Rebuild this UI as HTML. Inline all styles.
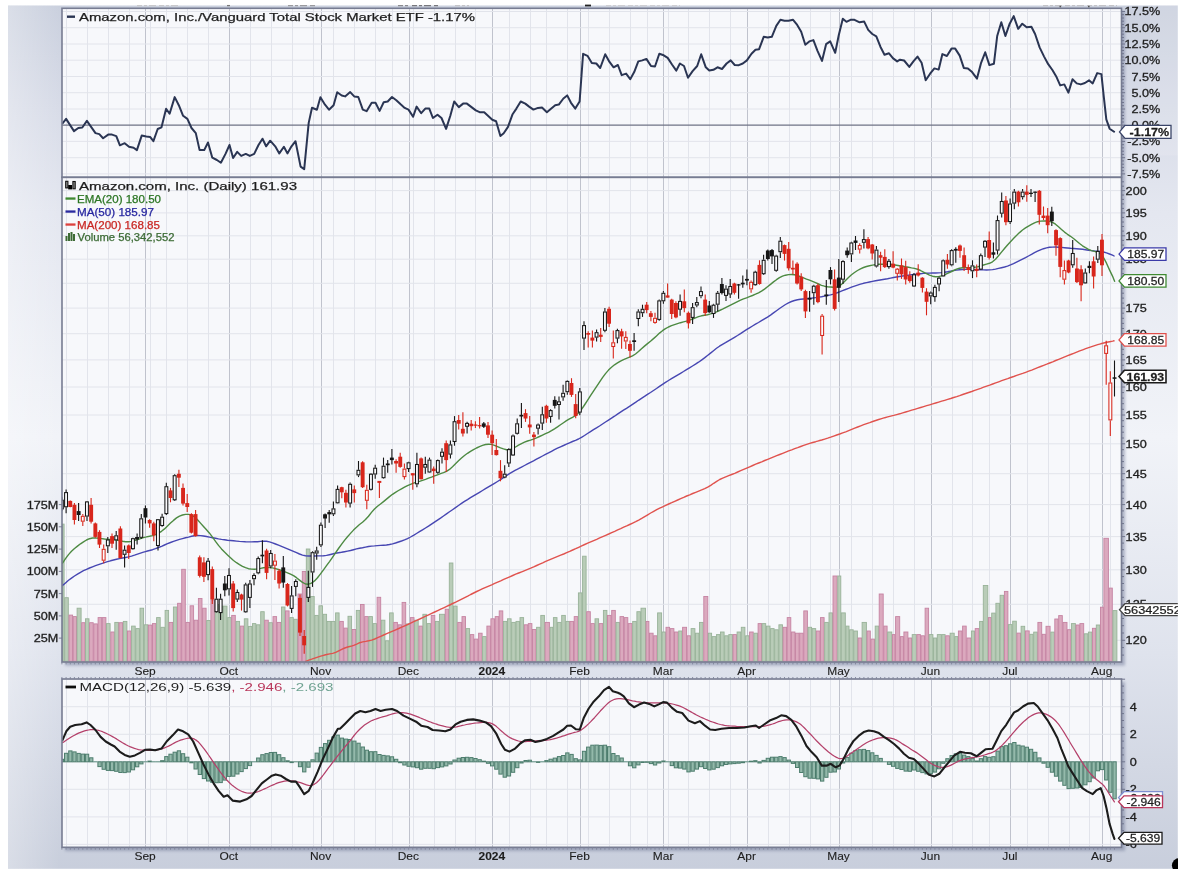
<!DOCTYPE html>
<html><head><meta charset="utf-8"><title>chart</title>
<style>html,body{margin:0;padding:0;background:#fff;}body{width:1182px;height:874px;position:relative;overflow:hidden;font-family:"Liberation Sans",sans-serif;}</style>
</head><body>
<svg width="1182" height="874" viewBox="0 0 1182 874" style="position:absolute;left:0;top:0;font-family:'Liberation Sans',sans-serif">
<defs>
<linearGradient id="bg" x1="0" x2="0" y1="0" y2="1">
<stop offset="0" stop-color="#cad0de"/><stop offset="0.12" stop-color="#d8dce8"/><stop offset="0.24" stop-color="#e4e7f0"/><stop offset="0.5" stop-color="#f1f3f8"/><stop offset="0.75" stop-color="#dfe3ed"/><stop offset="0.88" stop-color="#d3d8e4"/><stop offset="1" stop-color="#c8cedc"/>
</linearGradient>
<linearGradient id="lw" x1="0" x2="1" y1="0" y2="0">
<stop offset="0" stop-color="#ffffff" stop-opacity="0.3"/><stop offset="1" stop-color="#ffffff" stop-opacity="0"/>
</linearGradient>
<filter id="blur" x="-2%" y="-2%" width="104%" height="104%"><feGaussianBlur stdDeviation="0.38"/></filter>
<filter id="sh" x="-5%" y="-5%" width="110%" height="110%"><feGaussianBlur stdDeviation="1.8"/></filter>
<clipPath id="cpb"><rect x="8" y="5.5" width="1169.8" height="863.3"/></clipPath>
<clipPath id="cp1"><rect x="62" y="8" width="1059.5" height="169.3"/></clipPath>
<clipPath id="cp2"><rect x="62" y="177" width="1059.5" height="485"/></clipPath>
<clipPath id="cp3"><rect x="62" y="679" width="1059.5" height="168.3"/></clipPath>
</defs>
<rect x="0" y="0" width="1182" height="874" fill="#ffffff"/>
<g filter="url(#blur)">
<rect x="8" y="5.5" width="1169.8" height="863.3" fill="url(#bg)"/>
<rect x="8" y="5.5" width="52" height="863.3" fill="url(#lw)"/>
<rect x="1150" y="5.5" width="27.8" height="150" fill="#ffffff" opacity="0.12"/>
<rect x="65" y="11.3" width="1060.0" height="654.2" fill="#5a6486" opacity="0.42" filter="url(#sh)"/>
<rect x="65" y="682" width="1060.0" height="168.79999999999995" fill="#5a6486" opacity="0.42" filter="url(#sh)"/>
<rect x="62" y="8.3" width="1059.5" height="169.0" fill="#f7f8fb"/>
<rect x="62" y="177.3" width="1059.5" height="484.7" fill="#f7f8fb"/>
<rect x="62" y="679" width="1059.5" height="168.29999999999995" fill="#f7f8fb"/>
<line x1="66.5" y1="8.3" x2="66.5" y2="177.3" stroke="#e2e4eb" stroke-width="1"/>
<line x1="87.5" y1="8.3" x2="87.5" y2="177.3" stroke="#e2e4eb" stroke-width="1"/>
<line x1="108.5" y1="8.3" x2="108.5" y2="177.3" stroke="#e2e4eb" stroke-width="1"/>
<line x1="129.5" y1="8.3" x2="129.5" y2="177.3" stroke="#e2e4eb" stroke-width="1"/>
<line x1="150.5" y1="8.3" x2="150.5" y2="177.3" stroke="#e2e4eb" stroke-width="1"/>
<line x1="166.5" y1="8.3" x2="166.5" y2="177.3" stroke="#e2e4eb" stroke-width="1"/>
<line x1="187.5" y1="8.3" x2="187.5" y2="177.3" stroke="#e2e4eb" stroke-width="1"/>
<line x1="208.5" y1="8.3" x2="208.5" y2="177.3" stroke="#e2e4eb" stroke-width="1"/>
<line x1="250.5" y1="8.3" x2="250.5" y2="177.3" stroke="#e2e4eb" stroke-width="1"/>
<line x1="271.5" y1="8.3" x2="271.5" y2="177.3" stroke="#e2e4eb" stroke-width="1"/>
<line x1="292.5" y1="8.3" x2="292.5" y2="177.3" stroke="#e2e4eb" stroke-width="1"/>
<line x1="313.5" y1="8.3" x2="313.5" y2="177.3" stroke="#e2e4eb" stroke-width="1"/>
<line x1="333.5" y1="8.3" x2="333.5" y2="177.3" stroke="#e2e4eb" stroke-width="1"/>
<line x1="354.5" y1="8.3" x2="354.5" y2="177.3" stroke="#e2e4eb" stroke-width="1"/>
<line x1="375.5" y1="8.3" x2="375.5" y2="177.3" stroke="#e2e4eb" stroke-width="1"/>
<line x1="392.5" y1="8.3" x2="392.5" y2="177.3" stroke="#e2e4eb" stroke-width="1"/>
<line x1="413.5" y1="8.3" x2="413.5" y2="177.3" stroke="#e2e4eb" stroke-width="1"/>
<line x1="434.5" y1="8.3" x2="434.5" y2="177.3" stroke="#e2e4eb" stroke-width="1"/>
<line x1="455.5" y1="8.3" x2="455.5" y2="177.3" stroke="#e2e4eb" stroke-width="1"/>
<line x1="475.5" y1="8.3" x2="475.5" y2="177.3" stroke="#e2e4eb" stroke-width="1"/>
<line x1="509.5" y1="8.3" x2="509.5" y2="177.3" stroke="#e2e4eb" stroke-width="1"/>
<line x1="530.5" y1="8.3" x2="530.5" y2="177.3" stroke="#e2e4eb" stroke-width="1"/>
<line x1="546.5" y1="8.3" x2="546.5" y2="177.3" stroke="#e2e4eb" stroke-width="1"/>
<line x1="567.5" y1="8.3" x2="567.5" y2="177.3" stroke="#e2e4eb" stroke-width="1"/>
<line x1="588.5" y1="8.3" x2="588.5" y2="177.3" stroke="#e2e4eb" stroke-width="1"/>
<line x1="609.5" y1="8.3" x2="609.5" y2="177.3" stroke="#e2e4eb" stroke-width="1"/>
<line x1="630.5" y1="8.3" x2="630.5" y2="177.3" stroke="#e2e4eb" stroke-width="1"/>
<line x1="647.5" y1="8.3" x2="647.5" y2="177.3" stroke="#e2e4eb" stroke-width="1"/>
<line x1="668.5" y1="8.3" x2="668.5" y2="177.3" stroke="#e2e4eb" stroke-width="1"/>
<line x1="688.5" y1="8.3" x2="688.5" y2="177.3" stroke="#e2e4eb" stroke-width="1"/>
<line x1="709.5" y1="8.3" x2="709.5" y2="177.3" stroke="#e2e4eb" stroke-width="1"/>
<line x1="730.5" y1="8.3" x2="730.5" y2="177.3" stroke="#e2e4eb" stroke-width="1"/>
<line x1="768.5" y1="8.3" x2="768.5" y2="177.3" stroke="#e2e4eb" stroke-width="1"/>
<line x1="789.5" y1="8.3" x2="789.5" y2="177.3" stroke="#e2e4eb" stroke-width="1"/>
<line x1="810.5" y1="8.3" x2="810.5" y2="177.3" stroke="#e2e4eb" stroke-width="1"/>
<line x1="830.5" y1="8.3" x2="830.5" y2="177.3" stroke="#e2e4eb" stroke-width="1"/>
<line x1="851.5" y1="8.3" x2="851.5" y2="177.3" stroke="#e2e4eb" stroke-width="1"/>
<line x1="872.5" y1="8.3" x2="872.5" y2="177.3" stroke="#e2e4eb" stroke-width="1"/>
<line x1="893.5" y1="8.3" x2="893.5" y2="177.3" stroke="#e2e4eb" stroke-width="1"/>
<line x1="914.5" y1="8.3" x2="914.5" y2="177.3" stroke="#e2e4eb" stroke-width="1"/>
<line x1="952.5" y1="8.3" x2="952.5" y2="177.3" stroke="#e2e4eb" stroke-width="1"/>
<line x1="972.5" y1="8.3" x2="972.5" y2="177.3" stroke="#e2e4eb" stroke-width="1"/>
<line x1="989.5" y1="8.3" x2="989.5" y2="177.3" stroke="#e2e4eb" stroke-width="1"/>
<line x1="1027.5" y1="8.3" x2="1027.5" y2="177.3" stroke="#e2e4eb" stroke-width="1"/>
<line x1="1048.5" y1="8.3" x2="1048.5" y2="177.3" stroke="#e2e4eb" stroke-width="1"/>
<line x1="1069.5" y1="8.3" x2="1069.5" y2="177.3" stroke="#e2e4eb" stroke-width="1"/>
<line x1="1089.5" y1="8.3" x2="1089.5" y2="177.3" stroke="#e2e4eb" stroke-width="1"/>
<line x1="1110.5" y1="8.3" x2="1110.5" y2="177.3" stroke="#e2e4eb" stroke-width="1"/>
<line x1="145.5" y1="8.3" x2="145.5" y2="177.3" stroke="#c0c3cd" stroke-width="1"/>
<line x1="229.5" y1="8.3" x2="229.5" y2="177.3" stroke="#c0c3cd" stroke-width="1"/>
<line x1="321.5" y1="8.3" x2="321.5" y2="177.3" stroke="#c0c3cd" stroke-width="1"/>
<line x1="409.5" y1="8.3" x2="409.5" y2="177.3" stroke="#c0c3cd" stroke-width="1"/>
<line x1="492.5" y1="8.3" x2="492.5" y2="177.3" stroke="#c0c3cd" stroke-width="1"/>
<line x1="580.5" y1="8.3" x2="580.5" y2="177.3" stroke="#c0c3cd" stroke-width="1"/>
<line x1="663.5" y1="8.3" x2="663.5" y2="177.3" stroke="#c0c3cd" stroke-width="1"/>
<line x1="747.5" y1="8.3" x2="747.5" y2="177.3" stroke="#c0c3cd" stroke-width="1"/>
<line x1="839.5" y1="8.3" x2="839.5" y2="177.3" stroke="#c0c3cd" stroke-width="1"/>
<line x1="931.5" y1="8.3" x2="931.5" y2="177.3" stroke="#c0c3cd" stroke-width="1"/>
<line x1="1010.5" y1="8.3" x2="1010.5" y2="177.3" stroke="#c0c3cd" stroke-width="1"/>
<line x1="1102.5" y1="8.3" x2="1102.5" y2="177.3" stroke="#c0c3cd" stroke-width="1"/>
<line x1="66.5" y1="177.3" x2="66.5" y2="662" stroke="#e2e4eb" stroke-width="1"/>
<line x1="87.5" y1="177.3" x2="87.5" y2="662" stroke="#e2e4eb" stroke-width="1"/>
<line x1="108.5" y1="177.3" x2="108.5" y2="662" stroke="#e2e4eb" stroke-width="1"/>
<line x1="129.5" y1="177.3" x2="129.5" y2="662" stroke="#e2e4eb" stroke-width="1"/>
<line x1="150.5" y1="177.3" x2="150.5" y2="662" stroke="#e2e4eb" stroke-width="1"/>
<line x1="166.5" y1="177.3" x2="166.5" y2="662" stroke="#e2e4eb" stroke-width="1"/>
<line x1="187.5" y1="177.3" x2="187.5" y2="662" stroke="#e2e4eb" stroke-width="1"/>
<line x1="208.5" y1="177.3" x2="208.5" y2="662" stroke="#e2e4eb" stroke-width="1"/>
<line x1="250.5" y1="177.3" x2="250.5" y2="662" stroke="#e2e4eb" stroke-width="1"/>
<line x1="271.5" y1="177.3" x2="271.5" y2="662" stroke="#e2e4eb" stroke-width="1"/>
<line x1="292.5" y1="177.3" x2="292.5" y2="662" stroke="#e2e4eb" stroke-width="1"/>
<line x1="313.5" y1="177.3" x2="313.5" y2="662" stroke="#e2e4eb" stroke-width="1"/>
<line x1="333.5" y1="177.3" x2="333.5" y2="662" stroke="#e2e4eb" stroke-width="1"/>
<line x1="354.5" y1="177.3" x2="354.5" y2="662" stroke="#e2e4eb" stroke-width="1"/>
<line x1="375.5" y1="177.3" x2="375.5" y2="662" stroke="#e2e4eb" stroke-width="1"/>
<line x1="392.5" y1="177.3" x2="392.5" y2="662" stroke="#e2e4eb" stroke-width="1"/>
<line x1="413.5" y1="177.3" x2="413.5" y2="662" stroke="#e2e4eb" stroke-width="1"/>
<line x1="434.5" y1="177.3" x2="434.5" y2="662" stroke="#e2e4eb" stroke-width="1"/>
<line x1="455.5" y1="177.3" x2="455.5" y2="662" stroke="#e2e4eb" stroke-width="1"/>
<line x1="475.5" y1="177.3" x2="475.5" y2="662" stroke="#e2e4eb" stroke-width="1"/>
<line x1="509.5" y1="177.3" x2="509.5" y2="662" stroke="#e2e4eb" stroke-width="1"/>
<line x1="530.5" y1="177.3" x2="530.5" y2="662" stroke="#e2e4eb" stroke-width="1"/>
<line x1="546.5" y1="177.3" x2="546.5" y2="662" stroke="#e2e4eb" stroke-width="1"/>
<line x1="567.5" y1="177.3" x2="567.5" y2="662" stroke="#e2e4eb" stroke-width="1"/>
<line x1="588.5" y1="177.3" x2="588.5" y2="662" stroke="#e2e4eb" stroke-width="1"/>
<line x1="609.5" y1="177.3" x2="609.5" y2="662" stroke="#e2e4eb" stroke-width="1"/>
<line x1="630.5" y1="177.3" x2="630.5" y2="662" stroke="#e2e4eb" stroke-width="1"/>
<line x1="647.5" y1="177.3" x2="647.5" y2="662" stroke="#e2e4eb" stroke-width="1"/>
<line x1="668.5" y1="177.3" x2="668.5" y2="662" stroke="#e2e4eb" stroke-width="1"/>
<line x1="688.5" y1="177.3" x2="688.5" y2="662" stroke="#e2e4eb" stroke-width="1"/>
<line x1="709.5" y1="177.3" x2="709.5" y2="662" stroke="#e2e4eb" stroke-width="1"/>
<line x1="730.5" y1="177.3" x2="730.5" y2="662" stroke="#e2e4eb" stroke-width="1"/>
<line x1="768.5" y1="177.3" x2="768.5" y2="662" stroke="#e2e4eb" stroke-width="1"/>
<line x1="789.5" y1="177.3" x2="789.5" y2="662" stroke="#e2e4eb" stroke-width="1"/>
<line x1="810.5" y1="177.3" x2="810.5" y2="662" stroke="#e2e4eb" stroke-width="1"/>
<line x1="830.5" y1="177.3" x2="830.5" y2="662" stroke="#e2e4eb" stroke-width="1"/>
<line x1="851.5" y1="177.3" x2="851.5" y2="662" stroke="#e2e4eb" stroke-width="1"/>
<line x1="872.5" y1="177.3" x2="872.5" y2="662" stroke="#e2e4eb" stroke-width="1"/>
<line x1="893.5" y1="177.3" x2="893.5" y2="662" stroke="#e2e4eb" stroke-width="1"/>
<line x1="914.5" y1="177.3" x2="914.5" y2="662" stroke="#e2e4eb" stroke-width="1"/>
<line x1="952.5" y1="177.3" x2="952.5" y2="662" stroke="#e2e4eb" stroke-width="1"/>
<line x1="972.5" y1="177.3" x2="972.5" y2="662" stroke="#e2e4eb" stroke-width="1"/>
<line x1="989.5" y1="177.3" x2="989.5" y2="662" stroke="#e2e4eb" stroke-width="1"/>
<line x1="1027.5" y1="177.3" x2="1027.5" y2="662" stroke="#e2e4eb" stroke-width="1"/>
<line x1="1048.5" y1="177.3" x2="1048.5" y2="662" stroke="#e2e4eb" stroke-width="1"/>
<line x1="1069.5" y1="177.3" x2="1069.5" y2="662" stroke="#e2e4eb" stroke-width="1"/>
<line x1="1089.5" y1="177.3" x2="1089.5" y2="662" stroke="#e2e4eb" stroke-width="1"/>
<line x1="1110.5" y1="177.3" x2="1110.5" y2="662" stroke="#e2e4eb" stroke-width="1"/>
<line x1="145.5" y1="177.3" x2="145.5" y2="662" stroke="#c0c3cd" stroke-width="1"/>
<line x1="229.5" y1="177.3" x2="229.5" y2="662" stroke="#c0c3cd" stroke-width="1"/>
<line x1="321.5" y1="177.3" x2="321.5" y2="662" stroke="#c0c3cd" stroke-width="1"/>
<line x1="409.5" y1="177.3" x2="409.5" y2="662" stroke="#c0c3cd" stroke-width="1"/>
<line x1="492.5" y1="177.3" x2="492.5" y2="662" stroke="#c0c3cd" stroke-width="1"/>
<line x1="580.5" y1="177.3" x2="580.5" y2="662" stroke="#c0c3cd" stroke-width="1"/>
<line x1="663.5" y1="177.3" x2="663.5" y2="662" stroke="#c0c3cd" stroke-width="1"/>
<line x1="747.5" y1="177.3" x2="747.5" y2="662" stroke="#c0c3cd" stroke-width="1"/>
<line x1="839.5" y1="177.3" x2="839.5" y2="662" stroke="#c0c3cd" stroke-width="1"/>
<line x1="931.5" y1="177.3" x2="931.5" y2="662" stroke="#c0c3cd" stroke-width="1"/>
<line x1="1010.5" y1="177.3" x2="1010.5" y2="662" stroke="#c0c3cd" stroke-width="1"/>
<line x1="1102.5" y1="177.3" x2="1102.5" y2="662" stroke="#c0c3cd" stroke-width="1"/>
<line x1="66.5" y1="679" x2="66.5" y2="847.3" stroke="#e2e4eb" stroke-width="1"/>
<line x1="87.5" y1="679" x2="87.5" y2="847.3" stroke="#e2e4eb" stroke-width="1"/>
<line x1="108.5" y1="679" x2="108.5" y2="847.3" stroke="#e2e4eb" stroke-width="1"/>
<line x1="129.5" y1="679" x2="129.5" y2="847.3" stroke="#e2e4eb" stroke-width="1"/>
<line x1="150.5" y1="679" x2="150.5" y2="847.3" stroke="#e2e4eb" stroke-width="1"/>
<line x1="166.5" y1="679" x2="166.5" y2="847.3" stroke="#e2e4eb" stroke-width="1"/>
<line x1="187.5" y1="679" x2="187.5" y2="847.3" stroke="#e2e4eb" stroke-width="1"/>
<line x1="208.5" y1="679" x2="208.5" y2="847.3" stroke="#e2e4eb" stroke-width="1"/>
<line x1="250.5" y1="679" x2="250.5" y2="847.3" stroke="#e2e4eb" stroke-width="1"/>
<line x1="271.5" y1="679" x2="271.5" y2="847.3" stroke="#e2e4eb" stroke-width="1"/>
<line x1="292.5" y1="679" x2="292.5" y2="847.3" stroke="#e2e4eb" stroke-width="1"/>
<line x1="313.5" y1="679" x2="313.5" y2="847.3" stroke="#e2e4eb" stroke-width="1"/>
<line x1="333.5" y1="679" x2="333.5" y2="847.3" stroke="#e2e4eb" stroke-width="1"/>
<line x1="354.5" y1="679" x2="354.5" y2="847.3" stroke="#e2e4eb" stroke-width="1"/>
<line x1="375.5" y1="679" x2="375.5" y2="847.3" stroke="#e2e4eb" stroke-width="1"/>
<line x1="392.5" y1="679" x2="392.5" y2="847.3" stroke="#e2e4eb" stroke-width="1"/>
<line x1="413.5" y1="679" x2="413.5" y2="847.3" stroke="#e2e4eb" stroke-width="1"/>
<line x1="434.5" y1="679" x2="434.5" y2="847.3" stroke="#e2e4eb" stroke-width="1"/>
<line x1="455.5" y1="679" x2="455.5" y2="847.3" stroke="#e2e4eb" stroke-width="1"/>
<line x1="475.5" y1="679" x2="475.5" y2="847.3" stroke="#e2e4eb" stroke-width="1"/>
<line x1="509.5" y1="679" x2="509.5" y2="847.3" stroke="#e2e4eb" stroke-width="1"/>
<line x1="530.5" y1="679" x2="530.5" y2="847.3" stroke="#e2e4eb" stroke-width="1"/>
<line x1="546.5" y1="679" x2="546.5" y2="847.3" stroke="#e2e4eb" stroke-width="1"/>
<line x1="567.5" y1="679" x2="567.5" y2="847.3" stroke="#e2e4eb" stroke-width="1"/>
<line x1="588.5" y1="679" x2="588.5" y2="847.3" stroke="#e2e4eb" stroke-width="1"/>
<line x1="609.5" y1="679" x2="609.5" y2="847.3" stroke="#e2e4eb" stroke-width="1"/>
<line x1="630.5" y1="679" x2="630.5" y2="847.3" stroke="#e2e4eb" stroke-width="1"/>
<line x1="647.5" y1="679" x2="647.5" y2="847.3" stroke="#e2e4eb" stroke-width="1"/>
<line x1="668.5" y1="679" x2="668.5" y2="847.3" stroke="#e2e4eb" stroke-width="1"/>
<line x1="688.5" y1="679" x2="688.5" y2="847.3" stroke="#e2e4eb" stroke-width="1"/>
<line x1="709.5" y1="679" x2="709.5" y2="847.3" stroke="#e2e4eb" stroke-width="1"/>
<line x1="730.5" y1="679" x2="730.5" y2="847.3" stroke="#e2e4eb" stroke-width="1"/>
<line x1="768.5" y1="679" x2="768.5" y2="847.3" stroke="#e2e4eb" stroke-width="1"/>
<line x1="789.5" y1="679" x2="789.5" y2="847.3" stroke="#e2e4eb" stroke-width="1"/>
<line x1="810.5" y1="679" x2="810.5" y2="847.3" stroke="#e2e4eb" stroke-width="1"/>
<line x1="830.5" y1="679" x2="830.5" y2="847.3" stroke="#e2e4eb" stroke-width="1"/>
<line x1="851.5" y1="679" x2="851.5" y2="847.3" stroke="#e2e4eb" stroke-width="1"/>
<line x1="872.5" y1="679" x2="872.5" y2="847.3" stroke="#e2e4eb" stroke-width="1"/>
<line x1="893.5" y1="679" x2="893.5" y2="847.3" stroke="#e2e4eb" stroke-width="1"/>
<line x1="914.5" y1="679" x2="914.5" y2="847.3" stroke="#e2e4eb" stroke-width="1"/>
<line x1="952.5" y1="679" x2="952.5" y2="847.3" stroke="#e2e4eb" stroke-width="1"/>
<line x1="972.5" y1="679" x2="972.5" y2="847.3" stroke="#e2e4eb" stroke-width="1"/>
<line x1="989.5" y1="679" x2="989.5" y2="847.3" stroke="#e2e4eb" stroke-width="1"/>
<line x1="1027.5" y1="679" x2="1027.5" y2="847.3" stroke="#e2e4eb" stroke-width="1"/>
<line x1="1048.5" y1="679" x2="1048.5" y2="847.3" stroke="#e2e4eb" stroke-width="1"/>
<line x1="1069.5" y1="679" x2="1069.5" y2="847.3" stroke="#e2e4eb" stroke-width="1"/>
<line x1="1089.5" y1="679" x2="1089.5" y2="847.3" stroke="#e2e4eb" stroke-width="1"/>
<line x1="1110.5" y1="679" x2="1110.5" y2="847.3" stroke="#e2e4eb" stroke-width="1"/>
<line x1="145.5" y1="679" x2="145.5" y2="847.3" stroke="#c0c3cd" stroke-width="1"/>
<line x1="229.5" y1="679" x2="229.5" y2="847.3" stroke="#c0c3cd" stroke-width="1"/>
<line x1="321.5" y1="679" x2="321.5" y2="847.3" stroke="#c0c3cd" stroke-width="1"/>
<line x1="409.5" y1="679" x2="409.5" y2="847.3" stroke="#c0c3cd" stroke-width="1"/>
<line x1="492.5" y1="679" x2="492.5" y2="847.3" stroke="#c0c3cd" stroke-width="1"/>
<line x1="580.5" y1="679" x2="580.5" y2="847.3" stroke="#c0c3cd" stroke-width="1"/>
<line x1="663.5" y1="679" x2="663.5" y2="847.3" stroke="#c0c3cd" stroke-width="1"/>
<line x1="747.5" y1="679" x2="747.5" y2="847.3" stroke="#c0c3cd" stroke-width="1"/>
<line x1="839.5" y1="679" x2="839.5" y2="847.3" stroke="#c0c3cd" stroke-width="1"/>
<line x1="931.5" y1="679" x2="931.5" y2="847.3" stroke="#c0c3cd" stroke-width="1"/>
<line x1="1010.5" y1="679" x2="1010.5" y2="847.3" stroke="#c0c3cd" stroke-width="1"/>
<line x1="1102.5" y1="679" x2="1102.5" y2="847.3" stroke="#c0c3cd" stroke-width="1"/>
<line x1="62" y1="173.9" x2="1121.5" y2="173.9" stroke="#e2e4eb" stroke-width="1"/>
<line x1="62" y1="157.7" x2="1121.5" y2="157.7" stroke="#e2e4eb" stroke-width="1"/>
<line x1="62" y1="141.4" x2="1121.5" y2="141.4" stroke="#e2e4eb" stroke-width="1"/>
<line x1="62" y1="109.0" x2="1121.5" y2="109.0" stroke="#e2e4eb" stroke-width="1"/>
<line x1="62" y1="92.7" x2="1121.5" y2="92.7" stroke="#e2e4eb" stroke-width="1"/>
<line x1="62" y1="76.5" x2="1121.5" y2="76.5" stroke="#e2e4eb" stroke-width="1"/>
<line x1="62" y1="60.2" x2="1121.5" y2="60.2" stroke="#e2e4eb" stroke-width="1"/>
<line x1="62" y1="44.0" x2="1121.5" y2="44.0" stroke="#e2e4eb" stroke-width="1"/>
<line x1="62" y1="27.7" x2="1121.5" y2="27.7" stroke="#e2e4eb" stroke-width="1"/>
<line x1="62" y1="11.5" x2="1121.5" y2="11.5" stroke="#e2e4eb" stroke-width="1"/>
<line x1="62" y1="640.3" x2="1121.5" y2="640.3" stroke="#e2e4eb" stroke-width="1"/>
<line x1="62" y1="604.3" x2="1121.5" y2="604.3" stroke="#e2e4eb" stroke-width="1"/>
<line x1="62" y1="569.8" x2="1121.5" y2="569.8" stroke="#e2e4eb" stroke-width="1"/>
<line x1="62" y1="536.6" x2="1121.5" y2="536.6" stroke="#e2e4eb" stroke-width="1"/>
<line x1="62" y1="504.6" x2="1121.5" y2="504.6" stroke="#e2e4eb" stroke-width="1"/>
<line x1="62" y1="473.7" x2="1121.5" y2="473.7" stroke="#e2e4eb" stroke-width="1"/>
<line x1="62" y1="443.8" x2="1121.5" y2="443.8" stroke="#e2e4eb" stroke-width="1"/>
<line x1="62" y1="415.0" x2="1121.5" y2="415.0" stroke="#e2e4eb" stroke-width="1"/>
<line x1="62" y1="387.0" x2="1121.5" y2="387.0" stroke="#e2e4eb" stroke-width="1"/>
<line x1="62" y1="359.9" x2="1121.5" y2="359.9" stroke="#e2e4eb" stroke-width="1"/>
<line x1="62" y1="333.7" x2="1121.5" y2="333.7" stroke="#e2e4eb" stroke-width="1"/>
<line x1="62" y1="308.1" x2="1121.5" y2="308.1" stroke="#e2e4eb" stroke-width="1"/>
<line x1="62" y1="283.3" x2="1121.5" y2="283.3" stroke="#e2e4eb" stroke-width="1"/>
<line x1="62" y1="259.2" x2="1121.5" y2="259.2" stroke="#e2e4eb" stroke-width="1"/>
<line x1="62" y1="235.8" x2="1121.5" y2="235.8" stroke="#e2e4eb" stroke-width="1"/>
<line x1="62" y1="212.9" x2="1121.5" y2="212.9" stroke="#e2e4eb" stroke-width="1"/>
<line x1="62" y1="190.6" x2="1121.5" y2="190.6" stroke="#e2e4eb" stroke-width="1"/>
<line x1="62" y1="844.4" x2="1121.5" y2="844.4" stroke="#e2e4eb" stroke-width="1"/>
<line x1="62" y1="816.9" x2="1121.5" y2="816.9" stroke="#e2e4eb" stroke-width="1"/>
<line x1="62" y1="789.3" x2="1121.5" y2="789.3" stroke="#e2e4eb" stroke-width="1"/>
<line x1="62" y1="761.8" x2="1121.5" y2="761.8" stroke="#e2e4eb" stroke-width="1"/>
<line x1="62" y1="734.3" x2="1121.5" y2="734.3" stroke="#e2e4eb" stroke-width="1"/>
<line x1="62" y1="706.7" x2="1121.5" y2="706.7" stroke="#e2e4eb" stroke-width="1"/>
<line x1="62" y1="679.2" x2="1121.5" y2="679.2" stroke="#e2e4eb" stroke-width="1"/>
<g clip-path="url(#cp1)">
<line x1="62" y1="125.2" x2="1121.5" y2="125.2" stroke="#6f7386" stroke-width="1.3"/>
<polyline points="62.5,123.5 66.1,118.9 74.0,131.1 78.3,128.0 82.3,127.5 86.9,120.9 95.5,133.1 99.3,134.1 103.1,138.2 108.2,134.6 112.0,134.6 116.3,136.1 119.9,145.3 124.7,143.2 129.0,146.8 133.6,147.8 136.9,150.1 141.7,135.6 146.3,136.6 150.1,136.9 153.4,141.2 157.7,129.0 161.5,127.3 166.1,108.7 169.6,113.8 174.7,97.1 178.8,105.2 183.1,115.8 187.4,118.9 191.5,128.0 195.8,133.1 199.6,150.1 204.2,150.1 208.0,142.5 212.3,157.7 216.9,160.0 220.9,162.8 225.5,153.9 229.5,145.0 233.1,158.0 237.2,151.9 241.2,155.9 245.8,153.9 249.8,155.9 254.2,153.9 258.5,145.0 262.5,138.7 266.1,146.3 270.2,140.7 275.2,146.3 279.3,153.4 283.9,146.8 287.4,153.4 291.5,146.3 295.5,141.2 300.6,166.6 304.2,169.1 308.7,122.9 312.0,107.7 316.9,109.7 320.4,97.3 325.0,104.7 329.0,109.7 333.6,105.2 337.2,92.2 341.7,95.5 345.1,96.4 350.2,92.1 354.2,96.4 358.3,97.0 362.8,109.6 366.6,111.2 371.7,102.8 375.5,102.8 379.6,110.9 383.7,102.3 387.7,101.5 392.0,97.0 396.3,100.3 400.9,104.6 404.7,107.9 408.5,109.6 413.1,116.8 416.6,106.6 421.2,113.2 425.3,108.6 429.3,108.6 432.9,118.0 437.5,114.7 441.5,118.0 446.1,128.9 450.4,115.5 454.2,101.5 458.8,107.1 463.1,103.6 466.9,103.6 471.5,107.1 475.8,110.4 479.6,112.2 484.2,112.2 488.5,116.2 492.3,119.8 496.1,121.3 500.4,136.0 503.7,133.2 508.0,126.9 512.6,114.2 516.4,108.6 520.7,101.5 525.3,103.6 529.1,106.6 533.4,109.6 538.0,107.9 542.0,107.6 546.9,112.2 550.7,109.1 555.2,105.3 558.8,104.6 563.4,98.5 567.2,95.4 571.0,102.8 575.3,108.6 579.6,101.5 583.1,53.8 587.5,55.8 591.8,62.9 596.3,63.5 600.2,68.0 605.2,54.3 609.5,61.9 613.6,67.3 617.9,65.0 621.7,75.1 626.1,73.6 630.2,79.2 634.2,72.1 638.3,61.4 642.3,60.4 646.4,58.9 651.0,66.0 655.0,66.5 659.3,53.8 663.7,55.3 667.7,57.9 672.0,64.5 676.3,70.6 679.9,63.5 684.0,66.0 688.0,77.7 692.6,71.1 697.2,66.0 701.2,54.3 705.8,67.3 709.3,70.6 713.4,69.8 717.5,67.3 722.0,69.0 726.6,63.5 730.7,60.4 734.7,65.0 738.8,65.2 742.8,63.5 746.9,60.4 751.5,53.8 755.5,49.7 759.1,49.2 763.7,36.8 767.7,37.6 771.8,36.8 776.3,25.9 780.4,19.8 784.5,20.8 788.5,20.8 793.1,19.8 797.2,24.9 801.2,31.7 805.3,44.7 809.3,41.4 813.4,40.1 817.5,50.8 822.0,60.9 826.1,44.2 830.2,41.4 835.2,52.8 838.8,35.0 842.8,18.8 846.4,21.8 850.5,19.8 854.5,19.8 859.6,22.3 864.2,21.6 868.2,29.9 872.3,34.0 876.3,36.3 880.4,46.7 884.5,54.8 889.0,53.3 893.1,58.4 897.2,61.4 900.0,59.7 904.1,60.5 909.3,66.9 913.4,61.4 917.5,56.6 921.6,62.8 925.7,80.3 930.1,73.7 934.4,68.4 938.7,69.6 942.4,54.1 946.9,56.0 951.5,48.6 955.2,48.6 959.7,55.6 963.8,67.9 967.9,68.4 972.1,72.1 977.0,78.6 981.1,62.8 985.2,52.3 989.4,65.1 993.9,63.8 997.2,36.0 1001.3,22.2 1005.4,36.0 1009.7,23.7 1013.7,16.1 1018.2,28.8 1022.3,23.7 1026.6,27.2 1031.4,26.8 1035.1,34.0 1039.6,47.4 1044.1,56.6 1048.2,64.2 1052.4,70.0 1056.1,76.2 1060.2,85.4 1064.3,84.4 1068.4,92.6 1072.5,79.3 1076.7,83.4 1080.8,84.4 1084.9,83.0 1089.0,80.3 1092.7,83.4 1097.2,73.1 1101.4,74.1 1103.8,96.8 1106.3,119.4 1109.6,128.7 1114.1,131.8" fill="none" stroke="#2b3553" stroke-width="2.0" stroke-linejoin="round" stroke-linecap="round" />
</g>
<g clip-path="url(#cp2)">
<rect x="62.5" y="524.1" width="1.6" height="137.2" fill="#b9ccb8" stroke="#98b298" stroke-width="0.9"/>
<rect x="64.7" y="597.7" width="3.6" height="63.6" fill="#b9ccb8" stroke="#98b298" stroke-width="0.9"/>
<rect x="69.0" y="615.1" width="3.6" height="46.2" fill="#dba9be" stroke="#c583a2" stroke-width="0.9"/>
<rect x="73.2" y="616.6" width="3.3" height="44.7" fill="#dba9be" stroke="#c583a2" stroke-width="0.9"/>
<rect x="77.1" y="608.2" width="4.0" height="53.1" fill="#b9ccb8" stroke="#98b298" stroke-width="0.9"/>
<rect x="81.7" y="622.7" width="3.3" height="38.6" fill="#dba9be" stroke="#c583a2" stroke-width="0.9"/>
<rect x="85.5" y="618.8" width="3.5" height="42.5" fill="#b9ccb8" stroke="#98b298" stroke-width="0.9"/>
<rect x="89.6" y="622.7" width="3.6" height="38.6" fill="#dba9be" stroke="#c583a2" stroke-width="0.9"/>
<rect x="93.8" y="623.9" width="3.6" height="37.4" fill="#dba9be" stroke="#c583a2" stroke-width="0.9"/>
<rect x="98.1" y="617.6" width="3.6" height="43.7" fill="#dba9be" stroke="#c583a2" stroke-width="0.9"/>
<rect x="102.3" y="617.6" width="3.6" height="43.7" fill="#dba9be" stroke="#c583a2" stroke-width="0.9"/>
<rect x="106.5" y="623.6" width="3.6" height="37.7" fill="#b9ccb8" stroke="#98b298" stroke-width="0.9"/>
<rect x="110.8" y="632.0" width="3.5" height="29.3" fill="#dba9be" stroke="#c583a2" stroke-width="0.9"/>
<rect x="114.8" y="622.4" width="3.6" height="38.9" fill="#b9ccb8" stroke="#98b298" stroke-width="0.9"/>
<rect x="119.0" y="622.7" width="3.6" height="38.6" fill="#dba9be" stroke="#c583a2" stroke-width="0.9"/>
<rect x="123.3" y="621.4" width="3.6" height="39.9" fill="#b9ccb8" stroke="#98b298" stroke-width="0.9"/>
<rect x="127.5" y="631.0" width="3.5" height="30.3" fill="#dba9be" stroke="#c583a2" stroke-width="0.9"/>
<rect x="131.6" y="626.1" width="3.6" height="35.2" fill="#b9ccb8" stroke="#98b298" stroke-width="0.9"/>
<rect x="135.8" y="628.6" width="3.6" height="32.7" fill="#b9ccb8" stroke="#98b298" stroke-width="0.9"/>
<rect x="140.0" y="608.2" width="3.6" height="53.1" fill="#b9ccb8" stroke="#98b298" stroke-width="0.9"/>
<rect x="144.3" y="624.8" width="3.5" height="36.5" fill="#b9ccb8" stroke="#98b298" stroke-width="0.9"/>
<rect x="148.3" y="625.1" width="3.6" height="36.2" fill="#dba9be" stroke="#c583a2" stroke-width="0.9"/>
<rect x="152.5" y="623.6" width="3.5" height="37.7" fill="#dba9be" stroke="#c583a2" stroke-width="0.9"/>
<rect x="156.6" y="617.6" width="3.6" height="43.7" fill="#b9ccb8" stroke="#98b298" stroke-width="0.9"/>
<rect x="160.8" y="627.3" width="3.6" height="34.0" fill="#b9ccb8" stroke="#98b298" stroke-width="0.9"/>
<rect x="165.1" y="610.4" width="3.5" height="50.9" fill="#b9ccb8" stroke="#98b298" stroke-width="0.9"/>
<rect x="169.1" y="622.4" width="3.6" height="38.9" fill="#dba9be" stroke="#c583a2" stroke-width="0.9"/>
<rect x="173.4" y="607.0" width="3.6" height="54.3" fill="#b9ccb8" stroke="#98b298" stroke-width="0.9"/>
<rect x="177.6" y="603.3" width="3.5" height="58.0" fill="#dba9be" stroke="#c583a2" stroke-width="0.9"/>
<rect x="181.7" y="569.3" width="3.6" height="92.0" fill="#dba9be" stroke="#c583a2" stroke-width="0.9"/>
<rect x="185.9" y="622.4" width="3.6" height="38.9" fill="#dba9be" stroke="#c583a2" stroke-width="0.9"/>
<rect x="190.1" y="605.8" width="3.5" height="55.5" fill="#dba9be" stroke="#c583a2" stroke-width="0.9"/>
<rect x="194.2" y="620.2" width="3.6" height="41.1" fill="#dba9be" stroke="#c583a2" stroke-width="0.9"/>
<rect x="198.4" y="598.5" width="3.6" height="62.8" fill="#dba9be" stroke="#c583a2" stroke-width="0.9"/>
<rect x="202.6" y="608.2" width="3.5" height="53.1" fill="#dba9be" stroke="#c583a2" stroke-width="0.9"/>
<rect x="206.7" y="620.5" width="3.6" height="40.8" fill="#b9ccb8" stroke="#98b298" stroke-width="0.9"/>
<rect x="210.9" y="600.2" width="3.6" height="61.1" fill="#dba9be" stroke="#c583a2" stroke-width="0.9"/>
<rect x="215.2" y="604.5" width="3.5" height="56.8" fill="#b9ccb8" stroke="#98b298" stroke-width="0.9"/>
<rect x="219.2" y="606.1" width="3.6" height="55.2" fill="#b9ccb8" stroke="#98b298" stroke-width="0.9"/>
<rect x="223.4" y="606.1" width="3.6" height="55.2" fill="#b9ccb8" stroke="#98b298" stroke-width="0.9"/>
<rect x="227.7" y="617.6" width="3.5" height="43.7" fill="#b9ccb8" stroke="#98b298" stroke-width="0.9"/>
<rect x="231.7" y="615.4" width="3.6" height="45.9" fill="#dba9be" stroke="#c583a2" stroke-width="0.9"/>
<rect x="236.0" y="621.4" width="3.6" height="39.9" fill="#b9ccb8" stroke="#98b298" stroke-width="0.9"/>
<rect x="240.2" y="626.1" width="3.5" height="35.2" fill="#dba9be" stroke="#c583a2" stroke-width="0.9"/>
<rect x="244.3" y="618.8" width="3.6" height="42.5" fill="#b9ccb8" stroke="#98b298" stroke-width="0.9"/>
<rect x="248.5" y="626.4" width="3.5" height="34.9" fill="#b9ccb8" stroke="#98b298" stroke-width="0.9"/>
<rect x="252.5" y="623.6" width="3.3" height="37.7" fill="#b9ccb8" stroke="#98b298" stroke-width="0.9"/>
<rect x="256.4" y="624.8" width="3.6" height="36.5" fill="#b9ccb8" stroke="#98b298" stroke-width="0.9"/>
<rect x="260.7" y="611.7" width="3.5" height="49.6" fill="#b9ccb8" stroke="#98b298" stroke-width="0.9"/>
<rect x="264.7" y="620.2" width="3.6" height="41.1" fill="#dba9be" stroke="#c583a2" stroke-width="0.9"/>
<rect x="268.9" y="622.7" width="3.5" height="38.6" fill="#b9ccb8" stroke="#98b298" stroke-width="0.9"/>
<rect x="273.0" y="616.6" width="3.6" height="44.7" fill="#dba9be" stroke="#c583a2" stroke-width="0.9"/>
<rect x="277.2" y="622.4" width="3.6" height="38.9" fill="#dba9be" stroke="#c583a2" stroke-width="0.9"/>
<rect x="281.5" y="607.0" width="3.5" height="54.3" fill="#b9ccb8" stroke="#98b298" stroke-width="0.9"/>
<rect x="285.5" y="610.9" width="3.6" height="50.4" fill="#dba9be" stroke="#c583a2" stroke-width="0.9"/>
<rect x="289.8" y="617.6" width="3.5" height="43.7" fill="#b9ccb8" stroke="#98b298" stroke-width="0.9"/>
<rect x="293.8" y="619.3" width="3.6" height="42.0" fill="#b9ccb8" stroke="#98b298" stroke-width="0.9"/>
<rect x="298.0" y="594.0" width="3.6" height="67.3" fill="#dba9be" stroke="#c583a2" stroke-width="0.9"/>
<rect x="302.3" y="571.5" width="3.5" height="89.8" fill="#dba9be" stroke="#c583a2" stroke-width="0.9"/>
<rect x="306.3" y="549.0" width="3.6" height="112.3" fill="#b9ccb8" stroke="#98b298" stroke-width="0.9"/>
<rect x="310.6" y="596.5" width="3.6" height="64.8" fill="#b9ccb8" stroke="#98b298" stroke-width="0.9"/>
<rect x="314.8" y="615.4" width="3.5" height="45.9" fill="#b9ccb8" stroke="#98b298" stroke-width="0.9"/>
<rect x="318.9" y="605.8" width="3.6" height="55.5" fill="#b9ccb8" stroke="#98b298" stroke-width="0.9"/>
<rect x="323.1" y="614.3" width="3.5" height="47.0" fill="#b9ccb8" stroke="#98b298" stroke-width="0.9"/>
<rect x="327.1" y="621.4" width="3.6" height="39.9" fill="#b9ccb8" stroke="#98b298" stroke-width="0.9"/>
<rect x="331.4" y="621.4" width="3.6" height="39.9" fill="#b9ccb8" stroke="#98b298" stroke-width="0.9"/>
<rect x="335.6" y="612.9" width="3.5" height="48.4" fill="#b9ccb8" stroke="#98b298" stroke-width="0.9"/>
<rect x="339.7" y="621.4" width="3.6" height="39.9" fill="#dba9be" stroke="#c583a2" stroke-width="0.9"/>
<rect x="343.9" y="628.1" width="3.5" height="33.2" fill="#dba9be" stroke="#c583a2" stroke-width="0.9"/>
<rect x="348.0" y="616.3" width="3.6" height="45.0" fill="#b9ccb8" stroke="#98b298" stroke-width="0.9"/>
<rect x="352.2" y="629.5" width="3.5" height="31.8" fill="#dba9be" stroke="#c583a2" stroke-width="0.9"/>
<rect x="356.3" y="610.4" width="3.6" height="50.9" fill="#b9ccb8" stroke="#98b298" stroke-width="0.9"/>
<rect x="360.5" y="604.5" width="3.6" height="56.8" fill="#dba9be" stroke="#c583a2" stroke-width="0.9"/>
<rect x="364.7" y="616.6" width="3.5" height="44.7" fill="#dba9be" stroke="#c583a2" stroke-width="0.9"/>
<rect x="368.8" y="616.6" width="3.6" height="44.7" fill="#b9ccb8" stroke="#98b298" stroke-width="0.9"/>
<rect x="373.0" y="623.6" width="3.5" height="37.7" fill="#b9ccb8" stroke="#98b298" stroke-width="0.9"/>
<rect x="377.1" y="597.3" width="3.6" height="64.0" fill="#dba9be" stroke="#c583a2" stroke-width="0.9"/>
<rect x="381.3" y="620.2" width="3.6" height="41.1" fill="#b9ccb8" stroke="#98b298" stroke-width="0.9"/>
<rect x="385.5" y="640.8" width="3.5" height="20.5" fill="#b9ccb8" stroke="#98b298" stroke-width="0.9"/>
<rect x="389.6" y="612.9" width="3.6" height="48.4" fill="#b9ccb8" stroke="#98b298" stroke-width="0.9"/>
<rect x="393.8" y="622.4" width="3.6" height="38.9" fill="#dba9be" stroke="#c583a2" stroke-width="0.9"/>
<rect x="398.0" y="624.8" width="3.5" height="36.5" fill="#dba9be" stroke="#c583a2" stroke-width="0.9"/>
<rect x="402.1" y="602.4" width="3.6" height="58.9" fill="#dba9be" stroke="#c583a2" stroke-width="0.9"/>
<rect x="406.3" y="623.9" width="3.5" height="37.4" fill="#b9ccb8" stroke="#98b298" stroke-width="0.9"/>
<rect x="410.4" y="617.6" width="3.6" height="43.7" fill="#dba9be" stroke="#c583a2" stroke-width="0.9"/>
<rect x="414.6" y="620.2" width="3.6" height="41.1" fill="#b9ccb8" stroke="#98b298" stroke-width="0.9"/>
<rect x="418.9" y="626.1" width="3.5" height="35.2" fill="#dba9be" stroke="#c583a2" stroke-width="0.9"/>
<rect x="422.9" y="614.3" width="3.6" height="47.0" fill="#b9ccb8" stroke="#98b298" stroke-width="0.9"/>
<rect x="427.1" y="623.6" width="3.5" height="37.7" fill="#b9ccb8" stroke="#98b298" stroke-width="0.9"/>
<rect x="431.2" y="615.4" width="3.6" height="45.9" fill="#dba9be" stroke="#c583a2" stroke-width="0.9"/>
<rect x="435.4" y="621.4" width="3.5" height="39.9" fill="#b9ccb8" stroke="#98b298" stroke-width="0.9"/>
<rect x="439.5" y="614.3" width="5.1" height="47.0" fill="#b9ccb8" stroke="#98b298" stroke-width="0.9"/>
<rect x="445.2" y="609.2" width="3.5" height="52.1" fill="#dba9be" stroke="#c583a2" stroke-width="0.9"/>
<rect x="449.3" y="563.0" width="3.6" height="98.3" fill="#b9ccb8" stroke="#98b298" stroke-width="0.9"/>
<rect x="453.5" y="606.1" width="3.6" height="55.2" fill="#b9ccb8" stroke="#98b298" stroke-width="0.9"/>
<rect x="457.8" y="622.4" width="3.6" height="38.9" fill="#dba9be" stroke="#c583a2" stroke-width="0.9"/>
<rect x="462.0" y="616.6" width="3.5" height="44.7" fill="#dba9be" stroke="#c583a2" stroke-width="0.9"/>
<rect x="466.0" y="628.6" width="3.6" height="32.7" fill="#b9ccb8" stroke="#98b298" stroke-width="0.9"/>
<rect x="470.3" y="634.6" width="3.5" height="26.7" fill="#dba9be" stroke="#c583a2" stroke-width="0.9"/>
<rect x="474.3" y="639.1" width="3.6" height="22.2" fill="#dba9be" stroke="#c583a2" stroke-width="0.9"/>
<rect x="478.6" y="633.2" width="3.5" height="28.1" fill="#dba9be" stroke="#c583a2" stroke-width="0.9"/>
<rect x="482.6" y="636.6" width="3.6" height="24.7" fill="#b9ccb8" stroke="#98b298" stroke-width="0.9"/>
<rect x="486.9" y="626.1" width="3.5" height="35.2" fill="#dba9be" stroke="#c583a2" stroke-width="0.9"/>
<rect x="490.9" y="618.8" width="3.6" height="42.5" fill="#dba9be" stroke="#c583a2" stroke-width="0.9"/>
<rect x="495.2" y="616.6" width="3.5" height="44.7" fill="#dba9be" stroke="#c583a2" stroke-width="0.9"/>
<rect x="499.2" y="610.9" width="3.6" height="50.4" fill="#dba9be" stroke="#c583a2" stroke-width="0.9"/>
<rect x="503.4" y="621.4" width="3.5" height="39.9" fill="#b9ccb8" stroke="#98b298" stroke-width="0.9"/>
<rect x="507.5" y="618.8" width="3.6" height="42.5" fill="#b9ccb8" stroke="#98b298" stroke-width="0.9"/>
<rect x="511.7" y="622.4" width="3.6" height="38.9" fill="#b9ccb8" stroke="#98b298" stroke-width="0.9"/>
<rect x="516.0" y="621.4" width="3.5" height="39.9" fill="#b9ccb8" stroke="#98b298" stroke-width="0.9"/>
<rect x="520.0" y="617.6" width="3.6" height="43.7" fill="#b9ccb8" stroke="#98b298" stroke-width="0.9"/>
<rect x="524.3" y="624.8" width="3.5" height="36.5" fill="#dba9be" stroke="#c583a2" stroke-width="0.9"/>
<rect x="528.3" y="623.6" width="3.6" height="37.7" fill="#dba9be" stroke="#c583a2" stroke-width="0.9"/>
<rect x="532.5" y="629.5" width="3.5" height="31.8" fill="#dba9be" stroke="#c583a2" stroke-width="0.9"/>
<rect x="536.6" y="627.3" width="3.6" height="34.0" fill="#b9ccb8" stroke="#98b298" stroke-width="0.9"/>
<rect x="540.8" y="615.4" width="3.6" height="45.9" fill="#b9ccb8" stroke="#98b298" stroke-width="0.9"/>
<rect x="545.1" y="622.4" width="4.3" height="38.9" fill="#dba9be" stroke="#c583a2" stroke-width="0.9"/>
<rect x="550.0" y="627.3" width="2.8" height="34.0" fill="#b9ccb8" stroke="#98b298" stroke-width="0.9"/>
<rect x="553.4" y="617.6" width="3.6" height="43.7" fill="#b9ccb8" stroke="#98b298" stroke-width="0.9"/>
<rect x="557.6" y="622.4" width="3.5" height="38.9" fill="#b9ccb8" stroke="#98b298" stroke-width="0.9"/>
<rect x="561.7" y="615.4" width="3.6" height="45.9" fill="#b9ccb8" stroke="#98b298" stroke-width="0.9"/>
<rect x="565.9" y="621.4" width="3.5" height="39.9" fill="#b9ccb8" stroke="#98b298" stroke-width="0.9"/>
<rect x="569.9" y="621.4" width="3.6" height="39.9" fill="#dba9be" stroke="#c583a2" stroke-width="0.9"/>
<rect x="574.2" y="616.6" width="3.6" height="44.7" fill="#dba9be" stroke="#c583a2" stroke-width="0.9"/>
<rect x="578.4" y="592.9" width="3.6" height="68.4" fill="#b9ccb8" stroke="#98b298" stroke-width="0.9"/>
<rect x="582.6" y="556.2" width="3.5" height="105.1" fill="#b9ccb8" stroke="#98b298" stroke-width="0.9"/>
<rect x="586.7" y="611.7" width="3.6" height="49.6" fill="#dba9be" stroke="#c583a2" stroke-width="0.9"/>
<rect x="590.9" y="623.6" width="3.5" height="37.7" fill="#dba9be" stroke="#c583a2" stroke-width="0.9"/>
<rect x="595.0" y="618.8" width="3.6" height="42.5" fill="#b9ccb8" stroke="#98b298" stroke-width="0.9"/>
<rect x="599.2" y="623.6" width="3.6" height="37.7" fill="#dba9be" stroke="#c583a2" stroke-width="0.9"/>
<rect x="603.4" y="610.4" width="3.5" height="50.9" fill="#b9ccb8" stroke="#98b298" stroke-width="0.9"/>
<rect x="607.5" y="615.4" width="3.6" height="45.9" fill="#dba9be" stroke="#c583a2" stroke-width="0.9"/>
<rect x="611.7" y="610.4" width="3.6" height="50.9" fill="#dba9be" stroke="#c583a2" stroke-width="0.9"/>
<rect x="616.0" y="622.4" width="3.5" height="38.9" fill="#b9ccb8" stroke="#98b298" stroke-width="0.9"/>
<rect x="620.0" y="616.6" width="3.6" height="44.7" fill="#dba9be" stroke="#c583a2" stroke-width="0.9"/>
<rect x="624.3" y="617.6" width="3.5" height="43.7" fill="#dba9be" stroke="#c583a2" stroke-width="0.9"/>
<rect x="628.3" y="623.6" width="3.8" height="37.7" fill="#dba9be" stroke="#c583a2" stroke-width="0.9"/>
<rect x="632.7" y="621.4" width="3.6" height="39.9" fill="#b9ccb8" stroke="#98b298" stroke-width="0.9"/>
<rect x="636.9" y="611.7" width="3.5" height="49.6" fill="#b9ccb8" stroke="#98b298" stroke-width="0.9"/>
<rect x="641.0" y="608.2" width="4.5" height="53.1" fill="#b9ccb8" stroke="#98b298" stroke-width="0.9"/>
<rect x="646.1" y="621.4" width="2.8" height="39.9" fill="#dba9be" stroke="#c583a2" stroke-width="0.9"/>
<rect x="649.5" y="633.2" width="3.6" height="28.1" fill="#dba9be" stroke="#c583a2" stroke-width="0.9"/>
<rect x="653.7" y="635.8" width="3.3" height="25.5" fill="#dba9be" stroke="#c583a2" stroke-width="0.9"/>
<rect x="657.6" y="612.9" width="4.0" height="48.4" fill="#b9ccb8" stroke="#98b298" stroke-width="0.9"/>
<rect x="662.1" y="632.0" width="3.3" height="29.3" fill="#b9ccb8" stroke="#98b298" stroke-width="0.9"/>
<rect x="666.0" y="627.3" width="3.6" height="34.0" fill="#dba9be" stroke="#c583a2" stroke-width="0.9"/>
<rect x="670.3" y="628.6" width="3.6" height="32.7" fill="#dba9be" stroke="#c583a2" stroke-width="0.9"/>
<rect x="674.5" y="632.0" width="3.6" height="29.3" fill="#dba9be" stroke="#c583a2" stroke-width="0.9"/>
<rect x="678.7" y="631.0" width="3.3" height="30.3" fill="#b9ccb8" stroke="#98b298" stroke-width="0.9"/>
<rect x="682.6" y="627.3" width="4.0" height="34.0" fill="#dba9be" stroke="#c583a2" stroke-width="0.9"/>
<rect x="687.2" y="635.8" width="3.3" height="25.5" fill="#dba9be" stroke="#c583a2" stroke-width="0.9"/>
<rect x="691.1" y="628.6" width="3.8" height="32.7" fill="#b9ccb8" stroke="#98b298" stroke-width="0.9"/>
<rect x="695.5" y="633.2" width="3.5" height="28.1" fill="#b9ccb8" stroke="#98b298" stroke-width="0.9"/>
<rect x="699.5" y="622.4" width="3.6" height="38.9" fill="#b9ccb8" stroke="#98b298" stroke-width="0.9"/>
<rect x="703.8" y="596.5" width="4.0" height="64.8" fill="#dba9be" stroke="#c583a2" stroke-width="0.9"/>
<rect x="708.3" y="633.2" width="3.3" height="28.1" fill="#b9ccb8" stroke="#98b298" stroke-width="0.9"/>
<rect x="712.2" y="636.6" width="3.6" height="24.7" fill="#b9ccb8" stroke="#98b298" stroke-width="0.9"/>
<rect x="716.5" y="634.6" width="3.5" height="26.7" fill="#b9ccb8" stroke="#98b298" stroke-width="0.9"/>
<rect x="720.5" y="632.0" width="3.6" height="29.3" fill="#b9ccb8" stroke="#98b298" stroke-width="0.9"/>
<rect x="724.7" y="635.8" width="3.5" height="25.5" fill="#b9ccb8" stroke="#98b298" stroke-width="0.9"/>
<rect x="728.8" y="634.6" width="3.6" height="26.7" fill="#b9ccb8" stroke="#98b298" stroke-width="0.9"/>
<rect x="733.0" y="634.6" width="3.5" height="26.7" fill="#dba9be" stroke="#c583a2" stroke-width="0.9"/>
<rect x="737.1" y="632.0" width="3.6" height="29.3" fill="#b9ccb8" stroke="#98b298" stroke-width="0.9"/>
<rect x="741.3" y="627.3" width="3.6" height="34.0" fill="#b9ccb8" stroke="#98b298" stroke-width="0.9"/>
<rect x="745.6" y="635.8" width="3.5" height="25.5" fill="#b9ccb8" stroke="#98b298" stroke-width="0.9"/>
<rect x="749.6" y="632.0" width="3.6" height="29.3" fill="#dba9be" stroke="#c583a2" stroke-width="0.9"/>
<rect x="753.9" y="633.2" width="3.6" height="28.1" fill="#b9ccb8" stroke="#98b298" stroke-width="0.9"/>
<rect x="758.1" y="623.6" width="3.5" height="37.7" fill="#dba9be" stroke="#c583a2" stroke-width="0.9"/>
<rect x="762.1" y="623.6" width="3.6" height="37.7" fill="#b9ccb8" stroke="#98b298" stroke-width="0.9"/>
<rect x="766.4" y="626.1" width="3.6" height="35.2" fill="#b9ccb8" stroke="#98b298" stroke-width="0.9"/>
<rect x="770.6" y="628.6" width="3.5" height="32.7" fill="#b9ccb8" stroke="#98b298" stroke-width="0.9"/>
<rect x="774.7" y="629.8" width="3.6" height="31.5" fill="#b9ccb8" stroke="#98b298" stroke-width="0.9"/>
<rect x="778.9" y="624.8" width="3.6" height="36.5" fill="#b9ccb8" stroke="#98b298" stroke-width="0.9"/>
<rect x="783.1" y="627.3" width="3.5" height="34.0" fill="#dba9be" stroke="#c583a2" stroke-width="0.9"/>
<rect x="787.2" y="617.6" width="3.6" height="43.7" fill="#dba9be" stroke="#c583a2" stroke-width="0.9"/>
<rect x="791.4" y="632.0" width="3.5" height="29.3" fill="#dba9be" stroke="#c583a2" stroke-width="0.9"/>
<rect x="795.5" y="633.2" width="3.6" height="28.1" fill="#dba9be" stroke="#c583a2" stroke-width="0.9"/>
<rect x="799.7" y="633.2" width="3.5" height="28.1" fill="#dba9be" stroke="#c583a2" stroke-width="0.9"/>
<rect x="803.8" y="610.9" width="3.6" height="50.4" fill="#dba9be" stroke="#c583a2" stroke-width="0.9"/>
<rect x="808.0" y="627.3" width="3.6" height="34.0" fill="#b9ccb8" stroke="#98b298" stroke-width="0.9"/>
<rect x="812.2" y="628.6" width="3.5" height="32.7" fill="#b9ccb8" stroke="#98b298" stroke-width="0.9"/>
<rect x="816.3" y="631.0" width="3.6" height="30.3" fill="#dba9be" stroke="#c583a2" stroke-width="0.9"/>
<rect x="820.5" y="617.6" width="3.6" height="43.7" fill="#dba9be" stroke="#c583a2" stroke-width="0.9"/>
<rect x="824.7" y="622.4" width="3.6" height="38.9" fill="#b9ccb8" stroke="#98b298" stroke-width="0.9"/>
<rect x="829.0" y="612.9" width="3.5" height="48.4" fill="#b9ccb8" stroke="#98b298" stroke-width="0.9"/>
<rect x="833.0" y="576.0" width="4.1" height="85.3" fill="#dba9be" stroke="#c583a2" stroke-width="0.9"/>
<rect x="837.8" y="576.0" width="3.0" height="85.3" fill="#b9ccb8" stroke="#98b298" stroke-width="0.9"/>
<rect x="841.3" y="612.9" width="4.0" height="48.4" fill="#b9ccb8" stroke="#98b298" stroke-width="0.9"/>
<rect x="845.9" y="626.1" width="3.1" height="35.2" fill="#b9ccb8" stroke="#98b298" stroke-width="0.9"/>
<rect x="849.6" y="629.8" width="3.6" height="31.5" fill="#b9ccb8" stroke="#98b298" stroke-width="0.9"/>
<rect x="853.8" y="631.0" width="3.6" height="30.3" fill="#b9ccb8" stroke="#98b298" stroke-width="0.9"/>
<rect x="858.1" y="638.0" width="3.5" height="23.3" fill="#dba9be" stroke="#c583a2" stroke-width="0.9"/>
<rect x="862.1" y="622.4" width="4.3" height="38.9" fill="#b9ccb8" stroke="#98b298" stroke-width="0.9"/>
<rect x="867.0" y="631.0" width="3.3" height="30.3" fill="#dba9be" stroke="#c583a2" stroke-width="0.9"/>
<rect x="870.9" y="639.1" width="3.6" height="22.2" fill="#dba9be" stroke="#c583a2" stroke-width="0.9"/>
<rect x="875.2" y="626.1" width="3.5" height="35.2" fill="#b9ccb8" stroke="#98b298" stroke-width="0.9"/>
<rect x="879.2" y="594.0" width="4.0" height="67.3" fill="#dba9be" stroke="#c583a2" stroke-width="0.9"/>
<rect x="883.8" y="626.1" width="3.3" height="35.2" fill="#dba9be" stroke="#c583a2" stroke-width="0.9"/>
<rect x="887.7" y="632.0" width="4.1" height="29.3" fill="#b9ccb8" stroke="#98b298" stroke-width="0.9"/>
<rect x="892.4" y="634.6" width="2.6" height="26.7" fill="#dba9be" stroke="#c583a2" stroke-width="0.9"/>
<rect x="895.6" y="616.6" width="4.1" height="44.7" fill="#dba9be" stroke="#c583a2" stroke-width="0.9"/>
<rect x="900.4" y="636.6" width="3.0" height="24.7" fill="#dba9be" stroke="#c583a2" stroke-width="0.9"/>
<rect x="903.9" y="632.0" width="4.0" height="29.3" fill="#dba9be" stroke="#c583a2" stroke-width="0.9"/>
<rect x="908.5" y="638.0" width="3.1" height="23.3" fill="#dba9be" stroke="#c583a2" stroke-width="0.9"/>
<rect x="912.2" y="634.6" width="4.1" height="26.7" fill="#b9ccb8" stroke="#98b298" stroke-width="0.9"/>
<rect x="916.9" y="634.6" width="3.5" height="26.7" fill="#dba9be" stroke="#c583a2" stroke-width="0.9"/>
<rect x="921.0" y="635.8" width="3.5" height="25.5" fill="#dba9be" stroke="#c583a2" stroke-width="0.9"/>
<rect x="925.1" y="608.2" width="3.5" height="53.1" fill="#dba9be" stroke="#c583a2" stroke-width="0.9"/>
<rect x="929.1" y="634.6" width="3.8" height="26.7" fill="#b9ccb8" stroke="#98b298" stroke-width="0.9"/>
<rect x="933.5" y="638.0" width="3.1" height="23.3" fill="#b9ccb8" stroke="#98b298" stroke-width="0.9"/>
<rect x="937.3" y="634.6" width="4.0" height="26.7" fill="#b9ccb8" stroke="#98b298" stroke-width="0.9"/>
<rect x="941.8" y="634.6" width="3.3" height="26.7" fill="#b9ccb8" stroke="#98b298" stroke-width="0.9"/>
<rect x="945.7" y="635.8" width="3.8" height="25.5" fill="#dba9be" stroke="#c583a2" stroke-width="0.9"/>
<rect x="950.1" y="633.2" width="4.1" height="28.1" fill="#b9ccb8" stroke="#98b298" stroke-width="0.9"/>
<rect x="954.8" y="636.6" width="3.0" height="24.7" fill="#b9ccb8" stroke="#98b298" stroke-width="0.9"/>
<rect x="958.4" y="631.0" width="3.6" height="30.3" fill="#dba9be" stroke="#c583a2" stroke-width="0.9"/>
<rect x="962.6" y="626.1" width="3.6" height="35.2" fill="#dba9be" stroke="#c583a2" stroke-width="0.9"/>
<rect x="966.9" y="638.0" width="4.0" height="23.3" fill="#dba9be" stroke="#c583a2" stroke-width="0.9"/>
<rect x="971.4" y="631.0" width="3.1" height="30.3" fill="#b9ccb8" stroke="#98b298" stroke-width="0.9"/>
<rect x="975.2" y="628.6" width="3.8" height="32.7" fill="#dba9be" stroke="#c583a2" stroke-width="0.9"/>
<rect x="979.6" y="621.4" width="3.1" height="39.9" fill="#b9ccb8" stroke="#98b298" stroke-width="0.9"/>
<rect x="983.3" y="585.5" width="4.5" height="75.8" fill="#b9ccb8" stroke="#98b298" stroke-width="0.9"/>
<rect x="988.4" y="617.6" width="2.8" height="43.7" fill="#dba9be" stroke="#c583a2" stroke-width="0.9"/>
<rect x="991.7" y="613.1" width="3.6" height="48.2" fill="#b9ccb8" stroke="#98b298" stroke-width="0.9"/>
<rect x="995.9" y="603.3" width="3.6" height="58.0" fill="#b9ccb8" stroke="#98b298" stroke-width="0.9"/>
<rect x="1000.1" y="595.3" width="3.6" height="66.0" fill="#b9ccb8" stroke="#98b298" stroke-width="0.9"/>
<rect x="1004.4" y="591.4" width="3.5" height="69.9" fill="#dba9be" stroke="#c583a2" stroke-width="0.9"/>
<rect x="1008.4" y="624.6" width="3.6" height="36.7" fill="#b9ccb8" stroke="#98b298" stroke-width="0.9"/>
<rect x="1012.7" y="621.2" width="3.6" height="40.1" fill="#b9ccb8" stroke="#98b298" stroke-width="0.9"/>
<rect x="1016.9" y="633.1" width="3.6" height="28.2" fill="#dba9be" stroke="#c583a2" stroke-width="0.9"/>
<rect x="1021.1" y="626.3" width="3.6" height="35.0" fill="#b9ccb8" stroke="#98b298" stroke-width="0.9"/>
<rect x="1025.4" y="630.9" width="3.8" height="30.4" fill="#dba9be" stroke="#c583a2" stroke-width="0.9"/>
<rect x="1029.8" y="634.3" width="3.3" height="27.0" fill="#b9ccb8" stroke="#98b298" stroke-width="0.9"/>
<rect x="1033.7" y="632.1" width="3.6" height="29.2" fill="#b9ccb8" stroke="#98b298" stroke-width="0.9"/>
<rect x="1037.9" y="622.4" width="3.8" height="38.9" fill="#dba9be" stroke="#c583a2" stroke-width="0.9"/>
<rect x="1042.3" y="634.3" width="3.1" height="27.0" fill="#dba9be" stroke="#c583a2" stroke-width="0.9"/>
<rect x="1046.0" y="626.3" width="4.1" height="35.0" fill="#dba9be" stroke="#c583a2" stroke-width="0.9"/>
<rect x="1050.8" y="632.1" width="3.5" height="29.2" fill="#b9ccb8" stroke="#98b298" stroke-width="0.9"/>
<rect x="1054.8" y="619.0" width="3.3" height="42.3" fill="#dba9be" stroke="#c583a2" stroke-width="0.9"/>
<rect x="1058.7" y="615.6" width="3.6" height="45.7" fill="#dba9be" stroke="#c583a2" stroke-width="0.9"/>
<rect x="1063.0" y="622.4" width="4.0" height="38.9" fill="#dba9be" stroke="#c583a2" stroke-width="0.9"/>
<rect x="1067.5" y="629.7" width="3.3" height="31.6" fill="#dba9be" stroke="#c583a2" stroke-width="0.9"/>
<rect x="1071.4" y="623.6" width="4.0" height="37.7" fill="#b9ccb8" stroke="#98b298" stroke-width="0.9"/>
<rect x="1076.0" y="625.0" width="3.3" height="36.3" fill="#dba9be" stroke="#c583a2" stroke-width="0.9"/>
<rect x="1079.9" y="623.6" width="3.8" height="37.7" fill="#dba9be" stroke="#c583a2" stroke-width="0.9"/>
<rect x="1084.3" y="633.8" width="3.5" height="27.5" fill="#b9ccb8" stroke="#98b298" stroke-width="0.9"/>
<rect x="1088.4" y="632.1" width="3.5" height="29.2" fill="#b9ccb8" stroke="#98b298" stroke-width="0.9"/>
<rect x="1092.4" y="628.3" width="3.3" height="33.0" fill="#dba9be" stroke="#c583a2" stroke-width="0.9"/>
<rect x="1096.3" y="625.0" width="3.6" height="36.3" fill="#b9ccb8" stroke="#98b298" stroke-width="0.9"/>
<rect x="1100.5" y="607.2" width="2.8" height="54.1" fill="#dba9be" stroke="#c583a2" stroke-width="0.9"/>
<rect x="1103.9" y="538.3" width="4.5" height="123.0" fill="#dba9be" stroke="#c583a2" stroke-width="0.9"/>
<rect x="1109.0" y="588.1" width="3.3" height="73.2" fill="#dba9be" stroke="#c583a2" stroke-width="0.9"/>
<rect x="1112.9" y="610.6" width="4.0" height="50.7" fill="#b9ccb8" stroke="#98b298" stroke-width="0.9"/>
<polyline points="305.7,661.3 308.7,660.2 311.7,659.2 314.7,658.1 317.7,657.1 320.7,656.2 323.7,655.3 326.7,654.5 329.7,653.9 332.7,653.4 335.7,652.4 338.7,650.9 341.7,649.4 344.7,648.0 347.7,647.0 350.7,646.3 353.7,645.4 356.7,644.1 359.7,642.7 362.7,641.9 365.7,641.4 368.7,640.8 371.7,640.1 374.7,639.0 377.7,637.7 380.7,636.4 383.7,635.0 386.7,633.7 389.7,632.4 392.7,631.1 395.7,629.8 398.7,628.5 401.7,627.1 404.7,625.8 407.7,624.5 410.7,623.1 413.7,621.7 416.7,620.3 419.7,619.0 422.7,617.6 425.7,616.2 428.7,614.8 431.7,613.4 434.7,612.0 437.7,610.6 440.7,609.2 443.7,607.8 446.7,606.4 449.7,605.0 452.7,603.5 455.7,602.1 458.7,600.6 461.7,599.1 464.7,597.6 467.7,596.1 470.7,594.5 473.7,593.0 476.7,591.5 479.7,590.1 482.7,588.7 485.7,587.4 488.7,586.1 491.7,584.8 494.7,583.4 497.7,582.1 500.7,580.8 503.7,579.4 506.7,578.1 509.7,576.8 512.7,575.5 515.7,574.2 518.7,573.0 521.7,571.8 524.7,570.6 527.7,569.4 530.7,568.2 533.7,566.9 536.7,565.5 539.7,564.1 542.7,562.8 545.7,561.4 548.7,560.1 551.7,558.8 554.7,557.6 557.7,556.4 560.7,555.2 563.7,554.0 566.7,552.7 569.7,551.4 572.7,550.0 575.7,548.7 578.7,547.3 581.7,545.9 584.7,544.5 587.7,543.2 590.7,541.9 593.7,540.6 596.7,539.3 599.7,537.9 602.7,536.6 605.7,535.3 608.7,534.0 611.7,532.6 614.7,531.3 617.7,529.9 620.7,528.6 623.7,527.2 626.7,525.9 629.7,524.5 632.7,523.1 635.7,521.7 638.7,520.1 641.7,518.4 644.7,516.6 647.7,514.8 650.7,513.0 653.7,511.3 656.7,509.7 659.7,508.2 662.7,506.8 665.7,505.4 668.7,504.0 671.7,502.7 674.7,501.3 677.7,500.0 680.7,498.7 683.7,497.4 686.7,496.0 689.7,494.8 692.7,493.5 695.7,492.3 698.7,491.1 701.7,489.9 704.7,488.7 707.7,487.2 710.7,485.4 713.7,483.3 716.7,481.3 719.7,479.5 722.7,478.1 725.7,476.9 728.7,475.7 731.7,474.5 734.7,473.3 737.7,472.0 740.7,470.7 743.7,469.4 746.7,468.1 749.7,466.8 752.7,465.5 755.7,464.2 758.7,463.0 761.7,461.8 764.7,460.5 767.7,459.3 770.7,458.1 773.7,456.9 776.7,455.7 779.7,454.5 782.7,453.3 785.7,452.1 788.7,450.9 791.7,449.8 794.7,448.6 797.7,447.6 800.7,446.5 803.7,445.4 806.7,444.4 809.7,443.4 812.7,442.5 815.7,441.7 818.7,440.8 821.7,440.0 824.7,439.1 827.7,438.2 830.7,437.2 833.7,436.1 836.7,435.0 839.7,434.0 842.7,432.9 845.7,431.8 848.7,430.6 851.7,429.4 854.7,428.2 857.7,427.0 860.7,425.8 863.7,424.7 866.7,423.6 869.7,422.6 872.7,421.5 875.7,420.5 878.7,419.5 881.7,418.6 884.7,417.7 887.7,416.9 890.7,416.1 893.7,415.4 896.7,414.6 899.7,413.8 902.7,412.9 905.7,412.0 908.7,411.1 911.7,410.2 914.7,409.3 917.7,408.4 920.7,407.5 923.7,406.6 926.7,405.7 929.7,404.8 932.7,403.9 935.7,403.0 938.7,402.1 941.7,401.2 944.7,400.3 947.7,399.4 950.7,398.5 953.7,397.5 956.7,396.6 959.7,395.6 962.7,394.5 965.7,393.5 968.7,392.5 971.7,391.5 974.7,390.4 977.7,389.3 980.7,388.3 983.7,387.2 986.7,386.1 989.7,385.1 992.7,384.0 995.7,382.9 998.7,381.8 1001.7,380.7 1004.7,379.6 1007.7,378.6 1010.7,377.5 1013.7,376.5 1016.7,375.4 1019.7,374.4 1022.7,373.4 1025.7,372.3 1028.7,371.2 1031.7,370.1 1034.7,368.9 1037.7,367.7 1040.7,366.5 1043.7,365.3 1046.7,364.2 1049.7,363.0 1052.7,361.8 1055.7,360.5 1058.7,359.3 1061.7,358.1 1064.7,356.9 1067.7,355.7 1070.7,354.5 1073.7,353.3 1076.7,352.1 1079.7,350.9 1082.7,349.8 1085.7,348.7 1088.7,347.7 1091.7,346.7 1094.7,345.7 1097.7,344.7 1100.7,343.8 1103.7,343.0 1106.7,342.3 1109.7,341.7 1112.7,341.1 1114.0,340.8" fill="none" stroke="#e0524e" stroke-width="1.4" stroke-linejoin="round" stroke-linecap="round" />
<polyline points="62.5,585.6 65.5,582.9 68.5,580.3 71.5,578.1 74.5,576.0 77.5,574.1 80.5,572.3 83.5,570.7 86.5,569.3 89.5,568.0 92.5,566.8 95.5,565.7 98.5,564.6 101.5,563.6 104.5,562.6 107.5,561.7 110.5,560.8 113.5,560.0 116.5,559.2 119.5,558.6 122.5,558.0 125.5,557.5 128.5,556.9 131.5,556.1 134.5,555.2 137.5,554.2 140.5,553.2 143.5,552.2 146.5,551.3 149.5,550.5 152.5,549.7 155.5,548.7 158.5,547.5 161.5,546.3 164.5,545.0 167.5,543.7 170.5,542.5 173.5,541.3 176.5,540.3 179.5,539.4 182.5,538.6 185.5,537.8 188.5,537.1 191.5,536.3 194.5,535.7 197.5,535.5 200.5,535.6 203.5,536.0 206.5,536.5 209.5,537.1 212.5,537.7 215.5,538.3 218.5,538.9 221.5,539.4 224.5,539.8 227.5,540.2 230.5,540.5 233.5,540.8 236.5,541.1 239.5,541.4 242.5,541.6 245.5,541.8 248.5,541.9 251.5,541.9 254.5,541.8 257.5,541.7 260.5,541.4 263.5,541.2 266.5,541.3 269.5,541.9 272.5,542.8 275.5,544.0 278.5,545.2 281.5,546.4 284.5,547.6 287.5,548.8 290.5,550.1 293.5,551.4 296.5,552.7 299.5,554.0 302.5,555.1 305.5,555.8 308.5,556.0 311.5,556.0 314.5,556.0 317.5,555.9 320.5,555.9 323.5,555.7 326.5,555.4 329.5,554.7 332.5,554.0 335.5,553.3 338.5,552.8 341.5,552.3 344.5,551.7 347.5,551.1 350.5,550.5 353.5,549.7 356.5,548.9 359.5,548.2 362.5,547.7 365.5,547.1 368.5,546.5 371.5,546.1 374.5,545.9 377.5,545.6 380.5,545.4 383.5,545.2 386.5,545.0 389.5,544.5 392.5,543.9 395.5,543.0 398.5,542.0 401.5,541.0 404.5,539.9 407.5,538.6 410.5,537.0 413.5,535.3 416.5,533.5 419.5,531.7 422.5,529.9 425.5,528.0 428.5,526.1 431.5,524.1 434.5,522.1 437.5,520.1 440.5,518.1 443.5,516.0 446.5,513.9 449.5,511.8 452.5,509.7 455.5,507.6 458.5,505.5 461.5,503.4 464.5,501.4 467.5,499.6 470.5,497.7 473.5,495.9 476.5,494.1 479.5,492.3 482.5,490.5 485.5,488.7 488.5,486.9 491.5,485.1 494.5,483.3 497.5,481.5 500.5,479.7 503.5,477.7 506.5,475.7 509.5,473.7 512.5,471.9 515.5,470.2 518.5,468.7 521.5,467.1 524.5,465.5 527.5,463.9 530.5,462.3 533.5,460.8 536.5,459.2 539.5,457.6 542.5,456.0 545.5,454.4 548.5,452.9 551.5,451.3 554.5,449.7 557.5,448.2 560.5,446.8 563.5,445.5 566.5,444.1 569.5,442.8 572.5,441.5 575.5,440.3 578.5,439.0 581.5,437.4 584.5,435.5 587.5,433.5 590.5,431.6 593.5,429.7 596.5,427.9 599.5,426.0 602.5,424.0 605.5,422.0 608.5,420.1 611.5,418.2 614.5,416.2 617.5,414.1 620.5,412.1 623.5,410.1 626.5,408.3 629.5,406.4 632.5,404.4 635.5,402.4 638.5,400.3 641.5,398.3 644.5,396.4 647.5,394.4 650.5,392.5 653.5,390.5 656.5,388.5 659.5,386.4 662.5,384.4 665.5,382.4 668.5,380.5 671.5,378.7 674.5,376.9 677.5,375.1 680.5,373.3 683.5,371.5 686.5,369.6 689.5,367.8 692.5,366.0 695.5,364.2 698.5,362.2 701.5,360.1 704.5,357.9 707.5,355.5 710.5,353.1 713.5,350.7 716.5,348.3 719.5,346.2 722.5,344.3 725.5,342.6 728.5,340.8 731.5,339.1 734.5,337.3 737.5,335.5 740.5,333.6 743.5,331.6 746.5,329.7 749.5,327.8 752.5,326.0 755.5,324.2 758.5,322.5 761.5,320.7 764.5,318.9 767.5,317.1 770.5,315.1 773.5,312.9 776.5,310.7 779.5,308.5 782.5,306.5 785.5,304.5 788.5,302.8 791.5,301.5 794.5,300.5 797.5,299.8 800.5,299.3 803.5,299.0 806.5,298.7 809.5,298.3 812.5,298.0 815.5,297.6 818.5,297.1 821.5,296.7 824.5,296.1 827.5,295.5 830.5,294.9 833.5,294.1 836.5,293.0 839.5,291.8 842.5,290.6 845.5,289.5 848.5,288.4 851.5,287.2 854.5,286.1 857.5,285.1 860.5,284.2 863.5,283.3 866.5,282.6 869.5,282.0 872.5,281.4 875.5,280.8 878.5,280.2 881.5,279.7 884.5,279.2 887.5,278.7 890.5,278.1 893.5,277.5 896.5,277.0 899.5,276.5 902.5,276.0 905.5,275.6 908.5,275.2 911.5,274.8 914.5,274.4 917.5,274.0 920.5,273.7 923.5,273.4 926.5,273.2 929.5,273.1 932.5,273.0 935.5,273.0 938.5,272.9 941.5,272.6 944.5,272.2 947.5,271.8 950.5,271.2 953.5,270.6 956.5,270.1 959.5,269.8 962.5,269.5 965.5,269.4 968.5,269.4 971.5,269.5 974.5,269.6 977.5,269.7 980.5,269.8 983.5,269.9 986.5,270.0 989.5,269.9 992.5,269.6 995.5,269.1 998.5,268.4 1001.5,267.7 1004.5,267.0 1007.5,266.1 1010.5,264.9 1013.5,263.6 1016.5,262.1 1019.5,260.6 1022.5,259.1 1025.5,257.6 1028.5,256.0 1031.5,254.4 1034.5,252.7 1037.5,251.2 1040.5,249.8 1043.5,248.7 1046.5,247.9 1049.5,247.3 1052.5,247.1 1055.5,247.0 1058.5,247.2 1061.5,247.4 1064.5,247.7 1067.5,248.0 1070.5,248.3 1073.5,248.5 1076.5,248.7 1079.5,249.0 1082.5,249.3 1085.5,249.7 1088.5,250.2 1091.5,250.6 1094.5,251.0 1097.5,251.2 1100.5,251.5 1103.5,252.0 1106.5,252.9 1109.5,254.0 1112.5,255.1 1114.1,256.0" fill="none" stroke="#4646b2" stroke-width="1.4" stroke-linejoin="round" stroke-linecap="round" />
<polyline points="62.5,563.2 65.5,558.6 68.5,554.6 71.5,551.3 74.5,548.5 77.5,546.1 80.5,543.8 83.5,541.8 86.5,540.0 89.5,538.7 92.5,538.0 95.5,537.9 98.5,538.2 101.5,538.6 104.5,539.0 107.5,539.3 110.5,539.5 113.5,539.6 116.5,540.0 119.5,540.6 122.5,541.3 125.5,541.8 128.5,541.8 131.5,541.4 134.5,540.7 137.5,539.7 140.5,538.6 143.5,537.6 146.5,536.9 149.5,536.3 152.5,535.6 155.5,534.6 158.5,533.2 161.5,531.3 164.5,528.9 167.5,526.0 170.5,523.1 173.5,520.4 176.5,517.9 179.5,516.1 182.5,515.0 185.5,514.4 188.5,514.4 191.5,515.0 194.5,516.8 197.5,519.7 200.5,523.1 203.5,526.5 206.5,529.8 209.5,533.2 212.5,537.2 215.5,541.4 218.5,545.4 221.5,548.9 224.5,552.1 227.5,555.0 230.5,557.8 233.5,560.5 236.5,562.7 239.5,564.6 242.5,566.3 245.5,567.7 248.5,568.7 251.5,569.1 254.5,569.2 257.5,568.9 260.5,568.4 263.5,567.8 266.5,567.5 269.5,567.6 272.5,567.9 275.5,568.6 278.5,569.5 281.5,570.5 284.5,571.6 287.5,572.8 290.5,574.1 293.5,575.7 296.5,577.7 299.5,580.1 302.5,582.4 305.5,584.0 308.5,584.2 311.5,583.1 314.5,580.9 317.5,577.7 320.5,573.9 323.5,569.8 326.5,565.7 329.5,561.6 332.5,557.3 335.5,552.9 338.5,548.5 341.5,544.4 344.5,540.4 347.5,536.8 350.5,533.4 353.5,530.1 356.5,527.2 359.5,524.5 362.5,522.2 365.5,519.5 368.5,516.2 371.5,512.4 374.5,509.0 377.5,506.3 380.5,504.0 383.5,501.6 386.5,499.1 389.5,496.6 392.5,494.3 395.5,492.3 398.5,490.5 401.5,488.8 404.5,487.1 407.5,485.6 410.5,484.3 413.5,483.2 416.5,482.2 419.5,481.3 422.5,480.3 425.5,479.3 428.5,478.2 431.5,477.1 434.5,475.9 437.5,474.8 440.5,473.7 443.5,472.6 446.5,471.3 449.5,469.4 452.5,466.7 455.5,463.7 458.5,460.7 461.5,458.0 464.5,455.5 467.5,453.3 470.5,451.3 473.5,449.6 476.5,448.0 479.5,446.6 482.5,445.4 485.5,444.5 488.5,444.2 491.5,444.4 494.5,445.3 497.5,446.6 500.5,447.9 503.5,448.9 506.5,449.7 509.5,449.7 512.5,448.7 515.5,447.0 518.5,445.2 521.5,443.6 524.5,442.2 527.5,441.0 530.5,440.1 533.5,439.1 536.5,437.9 539.5,436.5 542.5,435.1 545.5,433.7 548.5,432.3 551.5,430.6 554.5,428.8 557.5,426.9 560.5,424.8 563.5,422.7 566.5,420.6 569.5,418.9 572.5,417.3 575.5,415.5 578.5,412.9 581.5,409.4 584.5,405.0 587.5,400.4 590.5,395.7 593.5,391.1 596.5,386.6 599.5,382.1 602.5,377.7 605.5,373.6 608.5,370.1 611.5,367.2 614.5,364.8 617.5,362.9 620.5,361.1 623.5,359.6 626.5,358.3 629.5,357.2 632.5,355.9 635.5,354.0 638.5,351.5 641.5,348.7 644.5,346.1 647.5,343.6 650.5,341.2 653.5,338.6 656.5,335.9 659.5,333.1 662.5,330.7 665.5,328.7 668.5,327.0 671.5,325.7 674.5,324.6 677.5,323.6 680.5,322.7 683.5,321.9 686.5,321.1 689.5,320.2 692.5,319.0 695.5,317.8 698.5,316.7 701.5,315.8 704.5,315.2 707.5,314.7 710.5,313.9 713.5,313.0 716.5,311.8 719.5,310.5 722.5,309.1 725.5,307.6 728.5,306.1 731.5,304.6 734.5,303.1 737.5,301.6 740.5,300.2 743.5,298.9 746.5,297.8 749.5,296.6 752.5,295.5 755.5,294.2 758.5,292.8 761.5,291.1 764.5,289.1 767.5,286.8 770.5,284.4 773.5,281.9 776.5,279.7 779.5,277.7 782.5,276.2 785.5,275.2 788.5,274.6 791.5,274.5 794.5,274.8 797.5,275.5 800.5,276.7 803.5,277.9 806.5,279.1 809.5,280.2 812.5,281.3 815.5,282.6 818.5,284.0 821.5,285.3 824.5,286.2 827.5,286.7 830.5,287.0 833.5,287.3 836.5,287.2 839.5,285.9 842.5,283.5 845.5,280.4 848.5,277.5 851.5,274.8 854.5,272.5 857.5,270.5 860.5,268.8 863.5,267.5 866.5,266.5 869.5,265.7 872.5,265.1 875.5,264.6 878.5,264.3 881.5,264.2 884.5,264.2 887.5,264.2 890.5,264.3 893.5,264.7 896.5,265.2 899.5,265.7 902.5,266.2 905.5,266.8 908.5,267.3 911.5,267.9 914.5,268.4 917.5,269.2 920.5,270.5 923.5,272.1 926.5,273.7 929.5,275.1 932.5,276.2 935.5,276.7 938.5,276.6 941.5,275.9 944.5,274.8 947.5,273.4 950.5,272.0 953.5,270.5 956.5,269.2 959.5,268.2 962.5,267.8 965.5,267.6 968.5,267.6 971.5,267.5 974.5,267.3 977.5,266.9 980.5,266.0 983.5,265.0 986.5,264.1 989.5,263.3 992.5,261.8 995.5,259.2 998.5,255.8 1001.5,252.1 1004.5,248.5 1007.5,245.0 1010.5,241.7 1013.5,238.6 1016.5,235.6 1019.5,232.6 1022.5,230.0 1025.5,227.9 1028.5,226.1 1031.5,224.4 1034.5,222.8 1037.5,221.7 1040.5,221.1 1043.5,221.0 1046.5,221.0 1049.5,221.4 1052.5,222.4 1055.5,224.2 1058.5,226.7 1061.5,229.4 1064.5,232.1 1067.5,234.3 1070.5,236.3 1073.5,238.5 1076.5,241.0 1079.5,243.5 1082.5,245.8 1085.5,247.7 1088.5,249.4 1091.5,250.6 1094.5,251.4 1097.5,252.2 1100.5,253.9 1103.5,257.5 1106.5,263.2 1109.5,269.9 1112.5,276.1 1114.6,281.3" fill="none" stroke="#4d8a42" stroke-width="1.4" stroke-linejoin="round" stroke-linecap="round" />
<line x1="61.9" y1="497.2" x2="61.9" y2="499.7" stroke="#141414" stroke-width="1.1"/>
<line x1="61.9" y1="509.4" x2="61.9" y2="510.7" stroke="#141414" stroke-width="1.1"/>
<rect x="60.4" y="500.2" width="2.9" height="8.7" fill="#fbfbfd" stroke="#141414" stroke-width="1.05"/>
<line x1="66.1" y1="489.6" x2="66.1" y2="492.1" stroke="#141414" stroke-width="1.1"/>
<line x1="66.1" y1="507.3" x2="66.1" y2="513.3" stroke="#141414" stroke-width="1.1"/>
<rect x="64.6" y="492.6" width="2.9" height="14.2" fill="#fbfbfd" stroke="#141414" stroke-width="1.05"/>
<line x1="70.3" y1="500.6" x2="70.3" y2="507.3" stroke="#d8261a" stroke-width="1.1"/>
<rect x="68.3" y="500.9" width="3.9" height="6.1" fill="#d8261a"/>
<line x1="74.4" y1="503.1" x2="74.4" y2="524.6" stroke="#d8261a" stroke-width="1.1"/>
<rect x="72.5" y="504.8" width="3.9" height="15.2" fill="#d8261a"/>
<line x1="78.6" y1="503.1" x2="78.6" y2="520.9" stroke="#141414" stroke-width="1.1"/>
<rect x="76.7" y="511.1" width="3.9" height="3.9" fill="#141414"/>
<line x1="82.8" y1="514.1" x2="82.8" y2="515.8" stroke="#d8261a" stroke-width="1.1"/>
<line x1="82.8" y1="521.7" x2="82.8" y2="526.0" stroke="#d8261a" stroke-width="1.1"/>
<rect x="81.3" y="516.3" width="2.9" height="4.9" fill="#fbfbfd" stroke="#d8261a" stroke-width="1.05"/>
<line x1="87.0" y1="500.9" x2="87.0" y2="501.4" stroke="#141414" stroke-width="1.1"/>
<line x1="87.0" y1="516.7" x2="87.0" y2="520.9" stroke="#141414" stroke-width="1.1"/>
<rect x="85.5" y="501.9" width="2.9" height="14.2" fill="#fbfbfd" stroke="#141414" stroke-width="1.05"/>
<line x1="91.1" y1="498.0" x2="91.1" y2="523.4" stroke="#d8261a" stroke-width="1.1"/>
<rect x="89.2" y="504.8" width="3.9" height="16.9" fill="#d8261a"/>
<line x1="95.3" y1="522.6" x2="95.3" y2="537.8" stroke="#d8261a" stroke-width="1.1"/>
<rect x="93.4" y="523.4" width="3.9" height="13.5" fill="#d8261a"/>
<line x1="99.5" y1="530.2" x2="99.5" y2="548.0" stroke="#d8261a" stroke-width="1.1"/>
<rect x="97.5" y="531.9" width="3.9" height="12.7" fill="#d8261a"/>
<line x1="103.7" y1="544.6" x2="103.7" y2="548.8" stroke="#d8261a" stroke-width="1.1"/>
<line x1="103.7" y1="560.7" x2="103.7" y2="563.2" stroke="#d8261a" stroke-width="1.1"/>
<rect x="102.2" y="549.3" width="2.9" height="10.9" fill="#fbfbfd" stroke="#d8261a" stroke-width="1.05"/>
<line x1="107.8" y1="537.0" x2="107.8" y2="539.5" stroke="#141414" stroke-width="1.1"/>
<line x1="107.8" y1="546.3" x2="107.8" y2="553.1" stroke="#141414" stroke-width="1.1"/>
<rect x="106.4" y="540.0" width="2.9" height="5.8" fill="#fbfbfd" stroke="#141414" stroke-width="1.05"/>
<line x1="112.0" y1="533.6" x2="112.0" y2="548.0" stroke="#d8261a" stroke-width="1.1"/>
<rect x="110.1" y="536.1" width="3.9" height="7.6" fill="#d8261a"/>
<line x1="116.2" y1="531.0" x2="116.2" y2="535.3" stroke="#141414" stroke-width="1.1"/>
<line x1="116.2" y1="540.4" x2="116.2" y2="549.7" stroke="#141414" stroke-width="1.1"/>
<rect x="114.8" y="535.8" width="2.9" height="4.1" fill="#fbfbfd" stroke="#141414" stroke-width="1.05"/>
<line x1="120.4" y1="526.3" x2="120.4" y2="558.5" stroke="#d8261a" stroke-width="1.1"/>
<rect x="118.4" y="528.5" width="3.9" height="29.6" fill="#d8261a"/>
<line x1="124.6" y1="545.4" x2="124.6" y2="549.7" stroke="#141414" stroke-width="1.1"/>
<line x1="124.6" y1="554.8" x2="124.6" y2="567.5" stroke="#141414" stroke-width="1.1"/>
<rect x="123.1" y="550.2" width="2.9" height="4.1" fill="#fbfbfd" stroke="#141414" stroke-width="1.05"/>
<line x1="128.7" y1="544.6" x2="128.7" y2="559.0" stroke="#d8261a" stroke-width="1.1"/>
<rect x="126.8" y="545.4" width="3.9" height="7.6" fill="#d8261a"/>
<line x1="132.9" y1="537.8" x2="132.9" y2="538.2" stroke="#141414" stroke-width="1.1"/>
<line x1="132.9" y1="549.2" x2="132.9" y2="549.7" stroke="#141414" stroke-width="1.1"/>
<rect x="131.5" y="538.7" width="2.9" height="10.0" fill="#fbfbfd" stroke="#141414" stroke-width="1.05"/>
<line x1="137.1" y1="533.6" x2="137.1" y2="544.6" stroke="#141414" stroke-width="1.1"/>
<rect x="135.1" y="537.0" width="3.9" height="2.5" fill="#141414"/>
<line x1="141.3" y1="514.1" x2="141.3" y2="518.3" stroke="#141414" stroke-width="1.1"/>
<line x1="141.3" y1="537.8" x2="141.3" y2="538.7" stroke="#141414" stroke-width="1.1"/>
<rect x="139.8" y="518.8" width="2.9" height="18.5" fill="#fbfbfd" stroke="#141414" stroke-width="1.05"/>
<line x1="145.4" y1="505.6" x2="145.4" y2="523.4" stroke="#141414" stroke-width="1.1"/>
<rect x="143.5" y="508.2" width="3.9" height="9.3" fill="#141414"/>
<line x1="149.6" y1="519.2" x2="149.6" y2="527.7" stroke="#d8261a" stroke-width="1.1"/>
<rect x="147.7" y="520.0" width="3.9" height="3.4" fill="#d8261a"/>
<line x1="153.8" y1="521.7" x2="153.8" y2="541.2" stroke="#d8261a" stroke-width="1.1"/>
<rect x="151.8" y="523.4" width="3.9" height="11.9" fill="#d8261a"/>
<line x1="158.0" y1="518.9" x2="158.0" y2="519.2" stroke="#141414" stroke-width="1.1"/>
<line x1="158.0" y1="545.9" x2="158.0" y2="550.5" stroke="#141414" stroke-width="1.1"/>
<rect x="156.5" y="519.7" width="2.9" height="25.8" fill="#fbfbfd" stroke="#141414" stroke-width="1.05"/>
<line x1="162.1" y1="513.8" x2="162.1" y2="516.7" stroke="#141414" stroke-width="1.1"/>
<line x1="162.1" y1="526.0" x2="162.1" y2="526.8" stroke="#141414" stroke-width="1.1"/>
<rect x="160.7" y="517.2" width="2.9" height="8.3" fill="#fbfbfd" stroke="#141414" stroke-width="1.05"/>
<line x1="166.3" y1="482.8" x2="166.3" y2="486.2" stroke="#141414" stroke-width="1.1"/>
<line x1="166.3" y1="514.1" x2="166.3" y2="515.0" stroke="#141414" stroke-width="1.1"/>
<rect x="164.9" y="486.7" width="2.9" height="26.9" fill="#fbfbfd" stroke="#141414" stroke-width="1.05"/>
<line x1="170.5" y1="487.9" x2="170.5" y2="502.3" stroke="#d8261a" stroke-width="1.1"/>
<rect x="168.6" y="490.4" width="3.9" height="7.6" fill="#d8261a"/>
<line x1="174.7" y1="474.3" x2="174.7" y2="475.2" stroke="#141414" stroke-width="1.1"/>
<line x1="174.7" y1="500.2" x2="174.7" y2="500.9" stroke="#141414" stroke-width="1.1"/>
<rect x="173.2" y="475.7" width="2.9" height="24.1" fill="#fbfbfd" stroke="#141414" stroke-width="1.05"/>
<line x1="178.9" y1="469.7" x2="178.9" y2="487.0" stroke="#d8261a" stroke-width="1.1"/>
<rect x="176.9" y="473.8" width="3.9" height="3.9" fill="#d8261a"/>
<line x1="183.0" y1="483.6" x2="183.0" y2="505.6" stroke="#d8261a" stroke-width="1.1"/>
<rect x="181.1" y="487.9" width="3.9" height="15.7" fill="#d8261a"/>
<line x1="187.2" y1="494.1" x2="187.2" y2="512.1" stroke="#d8261a" stroke-width="1.1"/>
<rect x="185.3" y="503.1" width="3.9" height="3.9" fill="#d8261a"/>
<line x1="191.4" y1="513.3" x2="191.4" y2="533.6" stroke="#d8261a" stroke-width="1.1"/>
<rect x="189.4" y="514.1" width="3.9" height="18.6" fill="#d8261a"/>
<line x1="195.6" y1="509.9" x2="195.6" y2="536.5" stroke="#d8261a" stroke-width="1.1"/>
<rect x="193.6" y="514.1" width="3.9" height="22.0" fill="#d8261a"/>
<line x1="199.7" y1="555.6" x2="199.7" y2="577.6" stroke="#d8261a" stroke-width="1.1"/>
<rect x="197.8" y="557.3" width="3.9" height="18.6" fill="#d8261a"/>
<line x1="203.9" y1="557.3" x2="203.9" y2="581.9" stroke="#d8261a" stroke-width="1.1"/>
<rect x="202.0" y="562.4" width="3.9" height="14.4" fill="#d8261a"/>
<line x1="208.1" y1="558.1" x2="208.1" y2="560.7" stroke="#141414" stroke-width="1.1"/>
<line x1="208.1" y1="575.1" x2="208.1" y2="580.2" stroke="#141414" stroke-width="1.1"/>
<rect x="206.6" y="561.2" width="2.9" height="13.4" fill="#fbfbfd" stroke="#141414" stroke-width="1.05"/>
<line x1="212.3" y1="566.6" x2="212.3" y2="603.9" stroke="#d8261a" stroke-width="1.1"/>
<rect x="210.3" y="569.1" width="3.9" height="30.5" fill="#d8261a"/>
<line x1="216.4" y1="587.7" x2="216.4" y2="598.7" stroke="#141414" stroke-width="1.1"/>
<line x1="216.4" y1="612.3" x2="216.4" y2="612.8" stroke="#141414" stroke-width="1.1"/>
<rect x="215.0" y="599.2" width="2.9" height="12.5" fill="#fbfbfd" stroke="#141414" stroke-width="1.05"/>
<line x1="220.6" y1="593.7" x2="220.6" y2="598.7" stroke="#141414" stroke-width="1.1"/>
<line x1="220.6" y1="613.1" x2="220.6" y2="619.9" stroke="#141414" stroke-width="1.1"/>
<rect x="219.2" y="599.2" width="2.9" height="13.4" fill="#fbfbfd" stroke="#141414" stroke-width="1.05"/>
<line x1="224.8" y1="575.9" x2="224.8" y2="596.2" stroke="#141414" stroke-width="1.1"/>
<rect x="222.9" y="583.5" width="3.9" height="6.8" fill="#141414"/>
<line x1="229.0" y1="568.3" x2="229.0" y2="575.0" stroke="#141414" stroke-width="1.1"/>
<line x1="229.0" y1="589.4" x2="229.0" y2="595.4" stroke="#141414" stroke-width="1.1"/>
<rect x="227.5" y="575.5" width="2.9" height="13.4" fill="#fbfbfd" stroke="#141414" stroke-width="1.05"/>
<line x1="233.2" y1="581.0" x2="233.2" y2="611.4" stroke="#d8261a" stroke-width="1.1"/>
<rect x="231.2" y="583.5" width="3.9" height="24.6" fill="#d8261a"/>
<line x1="237.3" y1="589.4" x2="237.3" y2="592.0" stroke="#141414" stroke-width="1.1"/>
<line x1="237.3" y1="599.6" x2="237.3" y2="602.1" stroke="#141414" stroke-width="1.1"/>
<rect x="235.9" y="592.5" width="2.9" height="6.6" fill="#fbfbfd" stroke="#141414" stroke-width="1.05"/>
<line x1="241.5" y1="593.7" x2="241.5" y2="610.6" stroke="#d8261a" stroke-width="1.1"/>
<rect x="239.6" y="594.5" width="3.9" height="5.1" fill="#d8261a"/>
<line x1="245.7" y1="582.7" x2="245.7" y2="584.4" stroke="#141414" stroke-width="1.1"/>
<line x1="245.7" y1="612.3" x2="245.7" y2="612.8" stroke="#141414" stroke-width="1.1"/>
<rect x="244.2" y="584.9" width="2.9" height="26.9" fill="#fbfbfd" stroke="#141414" stroke-width="1.05"/>
<line x1="249.9" y1="580.1" x2="249.9" y2="583.5" stroke="#141414" stroke-width="1.1"/>
<line x1="249.9" y1="597.9" x2="249.9" y2="608.1" stroke="#141414" stroke-width="1.1"/>
<rect x="248.4" y="584.0" width="2.9" height="13.4" fill="#fbfbfd" stroke="#141414" stroke-width="1.05"/>
<line x1="254.0" y1="573.3" x2="254.0" y2="575.0" stroke="#141414" stroke-width="1.1"/>
<line x1="254.0" y1="579.3" x2="254.0" y2="585.2" stroke="#141414" stroke-width="1.1"/>
<rect x="252.6" y="575.5" width="2.9" height="3.2" fill="#fbfbfd" stroke="#141414" stroke-width="1.05"/>
<line x1="258.2" y1="556.4" x2="258.2" y2="558.1" stroke="#141414" stroke-width="1.1"/>
<line x1="258.2" y1="573.3" x2="258.2" y2="574.2" stroke="#141414" stroke-width="1.1"/>
<rect x="256.8" y="558.6" width="2.9" height="14.2" fill="#fbfbfd" stroke="#141414" stroke-width="1.05"/>
<line x1="262.4" y1="540.3" x2="262.4" y2="563.2" stroke="#141414" stroke-width="1.1"/>
<rect x="260.4" y="554.7" width="3.9" height="1.7" fill="#141414"/>
<line x1="266.6" y1="548.8" x2="266.6" y2="579.3" stroke="#d8261a" stroke-width="1.1"/>
<rect x="264.6" y="550.5" width="3.9" height="22.4" fill="#d8261a"/>
<line x1="270.7" y1="550.1" x2="270.7" y2="553.0" stroke="#141414" stroke-width="1.1"/>
<line x1="270.7" y1="566.6" x2="270.7" y2="568.3" stroke="#141414" stroke-width="1.1"/>
<rect x="269.3" y="553.5" width="2.9" height="12.5" fill="#fbfbfd" stroke="#141414" stroke-width="1.05"/>
<line x1="274.9" y1="553.9" x2="274.9" y2="560.6" stroke="#d8261a" stroke-width="1.1"/>
<line x1="274.9" y1="565.7" x2="274.9" y2="580.1" stroke="#d8261a" stroke-width="1.1"/>
<rect x="273.5" y="561.1" width="2.9" height="4.1" fill="#fbfbfd" stroke="#d8261a" stroke-width="1.05"/>
<line x1="279.1" y1="569.1" x2="279.1" y2="588.6" stroke="#d8261a" stroke-width="1.1"/>
<rect x="277.2" y="570.8" width="3.9" height="12.7" fill="#d8261a"/>
<line x1="283.3" y1="555.9" x2="283.3" y2="587.7" stroke="#141414" stroke-width="1.1"/>
<rect x="281.3" y="567.4" width="3.9" height="15.2" fill="#141414"/>
<line x1="287.5" y1="583.0" x2="287.5" y2="606.4" stroke="#d8261a" stroke-width="1.1"/>
<rect x="285.5" y="584.0" width="3.9" height="21.5" fill="#d8261a"/>
<line x1="291.6" y1="586.0" x2="291.6" y2="595.4" stroke="#141414" stroke-width="1.1"/>
<line x1="291.6" y1="608.9" x2="291.6" y2="613.1" stroke="#141414" stroke-width="1.1"/>
<rect x="290.2" y="595.9" width="2.9" height="12.5" fill="#fbfbfd" stroke="#141414" stroke-width="1.05"/>
<line x1="295.8" y1="579.3" x2="295.8" y2="581.0" stroke="#141414" stroke-width="1.1"/>
<line x1="295.8" y1="586.9" x2="295.8" y2="596.2" stroke="#141414" stroke-width="1.1"/>
<rect x="294.4" y="581.5" width="2.9" height="4.9" fill="#fbfbfd" stroke="#141414" stroke-width="1.05"/>
<line x1="300.0" y1="594.5" x2="300.0" y2="636.0" stroke="#d8261a" stroke-width="1.1"/>
<rect x="298.0" y="597.9" width="3.9" height="34.7" fill="#d8261a"/>
<line x1="304.2" y1="630.1" x2="304.2" y2="653.8" stroke="#d8261a" stroke-width="1.1"/>
<rect x="302.2" y="636.0" width="3.9" height="9.3" fill="#d8261a"/>
<line x1="308.3" y1="570.8" x2="308.3" y2="586.9" stroke="#141414" stroke-width="1.1"/>
<line x1="308.3" y1="597.9" x2="308.3" y2="602.1" stroke="#141414" stroke-width="1.1"/>
<rect x="306.9" y="587.4" width="2.9" height="10.0" fill="#fbfbfd" stroke="#141414" stroke-width="1.05"/>
<line x1="312.5" y1="551.3" x2="312.5" y2="552.2" stroke="#141414" stroke-width="1.1"/>
<line x1="312.5" y1="572.5" x2="312.5" y2="586.9" stroke="#141414" stroke-width="1.1"/>
<rect x="311.1" y="552.7" width="2.9" height="19.3" fill="#fbfbfd" stroke="#141414" stroke-width="1.05"/>
<line x1="316.7" y1="546.8" x2="316.7" y2="550.5" stroke="#141414" stroke-width="1.1"/>
<line x1="316.7" y1="553.5" x2="316.7" y2="559.8" stroke="#141414" stroke-width="1.1"/>
<rect x="315.2" y="551.0" width="2.9" height="2.0" fill="#fbfbfd" stroke="#141414" stroke-width="1.05"/>
<line x1="320.9" y1="522.5" x2="320.9" y2="524.7" stroke="#141414" stroke-width="1.1"/>
<line x1="320.9" y1="545.4" x2="320.9" y2="547.1" stroke="#141414" stroke-width="1.1"/>
<rect x="319.4" y="525.2" width="2.9" height="19.7" fill="#fbfbfd" stroke="#141414" stroke-width="1.05"/>
<line x1="325.1" y1="513.5" x2="325.1" y2="527.9" stroke="#141414" stroke-width="1.1"/>
<rect x="323.1" y="514.3" width="3.9" height="4.2" fill="#141414"/>
<line x1="329.2" y1="510.1" x2="329.2" y2="522.8" stroke="#141414" stroke-width="1.1"/>
<rect x="327.3" y="512.1" width="3.9" height="2.2" fill="#141414"/>
<line x1="333.4" y1="501.6" x2="333.4" y2="508.4" stroke="#141414" stroke-width="1.1"/>
<line x1="333.4" y1="514.3" x2="333.4" y2="516.0" stroke="#141414" stroke-width="1.1"/>
<rect x="332.0" y="508.9" width="2.9" height="4.9" fill="#fbfbfd" stroke="#141414" stroke-width="1.05"/>
<line x1="337.6" y1="485.5" x2="337.6" y2="488.9" stroke="#141414" stroke-width="1.1"/>
<line x1="337.6" y1="503.3" x2="337.6" y2="503.6" stroke="#141414" stroke-width="1.1"/>
<rect x="336.1" y="489.4" width="2.9" height="13.4" fill="#fbfbfd" stroke="#141414" stroke-width="1.05"/>
<line x1="341.8" y1="486.7" x2="341.8" y2="498.2" stroke="#d8261a" stroke-width="1.1"/>
<rect x="339.8" y="487.2" width="3.9" height="5.1" fill="#d8261a"/>
<line x1="345.9" y1="489.8" x2="345.9" y2="507.5" stroke="#d8261a" stroke-width="1.1"/>
<rect x="344.0" y="492.8" width="3.9" height="9.7" fill="#d8261a"/>
<line x1="350.1" y1="482.6" x2="350.1" y2="483.8" stroke="#141414" stroke-width="1.1"/>
<line x1="350.1" y1="503.6" x2="350.1" y2="507.5" stroke="#141414" stroke-width="1.1"/>
<rect x="348.7" y="484.3" width="2.9" height="18.8" fill="#fbfbfd" stroke="#141414" stroke-width="1.05"/>
<line x1="354.3" y1="485.5" x2="354.3" y2="502.5" stroke="#d8261a" stroke-width="1.1"/>
<rect x="352.3" y="489.4" width="3.9" height="3.7" fill="#d8261a"/>
<line x1="358.5" y1="461.0" x2="358.5" y2="469.8" stroke="#141414" stroke-width="1.1"/>
<line x1="358.5" y1="475.4" x2="358.5" y2="477.1" stroke="#141414" stroke-width="1.1"/>
<rect x="357.0" y="470.3" width="2.9" height="4.6" fill="#fbfbfd" stroke="#141414" stroke-width="1.05"/>
<line x1="362.6" y1="461.3" x2="362.6" y2="488.1" stroke="#d8261a" stroke-width="1.1"/>
<rect x="360.7" y="462.3" width="3.9" height="24.9" fill="#d8261a"/>
<line x1="366.8" y1="484.7" x2="366.8" y2="489.8" stroke="#d8261a" stroke-width="1.1"/>
<line x1="366.8" y1="500.8" x2="366.8" y2="509.2" stroke="#d8261a" stroke-width="1.1"/>
<rect x="365.4" y="490.3" width="2.9" height="10.0" fill="#fbfbfd" stroke="#d8261a" stroke-width="1.05"/>
<line x1="371.0" y1="473.2" x2="371.0" y2="473.7" stroke="#141414" stroke-width="1.1"/>
<line x1="371.0" y1="489.8" x2="371.0" y2="490.6" stroke="#141414" stroke-width="1.1"/>
<rect x="369.5" y="474.2" width="2.9" height="15.1" fill="#fbfbfd" stroke="#141414" stroke-width="1.05"/>
<line x1="375.2" y1="464.7" x2="375.2" y2="467.7" stroke="#141414" stroke-width="1.1"/>
<line x1="375.2" y1="474.5" x2="375.2" y2="478.7" stroke="#141414" stroke-width="1.1"/>
<rect x="373.7" y="468.2" width="2.9" height="5.8" fill="#fbfbfd" stroke="#141414" stroke-width="1.05"/>
<line x1="379.4" y1="480.9" x2="379.4" y2="497.9" stroke="#d8261a" stroke-width="1.1"/>
<rect x="377.4" y="480.9" width="3.9" height="2.0" fill="#d8261a"/>
<line x1="383.5" y1="457.6" x2="383.5" y2="465.7" stroke="#141414" stroke-width="1.1"/>
<line x1="383.5" y1="478.2" x2="383.5" y2="478.7" stroke="#141414" stroke-width="1.1"/>
<rect x="382.1" y="466.2" width="2.9" height="11.5" fill="#fbfbfd" stroke="#141414" stroke-width="1.05"/>
<line x1="387.7" y1="460.1" x2="387.7" y2="472.8" stroke="#141414" stroke-width="1.1"/>
<rect x="385.8" y="463.5" width="3.9" height="1.7" fill="#141414"/>
<line x1="391.9" y1="449.1" x2="391.9" y2="464.4" stroke="#141414" stroke-width="1.1"/>
<rect x="389.9" y="457.6" width="3.9" height="2.5" fill="#141414"/>
<line x1="396.1" y1="459.3" x2="396.1" y2="472.8" stroke="#d8261a" stroke-width="1.1"/>
<rect x="394.1" y="461.0" width="3.9" height="2.5" fill="#d8261a"/>
<line x1="400.2" y1="452.8" x2="400.2" y2="467.7" stroke="#d8261a" stroke-width="1.1"/>
<rect x="398.3" y="456.7" width="3.9" height="10.2" fill="#d8261a"/>
<line x1="404.4" y1="463.5" x2="404.4" y2="468.6" stroke="#d8261a" stroke-width="1.1"/>
<line x1="404.4" y1="477.1" x2="404.4" y2="479.6" stroke="#d8261a" stroke-width="1.1"/>
<rect x="403.0" y="469.1" width="2.9" height="7.5" fill="#fbfbfd" stroke="#d8261a" stroke-width="1.05"/>
<line x1="408.6" y1="461.8" x2="408.6" y2="462.3" stroke="#141414" stroke-width="1.1"/>
<line x1="408.6" y1="469.1" x2="408.6" y2="472.0" stroke="#141414" stroke-width="1.1"/>
<rect x="407.1" y="462.8" width="2.9" height="5.8" fill="#fbfbfd" stroke="#141414" stroke-width="1.05"/>
<line x1="412.8" y1="473.2" x2="412.8" y2="489.8" stroke="#d8261a" stroke-width="1.1"/>
<rect x="410.8" y="473.2" width="3.9" height="2.2" fill="#d8261a"/>
<line x1="416.9" y1="452.8" x2="416.9" y2="464.0" stroke="#141414" stroke-width="1.1"/>
<line x1="416.9" y1="484.3" x2="416.9" y2="487.2" stroke="#141414" stroke-width="1.1"/>
<rect x="415.5" y="464.5" width="2.9" height="19.3" fill="#fbfbfd" stroke="#141414" stroke-width="1.05"/>
<line x1="421.1" y1="457.6" x2="421.1" y2="479.6" stroke="#d8261a" stroke-width="1.1"/>
<rect x="419.2" y="458.4" width="3.9" height="20.8" fill="#d8261a"/>
<line x1="425.3" y1="456.7" x2="425.3" y2="464.0" stroke="#141414" stroke-width="1.1"/>
<line x1="425.3" y1="467.7" x2="425.3" y2="473.7" stroke="#141414" stroke-width="1.1"/>
<rect x="423.8" y="464.5" width="2.9" height="2.7" fill="#fbfbfd" stroke="#141414" stroke-width="1.05"/>
<line x1="429.5" y1="457.6" x2="429.5" y2="459.6" stroke="#141414" stroke-width="1.1"/>
<line x1="429.5" y1="472.5" x2="429.5" y2="472.8" stroke="#141414" stroke-width="1.1"/>
<rect x="428.0" y="460.1" width="2.9" height="11.9" fill="#fbfbfd" stroke="#141414" stroke-width="1.05"/>
<line x1="433.7" y1="466.4" x2="433.7" y2="483.8" stroke="#d8261a" stroke-width="1.1"/>
<rect x="431.7" y="468.6" width="3.9" height="2.5" fill="#d8261a"/>
<line x1="437.8" y1="459.6" x2="437.8" y2="460.1" stroke="#141414" stroke-width="1.1"/>
<line x1="437.8" y1="472.8" x2="437.8" y2="473.7" stroke="#141414" stroke-width="1.1"/>
<rect x="436.4" y="460.6" width="2.9" height="11.7" fill="#fbfbfd" stroke="#141414" stroke-width="1.05"/>
<line x1="442.0" y1="448.3" x2="442.0" y2="451.7" stroke="#141414" stroke-width="1.1"/>
<line x1="442.0" y1="456.7" x2="442.0" y2="463.5" stroke="#141414" stroke-width="1.1"/>
<rect x="440.6" y="452.2" width="2.9" height="4.1" fill="#fbfbfd" stroke="#141414" stroke-width="1.05"/>
<line x1="446.2" y1="440.6" x2="446.2" y2="472.0" stroke="#d8261a" stroke-width="1.1"/>
<rect x="444.2" y="443.2" width="3.9" height="16.9" fill="#d8261a"/>
<line x1="450.4" y1="440.6" x2="450.4" y2="444.4" stroke="#141414" stroke-width="1.1"/>
<line x1="450.4" y1="454.5" x2="450.4" y2="458.4" stroke="#141414" stroke-width="1.1"/>
<rect x="448.9" y="444.9" width="2.9" height="9.2" fill="#fbfbfd" stroke="#141414" stroke-width="1.05"/>
<line x1="454.5" y1="416.1" x2="454.5" y2="421.2" stroke="#141414" stroke-width="1.1"/>
<line x1="454.5" y1="442.0" x2="454.5" y2="445.7" stroke="#141414" stroke-width="1.1"/>
<rect x="453.1" y="421.7" width="2.9" height="19.8" fill="#fbfbfd" stroke="#141414" stroke-width="1.05"/>
<line x1="458.7" y1="414.9" x2="458.7" y2="429.6" stroke="#d8261a" stroke-width="1.1"/>
<rect x="456.8" y="420.0" width="3.9" height="3.7" fill="#d8261a"/>
<line x1="462.9" y1="412.2" x2="462.9" y2="436.4" stroke="#d8261a" stroke-width="1.1"/>
<rect x="460.9" y="428.8" width="3.9" height="4.7" fill="#d8261a"/>
<line x1="467.1" y1="421.7" x2="467.1" y2="422.9" stroke="#141414" stroke-width="1.1"/>
<line x1="467.1" y1="426.8" x2="467.1" y2="433.5" stroke="#141414" stroke-width="1.1"/>
<rect x="465.6" y="423.4" width="2.9" height="2.9" fill="#fbfbfd" stroke="#141414" stroke-width="1.05"/>
<line x1="471.2" y1="420.0" x2="471.2" y2="430.5" stroke="#d8261a" stroke-width="1.1"/>
<rect x="469.3" y="423.7" width="3.9" height="2.5" fill="#d8261a"/>
<line x1="475.4" y1="421.2" x2="475.4" y2="427.9" stroke="#d8261a" stroke-width="1.1"/>
<rect x="473.5" y="424.5" width="3.9" height="1.2" fill="#d8261a"/>
<line x1="479.6" y1="416.9" x2="479.6" y2="428.5" stroke="#d8261a" stroke-width="1.1"/>
<rect x="477.6" y="425.1" width="3.9" height="1.2" fill="#d8261a"/>
<line x1="483.8" y1="422.0" x2="483.8" y2="427.9" stroke="#141414" stroke-width="1.1"/>
<rect x="481.8" y="423.4" width="3.9" height="3.4" fill="#141414"/>
<line x1="488.0" y1="422.0" x2="488.0" y2="438.1" stroke="#d8261a" stroke-width="1.1"/>
<rect x="486.0" y="425.4" width="3.9" height="9.3" fill="#d8261a"/>
<line x1="492.1" y1="430.5" x2="492.1" y2="455.0" stroke="#d8261a" stroke-width="1.1"/>
<rect x="490.2" y="434.7" width="3.9" height="8.5" fill="#d8261a"/>
<line x1="496.3" y1="439.0" x2="496.3" y2="455.5" stroke="#d8261a" stroke-width="1.1"/>
<rect x="494.4" y="450.0" width="3.9" height="5.1" fill="#d8261a"/>
<line x1="500.5" y1="460.1" x2="500.5" y2="481.3" stroke="#d8261a" stroke-width="1.1"/>
<rect x="498.5" y="470.8" width="3.9" height="7.5" fill="#d8261a"/>
<line x1="504.7" y1="465.2" x2="504.7" y2="473.7" stroke="#141414" stroke-width="1.1"/>
<line x1="504.7" y1="477.6" x2="504.7" y2="478.2" stroke="#141414" stroke-width="1.1"/>
<rect x="503.2" y="474.2" width="2.9" height="2.9" fill="#fbfbfd" stroke="#141414" stroke-width="1.05"/>
<line x1="508.8" y1="448.3" x2="508.8" y2="449.1" stroke="#141414" stroke-width="1.1"/>
<line x1="508.8" y1="463.5" x2="508.8" y2="466.9" stroke="#141414" stroke-width="1.1"/>
<rect x="507.4" y="449.6" width="2.9" height="13.4" fill="#fbfbfd" stroke="#141414" stroke-width="1.05"/>
<line x1="513.0" y1="434.6" x2="513.0" y2="435.5" stroke="#141414" stroke-width="1.1"/>
<line x1="513.0" y1="455.5" x2="513.0" y2="456.1" stroke="#141414" stroke-width="1.1"/>
<rect x="511.6" y="436.0" width="2.9" height="19.0" fill="#fbfbfd" stroke="#141414" stroke-width="1.05"/>
<line x1="517.2" y1="418.5" x2="517.2" y2="423.3" stroke="#141414" stroke-width="1.1"/>
<line x1="517.2" y1="433.8" x2="517.2" y2="434.6" stroke="#141414" stroke-width="1.1"/>
<rect x="515.7" y="423.8" width="2.9" height="9.5" fill="#fbfbfd" stroke="#141414" stroke-width="1.05"/>
<line x1="521.4" y1="403.0" x2="521.4" y2="427.9" stroke="#141414" stroke-width="1.1"/>
<rect x="519.4" y="414.8" width="3.9" height="1.7" fill="#141414"/>
<line x1="525.5" y1="409.2" x2="525.5" y2="421.9" stroke="#d8261a" stroke-width="1.1"/>
<rect x="523.6" y="413.1" width="3.9" height="5.4" fill="#d8261a"/>
<line x1="529.7" y1="416.0" x2="529.7" y2="433.8" stroke="#d8261a" stroke-width="1.1"/>
<rect x="527.8" y="424.5" width="3.9" height="2.9" fill="#d8261a"/>
<line x1="533.9" y1="432.1" x2="533.9" y2="446.5" stroke="#d8261a" stroke-width="1.1"/>
<rect x="532.0" y="434.6" width="3.9" height="2.5" fill="#d8261a"/>
<line x1="538.1" y1="423.6" x2="538.1" y2="424.5" stroke="#141414" stroke-width="1.1"/>
<line x1="538.1" y1="428.7" x2="538.1" y2="434.6" stroke="#141414" stroke-width="1.1"/>
<rect x="536.6" y="425.0" width="2.9" height="3.2" fill="#fbfbfd" stroke="#141414" stroke-width="1.05"/>
<line x1="542.3" y1="406.7" x2="542.3" y2="414.3" stroke="#141414" stroke-width="1.1"/>
<line x1="542.3" y1="423.6" x2="542.3" y2="430.1" stroke="#141414" stroke-width="1.1"/>
<rect x="540.8" y="414.8" width="2.9" height="8.3" fill="#fbfbfd" stroke="#141414" stroke-width="1.05"/>
<line x1="546.4" y1="404.7" x2="546.4" y2="422.8" stroke="#d8261a" stroke-width="1.1"/>
<rect x="544.5" y="405.8" width="3.9" height="12.7" fill="#d8261a"/>
<line x1="550.6" y1="409.2" x2="550.6" y2="410.1" stroke="#141414" stroke-width="1.1"/>
<line x1="550.6" y1="416.9" x2="550.6" y2="422.8" stroke="#141414" stroke-width="1.1"/>
<rect x="549.2" y="410.6" width="2.9" height="5.8" fill="#fbfbfd" stroke="#141414" stroke-width="1.05"/>
<line x1="554.8" y1="396.2" x2="554.8" y2="408.4" stroke="#141414" stroke-width="1.1"/>
<rect x="552.8" y="399.9" width="3.9" height="5.9" fill="#141414"/>
<line x1="559.0" y1="396.5" x2="559.0" y2="401.3" stroke="#141414" stroke-width="1.1"/>
<line x1="559.0" y1="405.0" x2="559.0" y2="419.4" stroke="#141414" stroke-width="1.1"/>
<rect x="557.5" y="401.8" width="2.9" height="2.7" fill="#fbfbfd" stroke="#141414" stroke-width="1.05"/>
<line x1="563.1" y1="384.7" x2="563.1" y2="392.8" stroke="#141414" stroke-width="1.1"/>
<line x1="563.1" y1="397.4" x2="563.1" y2="400.8" stroke="#141414" stroke-width="1.1"/>
<rect x="561.7" y="393.3" width="2.9" height="3.6" fill="#fbfbfd" stroke="#141414" stroke-width="1.05"/>
<line x1="567.3" y1="380.4" x2="567.3" y2="380.9" stroke="#141414" stroke-width="1.1"/>
<line x1="567.3" y1="392.3" x2="567.3" y2="394.8" stroke="#141414" stroke-width="1.1"/>
<rect x="565.9" y="381.4" width="2.9" height="10.3" fill="#fbfbfd" stroke="#141414" stroke-width="1.05"/>
<line x1="571.5" y1="378.2" x2="571.5" y2="396.9" stroke="#d8261a" stroke-width="1.1"/>
<rect x="569.5" y="383.0" width="3.9" height="11.9" fill="#d8261a"/>
<line x1="575.7" y1="394.0" x2="575.7" y2="418.2" stroke="#d8261a" stroke-width="1.1"/>
<rect x="573.7" y="404.1" width="3.9" height="11.9" fill="#d8261a"/>
<line x1="579.8" y1="388.1" x2="579.8" y2="391.4" stroke="#141414" stroke-width="1.1"/>
<line x1="579.8" y1="412.6" x2="579.8" y2="415.2" stroke="#141414" stroke-width="1.1"/>
<rect x="578.4" y="391.9" width="2.9" height="20.2" fill="#fbfbfd" stroke="#141414" stroke-width="1.05"/>
<line x1="584.0" y1="321.2" x2="584.0" y2="325.1" stroke="#141414" stroke-width="1.1"/>
<line x1="584.0" y1="338.6" x2="584.0" y2="350.0" stroke="#141414" stroke-width="1.1"/>
<rect x="582.6" y="325.6" width="2.9" height="12.5" fill="#fbfbfd" stroke="#141414" stroke-width="1.05"/>
<line x1="588.2" y1="331.3" x2="588.2" y2="347.4" stroke="#d8261a" stroke-width="1.1"/>
<rect x="586.3" y="333.0" width="3.9" height="1.7" fill="#d8261a"/>
<line x1="592.4" y1="330.5" x2="592.4" y2="347.4" stroke="#d8261a" stroke-width="1.1"/>
<rect x="590.4" y="337.6" width="3.9" height="3.0" fill="#d8261a"/>
<line x1="596.6" y1="329.6" x2="596.6" y2="332.2" stroke="#141414" stroke-width="1.1"/>
<line x1="596.6" y1="337.6" x2="596.6" y2="341.5" stroke="#141414" stroke-width="1.1"/>
<rect x="595.1" y="332.7" width="2.9" height="4.4" fill="#fbfbfd" stroke="#141414" stroke-width="1.05"/>
<line x1="600.7" y1="327.9" x2="600.7" y2="342.0" stroke="#d8261a" stroke-width="1.1"/>
<rect x="598.8" y="334.7" width="3.9" height="2.2" fill="#d8261a"/>
<line x1="604.9" y1="308.1" x2="604.9" y2="311.5" stroke="#141414" stroke-width="1.1"/>
<line x1="604.9" y1="330.8" x2="604.9" y2="332.2" stroke="#141414" stroke-width="1.1"/>
<rect x="603.5" y="312.0" width="2.9" height="18.3" fill="#fbfbfd" stroke="#141414" stroke-width="1.05"/>
<line x1="609.1" y1="306.8" x2="609.1" y2="327.1" stroke="#d8261a" stroke-width="1.1"/>
<rect x="607.1" y="308.8" width="3.9" height="14.9" fill="#d8261a"/>
<line x1="613.3" y1="330.5" x2="613.3" y2="342.3" stroke="#d8261a" stroke-width="1.1"/>
<line x1="613.3" y1="347.1" x2="613.3" y2="358.4" stroke="#d8261a" stroke-width="1.1"/>
<rect x="611.8" y="342.8" width="2.9" height="3.7" fill="#fbfbfd" stroke="#d8261a" stroke-width="1.05"/>
<line x1="617.4" y1="328.8" x2="617.4" y2="330.1" stroke="#141414" stroke-width="1.1"/>
<line x1="617.4" y1="338.6" x2="617.4" y2="343.2" stroke="#141414" stroke-width="1.1"/>
<rect x="616.0" y="330.6" width="2.9" height="7.5" fill="#fbfbfd" stroke="#141414" stroke-width="1.05"/>
<line x1="621.6" y1="328.8" x2="621.6" y2="348.8" stroke="#d8261a" stroke-width="1.1"/>
<rect x="619.7" y="331.3" width="3.9" height="5.1" fill="#d8261a"/>
<line x1="625.8" y1="331.3" x2="625.8" y2="336.9" stroke="#d8261a" stroke-width="1.1"/>
<line x1="625.8" y1="341.5" x2="625.8" y2="349.1" stroke="#d8261a" stroke-width="1.1"/>
<rect x="624.3" y="337.4" width="2.9" height="3.6" fill="#fbfbfd" stroke="#d8261a" stroke-width="1.05"/>
<line x1="630.0" y1="340.6" x2="630.0" y2="357.6" stroke="#d8261a" stroke-width="1.1"/>
<rect x="628.0" y="344.0" width="3.9" height="6.8" fill="#d8261a"/>
<line x1="634.1" y1="333.0" x2="634.1" y2="350.8" stroke="#141414" stroke-width="1.1"/>
<rect x="632.2" y="340.3" width="3.9" height="1.7" fill="#141414"/>
<line x1="638.3" y1="309.3" x2="638.3" y2="311.5" stroke="#141414" stroke-width="1.1"/>
<line x1="638.3" y1="319.0" x2="638.3" y2="326.2" stroke="#141414" stroke-width="1.1"/>
<rect x="636.9" y="312.0" width="2.9" height="6.5" fill="#fbfbfd" stroke="#141414" stroke-width="1.05"/>
<line x1="642.5" y1="304.7" x2="642.5" y2="308.8" stroke="#141414" stroke-width="1.1"/>
<line x1="642.5" y1="313.2" x2="642.5" y2="316.9" stroke="#141414" stroke-width="1.1"/>
<rect x="641.1" y="309.3" width="2.9" height="3.4" fill="#fbfbfd" stroke="#141414" stroke-width="1.05"/>
<line x1="646.7" y1="302.0" x2="646.7" y2="313.2" stroke="#d8261a" stroke-width="1.1"/>
<rect x="644.7" y="304.7" width="3.9" height="5.4" fill="#d8261a"/>
<line x1="650.9" y1="311.0" x2="650.9" y2="321.2" stroke="#d8261a" stroke-width="1.1"/>
<rect x="648.9" y="313.2" width="3.9" height="3.7" fill="#d8261a"/>
<line x1="655.0" y1="312.7" x2="655.0" y2="317.8" stroke="#d8261a" stroke-width="1.1"/>
<line x1="655.0" y1="322.9" x2="655.0" y2="323.7" stroke="#d8261a" stroke-width="1.1"/>
<rect x="653.6" y="318.3" width="2.9" height="4.1" fill="#fbfbfd" stroke="#d8261a" stroke-width="1.05"/>
<line x1="659.2" y1="299.6" x2="659.2" y2="300.4" stroke="#141414" stroke-width="1.1"/>
<line x1="659.2" y1="319.9" x2="659.2" y2="320.8" stroke="#141414" stroke-width="1.1"/>
<rect x="657.8" y="300.9" width="2.9" height="18.5" fill="#fbfbfd" stroke="#141414" stroke-width="1.05"/>
<line x1="663.4" y1="291.1" x2="663.4" y2="292.8" stroke="#141414" stroke-width="1.1"/>
<line x1="663.4" y1="301.3" x2="663.4" y2="303.8" stroke="#141414" stroke-width="1.1"/>
<rect x="661.9" y="293.3" width="2.9" height="7.5" fill="#fbfbfd" stroke="#141414" stroke-width="1.05"/>
<line x1="667.6" y1="283.5" x2="667.6" y2="297.6" stroke="#d8261a" stroke-width="1.1"/>
<rect x="665.6" y="295.4" width="3.9" height="2.2" fill="#d8261a"/>
<line x1="671.7" y1="298.7" x2="671.7" y2="319.1" stroke="#d8261a" stroke-width="1.1"/>
<rect x="669.8" y="299.6" width="3.9" height="14.4" fill="#d8261a"/>
<line x1="675.9" y1="301.3" x2="675.9" y2="318.2" stroke="#d8261a" stroke-width="1.1"/>
<rect x="674.0" y="303.0" width="3.9" height="14.4" fill="#d8261a"/>
<line x1="680.1" y1="294.5" x2="680.1" y2="300.9" stroke="#141414" stroke-width="1.1"/>
<line x1="680.1" y1="309.8" x2="680.1" y2="315.7" stroke="#141414" stroke-width="1.1"/>
<rect x="678.6" y="301.4" width="2.9" height="7.8" fill="#fbfbfd" stroke="#141414" stroke-width="1.05"/>
<line x1="684.3" y1="289.4" x2="684.3" y2="312.3" stroke="#d8261a" stroke-width="1.1"/>
<rect x="682.3" y="301.3" width="3.9" height="6.8" fill="#d8261a"/>
<line x1="688.4" y1="311.4" x2="688.4" y2="328.4" stroke="#d8261a" stroke-width="1.1"/>
<rect x="686.5" y="312.8" width="3.9" height="10.5" fill="#d8261a"/>
<line x1="692.6" y1="303.0" x2="692.6" y2="307.2" stroke="#141414" stroke-width="1.1"/>
<line x1="692.6" y1="317.9" x2="692.6" y2="324.1" stroke="#141414" stroke-width="1.1"/>
<rect x="691.2" y="307.7" width="2.9" height="9.7" fill="#fbfbfd" stroke="#141414" stroke-width="1.05"/>
<line x1="696.8" y1="297.1" x2="696.8" y2="302.1" stroke="#141414" stroke-width="1.1"/>
<line x1="696.8" y1="305.5" x2="696.8" y2="307.2" stroke="#141414" stroke-width="1.1"/>
<rect x="695.4" y="302.6" width="2.9" height="2.4" fill="#fbfbfd" stroke="#141414" stroke-width="1.05"/>
<line x1="701.0" y1="286.4" x2="701.0" y2="291.1" stroke="#141414" stroke-width="1.1"/>
<line x1="701.0" y1="296.2" x2="701.0" y2="298.2" stroke="#141414" stroke-width="1.1"/>
<rect x="699.5" y="291.6" width="2.9" height="4.1" fill="#fbfbfd" stroke="#141414" stroke-width="1.05"/>
<line x1="705.2" y1="294.5" x2="705.2" y2="315.7" stroke="#d8261a" stroke-width="1.1"/>
<rect x="703.2" y="299.6" width="3.9" height="13.5" fill="#d8261a"/>
<line x1="709.3" y1="300.9" x2="709.3" y2="312.8" stroke="#141414" stroke-width="1.1"/>
<rect x="707.4" y="305.5" width="3.9" height="6.8" fill="#141414"/>
<line x1="713.5" y1="303.8" x2="713.5" y2="304.7" stroke="#141414" stroke-width="1.1"/>
<line x1="713.5" y1="314.0" x2="713.5" y2="317.9" stroke="#141414" stroke-width="1.1"/>
<rect x="712.1" y="305.2" width="2.9" height="8.3" fill="#fbfbfd" stroke="#141414" stroke-width="1.05"/>
<line x1="717.7" y1="291.1" x2="717.7" y2="292.8" stroke="#141414" stroke-width="1.1"/>
<line x1="717.7" y1="304.7" x2="717.7" y2="311.4" stroke="#141414" stroke-width="1.1"/>
<rect x="716.2" y="293.3" width="2.9" height="10.9" fill="#fbfbfd" stroke="#141414" stroke-width="1.05"/>
<line x1="721.9" y1="277.9" x2="721.9" y2="294.5" stroke="#141414" stroke-width="1.1"/>
<rect x="719.9" y="284.0" width="3.9" height="9.1" fill="#141414"/>
<line x1="726.0" y1="285.2" x2="726.0" y2="288.6" stroke="#141414" stroke-width="1.1"/>
<line x1="726.0" y1="295.9" x2="726.0" y2="300.9" stroke="#141414" stroke-width="1.1"/>
<rect x="724.6" y="289.1" width="2.9" height="6.3" fill="#fbfbfd" stroke="#141414" stroke-width="1.05"/>
<line x1="730.2" y1="278.9" x2="730.2" y2="286.0" stroke="#141414" stroke-width="1.1"/>
<line x1="730.2" y1="294.5" x2="730.2" y2="297.9" stroke="#141414" stroke-width="1.1"/>
<rect x="728.8" y="286.5" width="2.9" height="7.5" fill="#fbfbfd" stroke="#141414" stroke-width="1.05"/>
<line x1="734.4" y1="282.7" x2="734.4" y2="294.5" stroke="#d8261a" stroke-width="1.1"/>
<rect x="732.4" y="283.5" width="3.9" height="9.3" fill="#d8261a"/>
<line x1="738.6" y1="284.0" x2="738.6" y2="298.7" stroke="#141414" stroke-width="1.1"/>
<rect x="736.6" y="284.3" width="3.9" height="1.2" fill="#141414"/>
<line x1="742.8" y1="275.5" x2="742.8" y2="287.7" stroke="#141414" stroke-width="1.1"/>
<rect x="740.8" y="282.7" width="3.9" height="1.7" fill="#141414"/>
<line x1="746.9" y1="269.4" x2="746.9" y2="285.2" stroke="#141414" stroke-width="1.1"/>
<rect x="745.0" y="278.9" width="3.9" height="1.7" fill="#141414"/>
<line x1="751.1" y1="280.6" x2="751.1" y2="281.8" stroke="#d8261a" stroke-width="1.1"/>
<line x1="751.1" y1="289.4" x2="751.1" y2="292.8" stroke="#d8261a" stroke-width="1.1"/>
<rect x="749.7" y="282.3" width="2.9" height="6.6" fill="#fbfbfd" stroke="#d8261a" stroke-width="1.05"/>
<line x1="755.3" y1="270.8" x2="755.3" y2="271.7" stroke="#141414" stroke-width="1.1"/>
<line x1="755.3" y1="285.2" x2="755.3" y2="285.7" stroke="#141414" stroke-width="1.1"/>
<rect x="753.8" y="272.2" width="2.9" height="12.5" fill="#fbfbfd" stroke="#141414" stroke-width="1.05"/>
<line x1="759.5" y1="260.3" x2="759.5" y2="284.7" stroke="#d8261a" stroke-width="1.1"/>
<rect x="757.5" y="264.9" width="3.9" height="19.1" fill="#d8261a"/>
<line x1="763.6" y1="254.7" x2="763.6" y2="259.8" stroke="#141414" stroke-width="1.1"/>
<line x1="763.6" y1="274.2" x2="763.6" y2="275.0" stroke="#141414" stroke-width="1.1"/>
<rect x="762.2" y="260.3" width="2.9" height="13.4" fill="#fbfbfd" stroke="#141414" stroke-width="1.05"/>
<line x1="767.8" y1="249.6" x2="767.8" y2="260.6" stroke="#141414" stroke-width="1.1"/>
<rect x="765.9" y="250.5" width="3.9" height="8.5" fill="#141414"/>
<line x1="772.0" y1="249.1" x2="772.0" y2="264.0" stroke="#141414" stroke-width="1.1"/>
<rect x="770.0" y="250.1" width="3.9" height="6.3" fill="#141414"/>
<line x1="776.2" y1="254.7" x2="776.2" y2="255.6" stroke="#141414" stroke-width="1.1"/>
<line x1="776.2" y1="270.8" x2="776.2" y2="271.7" stroke="#141414" stroke-width="1.1"/>
<rect x="774.7" y="256.1" width="2.9" height="14.2" fill="#fbfbfd" stroke="#141414" stroke-width="1.05"/>
<line x1="780.3" y1="236.9" x2="780.3" y2="240.7" stroke="#141414" stroke-width="1.1"/>
<line x1="780.3" y1="252.2" x2="780.3" y2="258.1" stroke="#141414" stroke-width="1.1"/>
<rect x="778.9" y="241.2" width="2.9" height="10.5" fill="#fbfbfd" stroke="#141414" stroke-width="1.05"/>
<line x1="784.5" y1="244.6" x2="784.5" y2="260.6" stroke="#d8261a" stroke-width="1.1"/>
<rect x="782.6" y="245.1" width="3.9" height="8.8" fill="#d8261a"/>
<line x1="788.7" y1="242.0" x2="788.7" y2="270.5" stroke="#d8261a" stroke-width="1.1"/>
<rect x="786.7" y="248.8" width="3.9" height="19.5" fill="#d8261a"/>
<line x1="792.9" y1="260.6" x2="792.9" y2="274.2" stroke="#d8261a" stroke-width="1.1"/>
<rect x="790.9" y="267.8" width="3.9" height="1.7" fill="#d8261a"/>
<line x1="797.1" y1="262.3" x2="797.1" y2="284.4" stroke="#d8261a" stroke-width="1.1"/>
<rect x="795.1" y="263.7" width="3.9" height="19.8" fill="#d8261a"/>
<line x1="801.2" y1="273.3" x2="801.2" y2="291.1" stroke="#d8261a" stroke-width="1.1"/>
<rect x="799.3" y="276.7" width="3.9" height="12.7" fill="#d8261a"/>
<line x1="805.4" y1="289.8" x2="805.4" y2="317.9" stroke="#d8261a" stroke-width="1.1"/>
<rect x="803.5" y="291.1" width="3.9" height="20.3" fill="#d8261a"/>
<line x1="809.6" y1="291.1" x2="809.6" y2="311.8" stroke="#141414" stroke-width="1.1"/>
<rect x="807.6" y="297.9" width="3.9" height="1.7" fill="#141414"/>
<line x1="813.8" y1="284.7" x2="813.8" y2="285.7" stroke="#141414" stroke-width="1.1"/>
<line x1="813.8" y1="293.2" x2="813.8" y2="304.7" stroke="#141414" stroke-width="1.1"/>
<rect x="812.3" y="286.2" width="2.9" height="6.5" fill="#fbfbfd" stroke="#141414" stroke-width="1.05"/>
<line x1="817.9" y1="283.5" x2="817.9" y2="303.3" stroke="#d8261a" stroke-width="1.1"/>
<rect x="816.0" y="285.2" width="3.9" height="16.9" fill="#d8261a"/>
<line x1="822.1" y1="314.0" x2="822.1" y2="315.7" stroke="#d8261a" stroke-width="1.1"/>
<line x1="822.1" y1="336.0" x2="822.1" y2="354.6" stroke="#d8261a" stroke-width="1.1"/>
<rect x="820.7" y="316.2" width="2.9" height="19.3" fill="#fbfbfd" stroke="#d8261a" stroke-width="1.05"/>
<line x1="826.3" y1="280.1" x2="826.3" y2="304.7" stroke="#141414" stroke-width="1.1"/>
<rect x="824.3" y="294.5" width="3.9" height="1.7" fill="#141414"/>
<line x1="830.5" y1="267.1" x2="830.5" y2="284.4" stroke="#141414" stroke-width="1.1"/>
<rect x="828.5" y="270.0" width="3.9" height="9.3" fill="#141414"/>
<line x1="834.6" y1="269.4" x2="834.6" y2="310.6" stroke="#d8261a" stroke-width="1.1"/>
<rect x="832.7" y="279.3" width="3.9" height="29.6" fill="#d8261a"/>
<line x1="838.8" y1="259.0" x2="838.8" y2="302.1" stroke="#141414" stroke-width="1.1"/>
<rect x="836.9" y="277.6" width="3.9" height="10.2" fill="#141414"/>
<line x1="843.0" y1="260.3" x2="843.0" y2="261.1" stroke="#141414" stroke-width="1.1"/>
<line x1="843.0" y1="279.8" x2="843.0" y2="284.0" stroke="#141414" stroke-width="1.1"/>
<rect x="841.5" y="261.6" width="2.9" height="17.6" fill="#fbfbfd" stroke="#141414" stroke-width="1.05"/>
<line x1="847.2" y1="247.6" x2="847.2" y2="257.7" stroke="#141414" stroke-width="1.1"/>
<rect x="845.2" y="250.6" width="3.9" height="4.6" fill="#141414"/>
<line x1="851.4" y1="241.7" x2="851.4" y2="242.5" stroke="#141414" stroke-width="1.1"/>
<line x1="851.4" y1="254.4" x2="851.4" y2="262.0" stroke="#141414" stroke-width="1.1"/>
<rect x="849.9" y="243.0" width="2.9" height="10.9" fill="#fbfbfd" stroke="#141414" stroke-width="1.05"/>
<line x1="855.5" y1="236.1" x2="855.5" y2="250.1" stroke="#141414" stroke-width="1.1"/>
<rect x="853.6" y="240.5" width="3.9" height="2.4" fill="#141414"/>
<line x1="859.7" y1="243.3" x2="859.7" y2="245.0" stroke="#d8261a" stroke-width="1.1"/>
<line x1="859.7" y1="249.6" x2="859.7" y2="253.5" stroke="#d8261a" stroke-width="1.1"/>
<rect x="858.3" y="245.5" width="2.9" height="3.6" fill="#fbfbfd" stroke="#d8261a" stroke-width="1.05"/>
<line x1="863.9" y1="229.3" x2="863.9" y2="239.1" stroke="#141414" stroke-width="1.1"/>
<line x1="863.9" y1="242.8" x2="863.9" y2="248.4" stroke="#141414" stroke-width="1.1"/>
<rect x="862.4" y="239.6" width="2.9" height="2.7" fill="#fbfbfd" stroke="#141414" stroke-width="1.05"/>
<line x1="868.1" y1="237.1" x2="868.1" y2="249.3" stroke="#d8261a" stroke-width="1.1"/>
<rect x="866.1" y="239.1" width="3.9" height="9.3" fill="#d8261a"/>
<line x1="872.2" y1="243.9" x2="872.2" y2="259.4" stroke="#d8261a" stroke-width="1.1"/>
<rect x="870.3" y="244.5" width="3.9" height="9.0" fill="#d8261a"/>
<line x1="876.4" y1="245.9" x2="876.4" y2="249.6" stroke="#141414" stroke-width="1.1"/>
<line x1="876.4" y1="266.5" x2="876.4" y2="267.6" stroke="#141414" stroke-width="1.1"/>
<rect x="875.0" y="250.1" width="2.9" height="15.9" fill="#fbfbfd" stroke="#141414" stroke-width="1.05"/>
<line x1="880.6" y1="251.8" x2="880.6" y2="271.3" stroke="#d8261a" stroke-width="1.1"/>
<rect x="878.6" y="255.2" width="3.9" height="2.5" fill="#d8261a"/>
<line x1="884.8" y1="249.3" x2="884.8" y2="267.9" stroke="#d8261a" stroke-width="1.1"/>
<rect x="882.8" y="256.9" width="3.9" height="10.2" fill="#d8261a"/>
<line x1="888.9" y1="259.1" x2="888.9" y2="260.8" stroke="#141414" stroke-width="1.1"/>
<line x1="888.9" y1="267.1" x2="888.9" y2="268.7" stroke="#141414" stroke-width="1.1"/>
<rect x="887.5" y="261.3" width="2.9" height="5.3" fill="#fbfbfd" stroke="#141414" stroke-width="1.05"/>
<line x1="893.1" y1="251.3" x2="893.1" y2="268.2" stroke="#d8261a" stroke-width="1.1"/>
<rect x="891.2" y="263.7" width="3.9" height="3.9" fill="#d8261a"/>
<line x1="897.3" y1="267.9" x2="897.3" y2="268.7" stroke="#d8261a" stroke-width="1.1"/>
<line x1="897.3" y1="273.8" x2="897.3" y2="280.6" stroke="#d8261a" stroke-width="1.1"/>
<rect x="895.8" y="269.2" width="2.9" height="4.1" fill="#fbfbfd" stroke="#d8261a" stroke-width="1.05"/>
<line x1="901.5" y1="258.6" x2="901.5" y2="278.9" stroke="#d8261a" stroke-width="1.1"/>
<rect x="899.5" y="265.4" width="3.9" height="9.0" fill="#d8261a"/>
<line x1="905.7" y1="260.8" x2="905.7" y2="284.5" stroke="#d8261a" stroke-width="1.1"/>
<rect x="903.7" y="267.1" width="3.9" height="12.4" fill="#d8261a"/>
<line x1="909.8" y1="271.3" x2="909.8" y2="282.8" stroke="#d8261a" stroke-width="1.1"/>
<rect x="907.9" y="275.5" width="3.9" height="5.6" fill="#d8261a"/>
<line x1="914.0" y1="273.0" x2="914.0" y2="274.3" stroke="#141414" stroke-width="1.1"/>
<line x1="914.0" y1="286.5" x2="914.0" y2="286.9" stroke="#141414" stroke-width="1.1"/>
<rect x="912.6" y="274.8" width="2.9" height="11.2" fill="#fbfbfd" stroke="#141414" stroke-width="1.05"/>
<line x1="918.2" y1="264.2" x2="918.2" y2="276.4" stroke="#d8261a" stroke-width="1.1"/>
<rect x="916.2" y="272.6" width="3.9" height="2.9" fill="#d8261a"/>
<line x1="922.4" y1="277.2" x2="922.4" y2="292.5" stroke="#d8261a" stroke-width="1.1"/>
<rect x="920.4" y="277.7" width="3.9" height="10.2" fill="#d8261a"/>
<line x1="926.5" y1="288.2" x2="926.5" y2="315.3" stroke="#d8261a" stroke-width="1.1"/>
<rect x="924.6" y="291.6" width="3.9" height="10.2" fill="#d8261a"/>
<line x1="930.7" y1="291.6" x2="930.7" y2="292.5" stroke="#141414" stroke-width="1.1"/>
<line x1="930.7" y1="296.4" x2="930.7" y2="304.3" stroke="#141414" stroke-width="1.1"/>
<rect x="929.3" y="293.0" width="2.9" height="2.9" fill="#fbfbfd" stroke="#141414" stroke-width="1.05"/>
<line x1="934.9" y1="284.8" x2="934.9" y2="286.9" stroke="#141414" stroke-width="1.1"/>
<line x1="934.9" y1="297.0" x2="934.9" y2="301.8" stroke="#141414" stroke-width="1.1"/>
<rect x="933.4" y="287.4" width="2.9" height="9.2" fill="#fbfbfd" stroke="#141414" stroke-width="1.05"/>
<line x1="939.1" y1="276.7" x2="939.1" y2="277.7" stroke="#141414" stroke-width="1.1"/>
<line x1="939.1" y1="284.5" x2="939.1" y2="291.3" stroke="#141414" stroke-width="1.1"/>
<rect x="937.6" y="278.2" width="2.9" height="5.8" fill="#fbfbfd" stroke="#141414" stroke-width="1.05"/>
<line x1="943.2" y1="259.4" x2="943.2" y2="260.3" stroke="#141414" stroke-width="1.1"/>
<line x1="943.2" y1="276.4" x2="943.2" y2="276.7" stroke="#141414" stroke-width="1.1"/>
<rect x="941.8" y="260.8" width="2.9" height="15.1" fill="#fbfbfd" stroke="#141414" stroke-width="1.05"/>
<line x1="947.4" y1="254.0" x2="947.4" y2="268.7" stroke="#d8261a" stroke-width="1.1"/>
<rect x="945.5" y="259.8" width="3.9" height="4.7" fill="#d8261a"/>
<line x1="951.6" y1="249.3" x2="951.6" y2="250.1" stroke="#141414" stroke-width="1.1"/>
<line x1="951.6" y1="265.4" x2="951.6" y2="266.2" stroke="#141414" stroke-width="1.1"/>
<rect x="950.2" y="250.6" width="2.9" height="14.2" fill="#fbfbfd" stroke="#141414" stroke-width="1.05"/>
<line x1="955.8" y1="247.2" x2="955.8" y2="262.8" stroke="#141414" stroke-width="1.1"/>
<rect x="953.8" y="248.9" width="3.9" height="1.7" fill="#141414"/>
<line x1="960.0" y1="244.5" x2="960.0" y2="257.7" stroke="#d8261a" stroke-width="1.1"/>
<rect x="958.0" y="245.5" width="3.9" height="5.4" fill="#d8261a"/>
<line x1="964.1" y1="247.6" x2="964.1" y2="270.9" stroke="#d8261a" stroke-width="1.1"/>
<rect x="962.2" y="255.2" width="3.9" height="11.9" fill="#d8261a"/>
<line x1="968.3" y1="264.5" x2="968.3" y2="273.8" stroke="#d8261a" stroke-width="1.1"/>
<rect x="966.4" y="267.1" width="3.9" height="2.9" fill="#d8261a"/>
<line x1="972.5" y1="260.3" x2="972.5" y2="265.4" stroke="#141414" stroke-width="1.1"/>
<line x1="972.5" y1="271.3" x2="972.5" y2="278.1" stroke="#141414" stroke-width="1.1"/>
<rect x="971.0" y="265.9" width="2.9" height="4.9" fill="#fbfbfd" stroke="#141414" stroke-width="1.05"/>
<line x1="976.7" y1="264.5" x2="976.7" y2="277.2" stroke="#d8261a" stroke-width="1.1"/>
<rect x="974.7" y="268.7" width="3.9" height="2.2" fill="#d8261a"/>
<line x1="980.8" y1="253.5" x2="980.8" y2="255.2" stroke="#141414" stroke-width="1.1"/>
<line x1="980.8" y1="269.6" x2="980.8" y2="269.9" stroke="#141414" stroke-width="1.1"/>
<rect x="979.4" y="255.7" width="2.9" height="13.4" fill="#fbfbfd" stroke="#141414" stroke-width="1.05"/>
<line x1="985.0" y1="240.0" x2="985.0" y2="240.8" stroke="#141414" stroke-width="1.1"/>
<line x1="985.0" y1="247.6" x2="985.0" y2="256.9" stroke="#141414" stroke-width="1.1"/>
<rect x="983.6" y="241.3" width="2.9" height="5.8" fill="#fbfbfd" stroke="#141414" stroke-width="1.05"/>
<line x1="989.2" y1="231.5" x2="989.2" y2="259.4" stroke="#d8261a" stroke-width="1.1"/>
<rect x="987.2" y="240.0" width="3.9" height="17.8" fill="#d8261a"/>
<line x1="993.4" y1="242.5" x2="993.4" y2="258.6" stroke="#141414" stroke-width="1.1"/>
<rect x="991.4" y="252.3" width="3.9" height="2.4" fill="#141414"/>
<line x1="997.5" y1="215.4" x2="997.5" y2="220.1" stroke="#141414" stroke-width="1.1"/>
<line x1="997.5" y1="250.6" x2="997.5" y2="254.4" stroke="#141414" stroke-width="1.1"/>
<rect x="996.1" y="220.6" width="2.9" height="29.5" fill="#fbfbfd" stroke="#141414" stroke-width="1.05"/>
<line x1="1001.7" y1="192.5" x2="1001.7" y2="201.0" stroke="#141414" stroke-width="1.1"/>
<line x1="1001.7" y1="213.7" x2="1001.7" y2="217.4" stroke="#141414" stroke-width="1.1"/>
<rect x="1000.3" y="201.5" width="2.9" height="11.7" fill="#fbfbfd" stroke="#141414" stroke-width="1.05"/>
<line x1="1005.9" y1="195.9" x2="1005.9" y2="225.2" stroke="#d8261a" stroke-width="1.1"/>
<rect x="1004.0" y="200.5" width="3.9" height="21.7" fill="#d8261a"/>
<line x1="1010.1" y1="198.5" x2="1010.1" y2="203.5" stroke="#141414" stroke-width="1.1"/>
<line x1="1010.1" y1="222.2" x2="1010.1" y2="223.9" stroke="#141414" stroke-width="1.1"/>
<rect x="1008.6" y="204.0" width="2.9" height="17.6" fill="#fbfbfd" stroke="#141414" stroke-width="1.05"/>
<line x1="1014.3" y1="188.9" x2="1014.3" y2="191.6" stroke="#141414" stroke-width="1.1"/>
<line x1="1014.3" y1="203.6" x2="1014.3" y2="209.2" stroke="#141414" stroke-width="1.1"/>
<rect x="1012.8" y="192.1" width="2.9" height="11.0" fill="#fbfbfd" stroke="#141414" stroke-width="1.05"/>
<line x1="1018.4" y1="190.8" x2="1018.4" y2="206.5" stroke="#d8261a" stroke-width="1.1"/>
<rect x="1016.5" y="191.6" width="3.9" height="10.7" fill="#d8261a"/>
<line x1="1022.6" y1="188.9" x2="1022.6" y2="191.6" stroke="#141414" stroke-width="1.1"/>
<line x1="1022.6" y1="197.2" x2="1022.6" y2="199.6" stroke="#141414" stroke-width="1.1"/>
<rect x="1021.2" y="192.1" width="2.9" height="4.6" fill="#fbfbfd" stroke="#141414" stroke-width="1.05"/>
<line x1="1026.8" y1="185.2" x2="1026.8" y2="201.7" stroke="#d8261a" stroke-width="1.1"/>
<rect x="1024.8" y="191.6" width="3.9" height="3.2" fill="#d8261a"/>
<line x1="1031.0" y1="188.9" x2="1031.0" y2="196.9" stroke="#141414" stroke-width="1.1"/>
<rect x="1029.0" y="192.7" width="3.9" height="1.3" fill="#141414"/>
<line x1="1035.1" y1="191.6" x2="1035.1" y2="202.0" stroke="#141414" stroke-width="1.1"/>
<rect x="1033.2" y="191.6" width="3.9" height="1.2" fill="#141414"/>
<line x1="1039.3" y1="190.0" x2="1039.3" y2="224.5" stroke="#d8261a" stroke-width="1.1"/>
<rect x="1037.4" y="190.8" width="3.9" height="24.0" fill="#d8261a"/>
<line x1="1043.5" y1="206.5" x2="1043.5" y2="220.0" stroke="#d8261a" stroke-width="1.1"/>
<rect x="1041.5" y="215.6" width="3.9" height="2.4" fill="#d8261a"/>
<line x1="1047.7" y1="208.1" x2="1047.7" y2="233.3" stroke="#d8261a" stroke-width="1.1"/>
<rect x="1045.7" y="215.6" width="3.9" height="9.6" fill="#d8261a"/>
<line x1="1051.8" y1="206.8" x2="1051.8" y2="226.1" stroke="#141414" stroke-width="1.1"/>
<rect x="1049.9" y="211.6" width="3.9" height="9.6" fill="#141414"/>
<line x1="1056.0" y1="229.3" x2="1056.0" y2="255.7" stroke="#d8261a" stroke-width="1.1"/>
<rect x="1054.1" y="230.1" width="3.9" height="15.2" fill="#d8261a"/>
<line x1="1060.2" y1="237.3" x2="1060.2" y2="277.3" stroke="#d8261a" stroke-width="1.1"/>
<rect x="1058.3" y="238.1" width="3.9" height="28.8" fill="#d8261a"/>
<line x1="1064.4" y1="260.5" x2="1064.4" y2="270.1" stroke="#d8261a" stroke-width="1.1"/>
<line x1="1064.4" y1="279.7" x2="1064.4" y2="284.5" stroke="#d8261a" stroke-width="1.1"/>
<rect x="1062.9" y="270.6" width="2.9" height="8.6" fill="#fbfbfd" stroke="#d8261a" stroke-width="1.05"/>
<line x1="1068.6" y1="259.7" x2="1068.6" y2="273.3" stroke="#d8261a" stroke-width="1.1"/>
<rect x="1066.6" y="260.5" width="3.9" height="12.0" fill="#d8261a"/>
<line x1="1072.7" y1="240.1" x2="1072.7" y2="253.0" stroke="#141414" stroke-width="1.1"/>
<line x1="1072.7" y1="265.3" x2="1072.7" y2="267.7" stroke="#141414" stroke-width="1.1"/>
<rect x="1071.3" y="253.5" width="2.9" height="11.3" fill="#fbfbfd" stroke="#141414" stroke-width="1.05"/>
<line x1="1076.9" y1="257.8" x2="1076.9" y2="282.9" stroke="#d8261a" stroke-width="1.1"/>
<rect x="1075.0" y="268.5" width="3.9" height="13.6" fill="#d8261a"/>
<line x1="1081.1" y1="265.3" x2="1081.1" y2="301.3" stroke="#d8261a" stroke-width="1.1"/>
<rect x="1079.1" y="269.3" width="3.9" height="16.0" fill="#d8261a"/>
<line x1="1085.3" y1="268.5" x2="1085.3" y2="272.5" stroke="#141414" stroke-width="1.1"/>
<line x1="1085.3" y1="283.4" x2="1085.3" y2="283.7" stroke="#141414" stroke-width="1.1"/>
<rect x="1083.8" y="273.0" width="2.9" height="9.9" fill="#fbfbfd" stroke="#141414" stroke-width="1.05"/>
<line x1="1089.4" y1="261.3" x2="1089.4" y2="273.3" stroke="#141414" stroke-width="1.1"/>
<rect x="1087.5" y="265.8" width="3.9" height="2.2" fill="#141414"/>
<line x1="1093.6" y1="256.5" x2="1093.6" y2="288.5" stroke="#d8261a" stroke-width="1.1"/>
<rect x="1091.7" y="261.3" width="3.9" height="15.2" fill="#d8261a"/>
<line x1="1097.8" y1="246.1" x2="1097.8" y2="250.9" stroke="#141414" stroke-width="1.1"/>
<line x1="1097.8" y1="259.7" x2="1097.8" y2="262.9" stroke="#141414" stroke-width="1.1"/>
<rect x="1096.3" y="251.4" width="2.9" height="7.8" fill="#fbfbfd" stroke="#141414" stroke-width="1.05"/>
<line x1="1102.0" y1="234.1" x2="1102.0" y2="276.0" stroke="#d8261a" stroke-width="1.1"/>
<rect x="1100.0" y="239.7" width="3.9" height="25.6" fill="#d8261a"/>
<line x1="1106.2" y1="340.8" x2="1106.2" y2="345.3" stroke="#d8261a" stroke-width="1.1"/>
<line x1="1106.2" y1="353.9" x2="1106.2" y2="384.7" stroke="#d8261a" stroke-width="1.1"/>
<rect x="1104.7" y="345.8" width="2.9" height="7.6" fill="#fbfbfd" stroke="#d8261a" stroke-width="1.05"/>
<line x1="1110.3" y1="371.3" x2="1110.3" y2="382.5" stroke="#d8261a" stroke-width="1.1"/>
<line x1="1110.3" y1="420.4" x2="1110.3" y2="436.1" stroke="#d8261a" stroke-width="1.1"/>
<rect x="1108.9" y="383.0" width="2.9" height="36.9" fill="#fbfbfd" stroke="#d8261a" stroke-width="1.05"/>
<line x1="1114.5" y1="360.5" x2="1114.5" y2="396.6" stroke="#141414" stroke-width="1.1"/>
<rect x="1112.6" y="377.3" width="3.9" height="1.5" fill="#141414"/>
</g>
<g clip-path="url(#cp3)">
<rect x="60.3" y="759.3" width="3.3" height="2.5" fill="#94b9ab" stroke="#4d7d6d" stroke-width="1"/>
<rect x="64.5" y="753.3" width="3.3" height="8.5" fill="#94b9ab" stroke="#4d7d6d" stroke-width="1"/>
<rect x="68.7" y="750.9" width="3.3" height="10.9" fill="#94b9ab" stroke="#4d7d6d" stroke-width="1"/>
<rect x="72.8" y="751.9" width="3.3" height="9.9" fill="#94b9ab" stroke="#4d7d6d" stroke-width="1"/>
<rect x="77.0" y="753.4" width="3.3" height="8.4" fill="#94b9ab" stroke="#4d7d6d" stroke-width="1"/>
<rect x="81.2" y="754.1" width="3.3" height="7.7" fill="#94b9ab" stroke="#4d7d6d" stroke-width="1"/>
<rect x="85.4" y="754.2" width="3.3" height="7.6" fill="#94b9ab" stroke="#4d7d6d" stroke-width="1"/>
<rect x="89.6" y="757.8" width="3.3" height="4.0" fill="#94b9ab" stroke="#4d7d6d" stroke-width="1"/>
<line x1="93.2" y1="761.8" x2="97.4" y2="761.8" stroke="#5f8f80" stroke-width="1"/>
<rect x="97.9" y="761.8" width="3.3" height="4.8" fill="#94b9ab" stroke="#4d7d6d" stroke-width="1"/>
<rect x="102.1" y="761.8" width="3.3" height="7.5" fill="#94b9ab" stroke="#4d7d6d" stroke-width="1"/>
<rect x="106.3" y="761.8" width="3.3" height="8.6" fill="#94b9ab" stroke="#4d7d6d" stroke-width="1"/>
<rect x="110.4" y="761.8" width="3.3" height="8.8" fill="#94b9ab" stroke="#4d7d6d" stroke-width="1"/>
<rect x="114.6" y="761.8" width="3.3" height="9.5" fill="#94b9ab" stroke="#4d7d6d" stroke-width="1"/>
<rect x="118.8" y="761.8" width="3.3" height="10.7" fill="#94b9ab" stroke="#4d7d6d" stroke-width="1"/>
<rect x="123.0" y="761.8" width="3.3" height="10.8" fill="#94b9ab" stroke="#4d7d6d" stroke-width="1"/>
<rect x="127.1" y="761.8" width="3.3" height="10.2" fill="#94b9ab" stroke="#4d7d6d" stroke-width="1"/>
<rect x="131.3" y="761.8" width="3.3" height="8.0" fill="#94b9ab" stroke="#4d7d6d" stroke-width="1"/>
<rect x="135.5" y="761.8" width="3.3" height="5.0" fill="#94b9ab" stroke="#4d7d6d" stroke-width="1"/>
<rect x="139.7" y="761.8" width="3.3" height="2.1" fill="#94b9ab" stroke="#4d7d6d" stroke-width="1"/>
<line x1="143.4" y1="761.8" x2="147.5" y2="761.8" stroke="#5f8f80" stroke-width="1"/>
<rect x="148.0" y="761.1" width="3.3" height="0.7" fill="#94b9ab" stroke="#4d7d6d" stroke-width="1"/>
<line x1="151.7" y1="761.8" x2="155.9" y2="761.8" stroke="#5f8f80" stroke-width="1"/>
<line x1="155.9" y1="761.8" x2="160.1" y2="761.8" stroke="#5f8f80" stroke-width="1"/>
<rect x="160.6" y="760.7" width="3.3" height="1.1" fill="#94b9ab" stroke="#4d7d6d" stroke-width="1"/>
<rect x="164.7" y="756.6" width="3.3" height="5.2" fill="#94b9ab" stroke="#4d7d6d" stroke-width="1"/>
<rect x="168.9" y="754.2" width="3.3" height="7.6" fill="#94b9ab" stroke="#4d7d6d" stroke-width="1"/>
<rect x="173.1" y="752.2" width="3.3" height="9.6" fill="#94b9ab" stroke="#4d7d6d" stroke-width="1"/>
<rect x="177.3" y="750.8" width="3.3" height="11.0" fill="#94b9ab" stroke="#4d7d6d" stroke-width="1"/>
<rect x="181.4" y="753.7" width="3.3" height="8.1" fill="#94b9ab" stroke="#4d7d6d" stroke-width="1"/>
<rect x="185.6" y="757.2" width="3.3" height="4.6" fill="#94b9ab" stroke="#4d7d6d" stroke-width="1"/>
<rect x="189.8" y="761.8" width="3.3" height="1.0" fill="#94b9ab" stroke="#4d7d6d" stroke-width="1"/>
<rect x="194.0" y="761.8" width="3.3" height="7.2" fill="#94b9ab" stroke="#4d7d6d" stroke-width="1"/>
<rect x="198.2" y="761.8" width="3.3" height="12.7" fill="#94b9ab" stroke="#4d7d6d" stroke-width="1"/>
<rect x="202.3" y="761.8" width="3.3" height="16.8" fill="#94b9ab" stroke="#4d7d6d" stroke-width="1"/>
<rect x="206.5" y="761.8" width="3.3" height="19.2" fill="#94b9ab" stroke="#4d7d6d" stroke-width="1"/>
<rect x="210.7" y="761.8" width="3.3" height="20.5" fill="#94b9ab" stroke="#4d7d6d" stroke-width="1"/>
<rect x="214.9" y="761.8" width="3.3" height="20.9" fill="#94b9ab" stroke="#4d7d6d" stroke-width="1"/>
<rect x="219.0" y="761.8" width="3.3" height="20.8" fill="#94b9ab" stroke="#4d7d6d" stroke-width="1"/>
<rect x="223.2" y="761.8" width="3.3" height="18.3" fill="#94b9ab" stroke="#4d7d6d" stroke-width="1"/>
<rect x="227.4" y="761.8" width="3.3" height="14.6" fill="#94b9ab" stroke="#4d7d6d" stroke-width="1"/>
<rect x="231.6" y="761.8" width="3.3" height="14.4" fill="#94b9ab" stroke="#4d7d6d" stroke-width="1"/>
<rect x="235.7" y="761.8" width="3.3" height="12.2" fill="#94b9ab" stroke="#4d7d6d" stroke-width="1"/>
<rect x="239.9" y="761.8" width="3.3" height="9.8" fill="#94b9ab" stroke="#4d7d6d" stroke-width="1"/>
<rect x="244.1" y="761.8" width="3.3" height="6.8" fill="#94b9ab" stroke="#4d7d6d" stroke-width="1"/>
<rect x="248.3" y="761.8" width="3.3" height="3.8" fill="#94b9ab" stroke="#4d7d6d" stroke-width="1"/>
<line x1="252.0" y1="761.8" x2="256.1" y2="761.8" stroke="#5f8f80" stroke-width="1"/>
<rect x="256.6" y="758.0" width="3.3" height="3.8" fill="#94b9ab" stroke="#4d7d6d" stroke-width="1"/>
<rect x="260.8" y="754.7" width="3.3" height="7.1" fill="#94b9ab" stroke="#4d7d6d" stroke-width="1"/>
<rect x="265.0" y="753.6" width="3.3" height="8.2" fill="#94b9ab" stroke="#4d7d6d" stroke-width="1"/>
<rect x="269.2" y="752.5" width="3.3" height="9.3" fill="#94b9ab" stroke="#4d7d6d" stroke-width="1"/>
<rect x="273.3" y="752.4" width="3.3" height="9.4" fill="#94b9ab" stroke="#4d7d6d" stroke-width="1"/>
<rect x="277.5" y="754.7" width="3.3" height="7.1" fill="#94b9ab" stroke="#4d7d6d" stroke-width="1"/>
<rect x="281.7" y="757.7" width="3.3" height="4.1" fill="#94b9ab" stroke="#4d7d6d" stroke-width="1"/>
<rect x="285.9" y="760.8" width="3.3" height="1.0" fill="#94b9ab" stroke="#4d7d6d" stroke-width="1"/>
<rect x="290.0" y="761.8" width="3.3" height="0.8" fill="#94b9ab" stroke="#4d7d6d" stroke-width="1"/>
<line x1="293.7" y1="761.8" x2="297.9" y2="761.8" stroke="#5f8f80" stroke-width="1"/>
<rect x="298.4" y="761.8" width="3.3" height="4.9" fill="#94b9ab" stroke="#4d7d6d" stroke-width="1"/>
<rect x="302.6" y="761.8" width="3.3" height="10.1" fill="#94b9ab" stroke="#4d7d6d" stroke-width="1"/>
<rect x="306.8" y="761.8" width="3.3" height="5.4" fill="#94b9ab" stroke="#4d7d6d" stroke-width="1"/>
<rect x="310.9" y="759.8" width="3.3" height="2.0" fill="#94b9ab" stroke="#4d7d6d" stroke-width="1"/>
<rect x="315.1" y="753.1" width="3.3" height="8.7" fill="#94b9ab" stroke="#4d7d6d" stroke-width="1"/>
<rect x="319.3" y="747.4" width="3.3" height="14.4" fill="#94b9ab" stroke="#4d7d6d" stroke-width="1"/>
<rect x="323.5" y="743.6" width="3.3" height="18.2" fill="#94b9ab" stroke="#4d7d6d" stroke-width="1"/>
<rect x="327.6" y="740.3" width="3.3" height="21.5" fill="#94b9ab" stroke="#4d7d6d" stroke-width="1"/>
<rect x="331.8" y="736.9" width="3.3" height="24.9" fill="#94b9ab" stroke="#4d7d6d" stroke-width="1"/>
<rect x="336.0" y="735.1" width="3.3" height="26.7" fill="#94b9ab" stroke="#4d7d6d" stroke-width="1"/>
<rect x="340.2" y="738.1" width="3.3" height="23.7" fill="#94b9ab" stroke="#4d7d6d" stroke-width="1"/>
<rect x="344.3" y="739.1" width="3.3" height="22.7" fill="#94b9ab" stroke="#4d7d6d" stroke-width="1"/>
<rect x="348.5" y="739.5" width="3.3" height="22.3" fill="#94b9ab" stroke="#4d7d6d" stroke-width="1"/>
<rect x="352.7" y="741.1" width="3.3" height="20.7" fill="#94b9ab" stroke="#4d7d6d" stroke-width="1"/>
<rect x="356.9" y="743.2" width="3.3" height="18.6" fill="#94b9ab" stroke="#4d7d6d" stroke-width="1"/>
<rect x="361.1" y="747.0" width="3.3" height="14.8" fill="#94b9ab" stroke="#4d7d6d" stroke-width="1"/>
<rect x="365.2" y="750.2" width="3.3" height="11.6" fill="#94b9ab" stroke="#4d7d6d" stroke-width="1"/>
<rect x="369.4" y="751.7" width="3.3" height="10.1" fill="#94b9ab" stroke="#4d7d6d" stroke-width="1"/>
<rect x="373.6" y="751.7" width="3.3" height="10.1" fill="#94b9ab" stroke="#4d7d6d" stroke-width="1"/>
<rect x="377.8" y="754.5" width="3.3" height="7.3" fill="#94b9ab" stroke="#4d7d6d" stroke-width="1"/>
<rect x="381.9" y="755.4" width="3.3" height="6.4" fill="#94b9ab" stroke="#4d7d6d" stroke-width="1"/>
<rect x="386.1" y="755.9" width="3.3" height="5.9" fill="#94b9ab" stroke="#4d7d6d" stroke-width="1"/>
<rect x="390.3" y="756.8" width="3.3" height="5.0" fill="#94b9ab" stroke="#4d7d6d" stroke-width="1"/>
<rect x="394.5" y="759.3" width="3.3" height="2.5" fill="#94b9ab" stroke="#4d7d6d" stroke-width="1"/>
<rect x="398.6" y="761.8" width="3.3" height="0.9" fill="#94b9ab" stroke="#4d7d6d" stroke-width="1"/>
<rect x="402.8" y="761.8" width="3.3" height="3.2" fill="#94b9ab" stroke="#4d7d6d" stroke-width="1"/>
<rect x="407.0" y="761.8" width="3.3" height="4.5" fill="#94b9ab" stroke="#4d7d6d" stroke-width="1"/>
<rect x="411.2" y="761.8" width="3.3" height="5.1" fill="#94b9ab" stroke="#4d7d6d" stroke-width="1"/>
<rect x="415.4" y="761.8" width="3.3" height="5.9" fill="#94b9ab" stroke="#4d7d6d" stroke-width="1"/>
<rect x="419.5" y="761.8" width="3.3" height="7.4" fill="#94b9ab" stroke="#4d7d6d" stroke-width="1"/>
<rect x="423.7" y="761.8" width="3.3" height="6.5" fill="#94b9ab" stroke="#4d7d6d" stroke-width="1"/>
<rect x="427.9" y="761.8" width="3.3" height="6.5" fill="#94b9ab" stroke="#4d7d6d" stroke-width="1"/>
<rect x="432.1" y="761.8" width="3.3" height="6.9" fill="#94b9ab" stroke="#4d7d6d" stroke-width="1"/>
<rect x="436.2" y="761.8" width="3.3" height="5.8" fill="#94b9ab" stroke="#4d7d6d" stroke-width="1"/>
<rect x="440.4" y="761.8" width="3.3" height="5.1" fill="#94b9ab" stroke="#4d7d6d" stroke-width="1"/>
<rect x="444.6" y="761.8" width="3.3" height="4.1" fill="#94b9ab" stroke="#4d7d6d" stroke-width="1"/>
<rect x="448.8" y="761.8" width="3.3" height="2.2" fill="#94b9ab" stroke="#4d7d6d" stroke-width="1"/>
<rect x="452.9" y="760.0" width="3.3" height="1.8" fill="#94b9ab" stroke="#4d7d6d" stroke-width="1"/>
<rect x="457.1" y="758.2" width="3.3" height="3.6" fill="#94b9ab" stroke="#4d7d6d" stroke-width="1"/>
<rect x="461.3" y="757.5" width="3.3" height="4.3" fill="#94b9ab" stroke="#4d7d6d" stroke-width="1"/>
<rect x="465.5" y="757.3" width="3.3" height="4.5" fill="#94b9ab" stroke="#4d7d6d" stroke-width="1"/>
<rect x="469.7" y="757.6" width="3.3" height="4.2" fill="#94b9ab" stroke="#4d7d6d" stroke-width="1"/>
<rect x="473.8" y="758.5" width="3.3" height="3.3" fill="#94b9ab" stroke="#4d7d6d" stroke-width="1"/>
<rect x="478.0" y="759.7" width="3.3" height="2.1" fill="#94b9ab" stroke="#4d7d6d" stroke-width="1"/>
<rect x="482.2" y="761.2" width="3.3" height="0.6" fill="#94b9ab" stroke="#4d7d6d" stroke-width="1"/>
<rect x="486.4" y="761.8" width="3.3" height="1.5" fill="#94b9ab" stroke="#4d7d6d" stroke-width="1"/>
<rect x="490.5" y="761.8" width="3.3" height="4.1" fill="#94b9ab" stroke="#4d7d6d" stroke-width="1"/>
<rect x="494.7" y="761.8" width="3.3" height="7.4" fill="#94b9ab" stroke="#4d7d6d" stroke-width="1"/>
<rect x="498.9" y="761.8" width="3.3" height="12.3" fill="#94b9ab" stroke="#4d7d6d" stroke-width="1"/>
<rect x="503.1" y="761.8" width="3.3" height="15.4" fill="#94b9ab" stroke="#4d7d6d" stroke-width="1"/>
<rect x="507.3" y="761.8" width="3.3" height="14.2" fill="#94b9ab" stroke="#4d7d6d" stroke-width="1"/>
<rect x="511.4" y="761.8" width="3.3" height="10.5" fill="#94b9ab" stroke="#4d7d6d" stroke-width="1"/>
<rect x="515.6" y="761.8" width="3.3" height="5.9" fill="#94b9ab" stroke="#4d7d6d" stroke-width="1"/>
<rect x="519.8" y="761.8" width="3.3" height="1.2" fill="#94b9ab" stroke="#4d7d6d" stroke-width="1"/>
<rect x="524.0" y="760.5" width="3.3" height="1.3" fill="#94b9ab" stroke="#4d7d6d" stroke-width="1"/>
<rect x="528.1" y="760.2" width="3.3" height="1.6" fill="#94b9ab" stroke="#4d7d6d" stroke-width="1"/>
<line x1="531.8" y1="761.8" x2="536.0" y2="761.8" stroke="#5f8f80" stroke-width="1"/>
<rect x="536.5" y="761.8" width="3.3" height="0.6" fill="#94b9ab" stroke="#4d7d6d" stroke-width="1"/>
<line x1="540.2" y1="761.8" x2="544.3" y2="761.8" stroke="#5f8f80" stroke-width="1"/>
<rect x="544.8" y="760.6" width="3.3" height="1.2" fill="#94b9ab" stroke="#4d7d6d" stroke-width="1"/>
<rect x="549.0" y="759.2" width="3.3" height="2.6" fill="#94b9ab" stroke="#4d7d6d" stroke-width="1"/>
<rect x="553.2" y="758.1" width="3.3" height="3.7" fill="#94b9ab" stroke="#4d7d6d" stroke-width="1"/>
<rect x="557.4" y="756.6" width="3.3" height="5.2" fill="#94b9ab" stroke="#4d7d6d" stroke-width="1"/>
<rect x="561.6" y="755.5" width="3.3" height="6.3" fill="#94b9ab" stroke="#4d7d6d" stroke-width="1"/>
<rect x="565.7" y="752.9" width="3.3" height="8.9" fill="#94b9ab" stroke="#4d7d6d" stroke-width="1"/>
<rect x="569.9" y="754.4" width="3.3" height="7.4" fill="#94b9ab" stroke="#4d7d6d" stroke-width="1"/>
<rect x="574.1" y="758.7" width="3.3" height="3.1" fill="#94b9ab" stroke="#4d7d6d" stroke-width="1"/>
<rect x="578.3" y="759.9" width="3.3" height="1.9" fill="#94b9ab" stroke="#4d7d6d" stroke-width="1"/>
<rect x="582.4" y="751.3" width="3.3" height="10.5" fill="#94b9ab" stroke="#4d7d6d" stroke-width="1"/>
<rect x="586.6" y="747.1" width="3.3" height="14.7" fill="#94b9ab" stroke="#4d7d6d" stroke-width="1"/>
<rect x="590.8" y="745.2" width="3.3" height="16.6" fill="#94b9ab" stroke="#4d7d6d" stroke-width="1"/>
<rect x="595.0" y="745.1" width="3.3" height="16.7" fill="#94b9ab" stroke="#4d7d6d" stroke-width="1"/>
<rect x="599.1" y="745.4" width="3.3" height="16.4" fill="#94b9ab" stroke="#4d7d6d" stroke-width="1"/>
<rect x="603.3" y="745.2" width="3.3" height="16.6" fill="#94b9ab" stroke="#4d7d6d" stroke-width="1"/>
<rect x="607.5" y="746.7" width="3.3" height="15.1" fill="#94b9ab" stroke="#4d7d6d" stroke-width="1"/>
<rect x="611.7" y="753.5" width="3.3" height="8.3" fill="#94b9ab" stroke="#4d7d6d" stroke-width="1"/>
<rect x="615.9" y="755.7" width="3.3" height="6.1" fill="#94b9ab" stroke="#4d7d6d" stroke-width="1"/>
<rect x="620.0" y="758.0" width="3.3" height="3.8" fill="#94b9ab" stroke="#4d7d6d" stroke-width="1"/>
<line x1="623.7" y1="761.8" x2="627.9" y2="761.8" stroke="#5f8f80" stroke-width="1"/>
<rect x="628.4" y="761.8" width="3.3" height="4.0" fill="#94b9ab" stroke="#4d7d6d" stroke-width="1"/>
<rect x="632.6" y="761.8" width="3.3" height="6.0" fill="#94b9ab" stroke="#4d7d6d" stroke-width="1"/>
<rect x="636.7" y="761.8" width="3.3" height="3.1" fill="#94b9ab" stroke="#4d7d6d" stroke-width="1"/>
<rect x="640.9" y="761.8" width="3.3" height="0.7" fill="#94b9ab" stroke="#4d7d6d" stroke-width="1"/>
<rect x="645.1" y="761.8" width="3.3" height="0.5" fill="#94b9ab" stroke="#4d7d6d" stroke-width="1"/>
<rect x="649.3" y="761.8" width="3.3" height="1.8" fill="#94b9ab" stroke="#4d7d6d" stroke-width="1"/>
<rect x="653.4" y="761.8" width="3.3" height="3.2" fill="#94b9ab" stroke="#4d7d6d" stroke-width="1"/>
<rect x="657.6" y="761.8" width="3.3" height="1.2" fill="#94b9ab" stroke="#4d7d6d" stroke-width="1"/>
<rect x="661.8" y="761.0" width="3.3" height="0.8" fill="#94b9ab" stroke="#4d7d6d" stroke-width="1"/>
<line x1="665.5" y1="761.8" x2="669.7" y2="761.8" stroke="#5f8f80" stroke-width="1"/>
<rect x="670.2" y="761.8" width="3.3" height="3.8" fill="#94b9ab" stroke="#4d7d6d" stroke-width="1"/>
<rect x="674.3" y="761.8" width="3.3" height="6.0" fill="#94b9ab" stroke="#4d7d6d" stroke-width="1"/>
<rect x="678.5" y="761.8" width="3.3" height="6.3" fill="#94b9ab" stroke="#4d7d6d" stroke-width="1"/>
<rect x="682.7" y="761.8" width="3.3" height="7.3" fill="#94b9ab" stroke="#4d7d6d" stroke-width="1"/>
<rect x="686.9" y="761.8" width="3.3" height="10.1" fill="#94b9ab" stroke="#4d7d6d" stroke-width="1"/>
<rect x="691.0" y="761.8" width="3.3" height="9.4" fill="#94b9ab" stroke="#4d7d6d" stroke-width="1"/>
<rect x="695.2" y="761.8" width="3.3" height="7.3" fill="#94b9ab" stroke="#4d7d6d" stroke-width="1"/>
<rect x="699.4" y="761.8" width="3.3" height="4.9" fill="#94b9ab" stroke="#4d7d6d" stroke-width="1"/>
<rect x="703.6" y="761.8" width="3.3" height="6.7" fill="#94b9ab" stroke="#4d7d6d" stroke-width="1"/>
<rect x="707.7" y="761.8" width="3.3" height="8.1" fill="#94b9ab" stroke="#4d7d6d" stroke-width="1"/>
<rect x="711.9" y="761.8" width="3.3" height="7.4" fill="#94b9ab" stroke="#4d7d6d" stroke-width="1"/>
<rect x="716.1" y="761.8" width="3.3" height="5.8" fill="#94b9ab" stroke="#4d7d6d" stroke-width="1"/>
<rect x="720.3" y="761.8" width="3.3" height="4.0" fill="#94b9ab" stroke="#4d7d6d" stroke-width="1"/>
<rect x="724.5" y="761.8" width="3.3" height="2.7" fill="#94b9ab" stroke="#4d7d6d" stroke-width="1"/>
<rect x="728.6" y="761.8" width="3.3" height="2.1" fill="#94b9ab" stroke="#4d7d6d" stroke-width="1"/>
<rect x="732.8" y="761.8" width="3.3" height="1.8" fill="#94b9ab" stroke="#4d7d6d" stroke-width="1"/>
<rect x="737.0" y="761.8" width="3.3" height="1.4" fill="#94b9ab" stroke="#4d7d6d" stroke-width="1"/>
<rect x="741.2" y="761.8" width="3.3" height="0.9" fill="#94b9ab" stroke="#4d7d6d" stroke-width="1"/>
<line x1="744.8" y1="761.8" x2="749.0" y2="761.8" stroke="#5f8f80" stroke-width="1"/>
<rect x="749.5" y="761.2" width="3.3" height="0.6" fill="#94b9ab" stroke="#4d7d6d" stroke-width="1"/>
<rect x="753.7" y="760.7" width="3.3" height="1.1" fill="#94b9ab" stroke="#4d7d6d" stroke-width="1"/>
<rect x="757.9" y="761.8" width="3.3" height="1.2" fill="#94b9ab" stroke="#4d7d6d" stroke-width="1"/>
<rect x="762.0" y="760.4" width="3.3" height="1.4" fill="#94b9ab" stroke="#4d7d6d" stroke-width="1"/>
<rect x="766.2" y="758.3" width="3.3" height="3.5" fill="#94b9ab" stroke="#4d7d6d" stroke-width="1"/>
<rect x="770.4" y="757.2" width="3.3" height="4.6" fill="#94b9ab" stroke="#4d7d6d" stroke-width="1"/>
<rect x="774.6" y="757.2" width="3.3" height="4.6" fill="#94b9ab" stroke="#4d7d6d" stroke-width="1"/>
<rect x="778.8" y="756.6" width="3.3" height="5.2" fill="#94b9ab" stroke="#4d7d6d" stroke-width="1"/>
<rect x="782.9" y="757.6" width="3.3" height="4.2" fill="#94b9ab" stroke="#4d7d6d" stroke-width="1"/>
<rect x="787.1" y="760.1" width="3.3" height="1.7" fill="#94b9ab" stroke="#4d7d6d" stroke-width="1"/>
<rect x="791.3" y="761.8" width="3.3" height="1.6" fill="#94b9ab" stroke="#4d7d6d" stroke-width="1"/>
<rect x="795.5" y="761.8" width="3.3" height="5.7" fill="#94b9ab" stroke="#4d7d6d" stroke-width="1"/>
<rect x="799.6" y="761.8" width="3.3" height="10.7" fill="#94b9ab" stroke="#4d7d6d" stroke-width="1"/>
<rect x="803.8" y="761.8" width="3.3" height="14.9" fill="#94b9ab" stroke="#4d7d6d" stroke-width="1"/>
<rect x="808.0" y="761.8" width="3.3" height="16.4" fill="#94b9ab" stroke="#4d7d6d" stroke-width="1"/>
<rect x="812.2" y="761.8" width="3.3" height="16.5" fill="#94b9ab" stroke="#4d7d6d" stroke-width="1"/>
<rect x="816.3" y="761.8" width="3.3" height="17.1" fill="#94b9ab" stroke="#4d7d6d" stroke-width="1"/>
<rect x="820.5" y="761.8" width="3.3" height="19.3" fill="#94b9ab" stroke="#4d7d6d" stroke-width="1"/>
<rect x="824.7" y="761.8" width="3.3" height="15.5" fill="#94b9ab" stroke="#4d7d6d" stroke-width="1"/>
<rect x="828.9" y="761.8" width="3.3" height="10.4" fill="#94b9ab" stroke="#4d7d6d" stroke-width="1"/>
<rect x="833.1" y="761.8" width="3.3" height="10.2" fill="#94b9ab" stroke="#4d7d6d" stroke-width="1"/>
<rect x="837.2" y="761.8" width="3.3" height="7.2" fill="#94b9ab" stroke="#4d7d6d" stroke-width="1"/>
<rect x="841.4" y="761.8" width="3.3" height="1.2" fill="#94b9ab" stroke="#4d7d6d" stroke-width="1"/>
<rect x="845.6" y="757.4" width="3.3" height="4.4" fill="#94b9ab" stroke="#4d7d6d" stroke-width="1"/>
<rect x="849.8" y="753.2" width="3.3" height="8.6" fill="#94b9ab" stroke="#4d7d6d" stroke-width="1"/>
<rect x="853.9" y="750.6" width="3.3" height="11.2" fill="#94b9ab" stroke="#4d7d6d" stroke-width="1"/>
<rect x="858.1" y="749.7" width="3.3" height="12.1" fill="#94b9ab" stroke="#4d7d6d" stroke-width="1"/>
<rect x="862.3" y="749.4" width="3.3" height="12.4" fill="#94b9ab" stroke="#4d7d6d" stroke-width="1"/>
<rect x="866.5" y="750.6" width="3.3" height="11.2" fill="#94b9ab" stroke="#4d7d6d" stroke-width="1"/>
<rect x="870.6" y="752.8" width="3.3" height="9.0" fill="#94b9ab" stroke="#4d7d6d" stroke-width="1"/>
<rect x="874.8" y="755.4" width="3.3" height="6.4" fill="#94b9ab" stroke="#4d7d6d" stroke-width="1"/>
<rect x="879.0" y="758.4" width="3.3" height="3.4" fill="#94b9ab" stroke="#4d7d6d" stroke-width="1"/>
<line x1="882.7" y1="761.8" x2="886.9" y2="761.8" stroke="#5f8f80" stroke-width="1"/>
<rect x="887.4" y="761.8" width="3.3" height="2.6" fill="#94b9ab" stroke="#4d7d6d" stroke-width="1"/>
<rect x="891.5" y="761.8" width="3.3" height="4.5" fill="#94b9ab" stroke="#4d7d6d" stroke-width="1"/>
<rect x="895.7" y="761.8" width="3.3" height="6.6" fill="#94b9ab" stroke="#4d7d6d" stroke-width="1"/>
<rect x="899.9" y="761.8" width="3.3" height="7.7" fill="#94b9ab" stroke="#4d7d6d" stroke-width="1"/>
<rect x="904.1" y="761.8" width="3.3" height="9.3" fill="#94b9ab" stroke="#4d7d6d" stroke-width="1"/>
<rect x="908.2" y="761.8" width="3.3" height="9.5" fill="#94b9ab" stroke="#4d7d6d" stroke-width="1"/>
<rect x="912.4" y="761.8" width="3.3" height="8.2" fill="#94b9ab" stroke="#4d7d6d" stroke-width="1"/>
<rect x="916.6" y="761.8" width="3.3" height="9.5" fill="#94b9ab" stroke="#4d7d6d" stroke-width="1"/>
<rect x="920.8" y="761.8" width="3.3" height="10.8" fill="#94b9ab" stroke="#4d7d6d" stroke-width="1"/>
<rect x="925.0" y="761.8" width="3.3" height="12.1" fill="#94b9ab" stroke="#4d7d6d" stroke-width="1"/>
<rect x="929.1" y="761.8" width="3.3" height="11.8" fill="#94b9ab" stroke="#4d7d6d" stroke-width="1"/>
<rect x="933.3" y="761.8" width="3.3" height="10.3" fill="#94b9ab" stroke="#4d7d6d" stroke-width="1"/>
<rect x="937.5" y="761.8" width="3.3" height="7.0" fill="#94b9ab" stroke="#4d7d6d" stroke-width="1"/>
<rect x="941.7" y="761.8" width="3.3" height="1.5" fill="#94b9ab" stroke="#4d7d6d" stroke-width="1"/>
<rect x="945.8" y="758.7" width="3.3" height="3.1" fill="#94b9ab" stroke="#4d7d6d" stroke-width="1"/>
<rect x="950.0" y="755.6" width="3.3" height="6.2" fill="#94b9ab" stroke="#4d7d6d" stroke-width="1"/>
<rect x="954.2" y="753.8" width="3.3" height="8.0" fill="#94b9ab" stroke="#4d7d6d" stroke-width="1"/>
<rect x="958.4" y="753.3" width="3.3" height="8.5" fill="#94b9ab" stroke="#4d7d6d" stroke-width="1"/>
<rect x="962.5" y="755.1" width="3.3" height="6.7" fill="#94b9ab" stroke="#4d7d6d" stroke-width="1"/>
<rect x="966.7" y="756.6" width="3.3" height="5.2" fill="#94b9ab" stroke="#4d7d6d" stroke-width="1"/>
<rect x="970.9" y="758.4" width="3.3" height="3.4" fill="#94b9ab" stroke="#4d7d6d" stroke-width="1"/>
<rect x="975.1" y="761.0" width="3.3" height="0.8" fill="#94b9ab" stroke="#4d7d6d" stroke-width="1"/>
<rect x="979.3" y="758.7" width="3.3" height="3.1" fill="#94b9ab" stroke="#4d7d6d" stroke-width="1"/>
<rect x="983.4" y="756.6" width="3.3" height="5.2" fill="#94b9ab" stroke="#4d7d6d" stroke-width="1"/>
<rect x="987.6" y="757.3" width="3.3" height="4.5" fill="#94b9ab" stroke="#4d7d6d" stroke-width="1"/>
<rect x="991.8" y="756.7" width="3.3" height="5.1" fill="#94b9ab" stroke="#4d7d6d" stroke-width="1"/>
<rect x="996.0" y="751.1" width="3.3" height="10.7" fill="#94b9ab" stroke="#4d7d6d" stroke-width="1"/>
<rect x="1000.1" y="746.6" width="3.3" height="15.2" fill="#94b9ab" stroke="#4d7d6d" stroke-width="1"/>
<rect x="1004.3" y="745.7" width="3.3" height="16.1" fill="#94b9ab" stroke="#4d7d6d" stroke-width="1"/>
<rect x="1008.5" y="743.8" width="3.3" height="18.0" fill="#94b9ab" stroke="#4d7d6d" stroke-width="1"/>
<rect x="1012.7" y="742.5" width="3.3" height="19.3" fill="#94b9ab" stroke="#4d7d6d" stroke-width="1"/>
<rect x="1016.8" y="745.2" width="3.3" height="16.6" fill="#94b9ab" stroke="#4d7d6d" stroke-width="1"/>
<rect x="1021.0" y="746.0" width="3.3" height="15.8" fill="#94b9ab" stroke="#4d7d6d" stroke-width="1"/>
<rect x="1025.2" y="747.2" width="3.3" height="14.6" fill="#94b9ab" stroke="#4d7d6d" stroke-width="1"/>
<rect x="1029.4" y="749.3" width="3.3" height="12.5" fill="#94b9ab" stroke="#4d7d6d" stroke-width="1"/>
<rect x="1033.6" y="752.3" width="3.3" height="9.5" fill="#94b9ab" stroke="#4d7d6d" stroke-width="1"/>
<rect x="1037.7" y="757.9" width="3.3" height="3.9" fill="#94b9ab" stroke="#4d7d6d" stroke-width="1"/>
<rect x="1041.9" y="761.8" width="3.3" height="1.4" fill="#94b9ab" stroke="#4d7d6d" stroke-width="1"/>
<rect x="1046.1" y="761.8" width="3.3" height="5.5" fill="#94b9ab" stroke="#4d7d6d" stroke-width="1"/>
<rect x="1050.3" y="761.8" width="3.3" height="10.4" fill="#94b9ab" stroke="#4d7d6d" stroke-width="1"/>
<rect x="1054.4" y="761.8" width="3.3" height="14.4" fill="#94b9ab" stroke="#4d7d6d" stroke-width="1"/>
<rect x="1058.6" y="761.8" width="3.3" height="19.3" fill="#94b9ab" stroke="#4d7d6d" stroke-width="1"/>
<rect x="1062.8" y="761.8" width="3.3" height="23.5" fill="#94b9ab" stroke="#4d7d6d" stroke-width="1"/>
<rect x="1067.0" y="761.8" width="3.3" height="26.8" fill="#94b9ab" stroke="#4d7d6d" stroke-width="1"/>
<rect x="1071.1" y="761.8" width="3.3" height="26.5" fill="#94b9ab" stroke="#4d7d6d" stroke-width="1"/>
<rect x="1075.3" y="761.8" width="3.3" height="26.2" fill="#94b9ab" stroke="#4d7d6d" stroke-width="1"/>
<rect x="1079.5" y="761.8" width="3.3" height="25.7" fill="#94b9ab" stroke="#4d7d6d" stroke-width="1"/>
<rect x="1083.7" y="761.8" width="3.3" height="23.0" fill="#94b9ab" stroke="#4d7d6d" stroke-width="1"/>
<rect x="1087.9" y="761.8" width="3.3" height="19.9" fill="#94b9ab" stroke="#4d7d6d" stroke-width="1"/>
<rect x="1092.0" y="761.8" width="3.3" height="16.2" fill="#94b9ab" stroke="#4d7d6d" stroke-width="1"/>
<rect x="1096.2" y="761.8" width="3.3" height="9.0" fill="#94b9ab" stroke="#4d7d6d" stroke-width="1"/>
<rect x="1100.4" y="761.8" width="3.3" height="7.8" fill="#94b9ab" stroke="#4d7d6d" stroke-width="1"/>
<rect x="1104.6" y="761.8" width="3.3" height="18.2" fill="#94b9ab" stroke="#4d7d6d" stroke-width="1"/>
<rect x="1108.7" y="761.8" width="3.3" height="30.5" fill="#94b9ab" stroke="#4d7d6d" stroke-width="1"/>
<rect x="1112.9" y="761.8" width="3.3" height="37.0" fill="#94b9ab" stroke="#4d7d6d" stroke-width="1"/>
<polyline points="62.5,742.7 64.5,741.4 66.5,740.1 68.5,738.7 70.5,737.5 72.5,736.3 74.5,735.2 76.5,734.1 78.5,733.1 80.5,732.3 82.5,731.6 84.5,730.9 86.5,730.4 88.5,730.0 90.5,729.7 92.5,729.6 94.5,729.7 96.5,730.0 98.5,730.4 100.5,731.0 102.5,731.7 104.5,732.6 106.5,733.5 108.5,734.5 110.5,735.5 112.5,736.6 114.5,737.7 116.5,738.9 118.5,740.2 120.5,741.5 122.5,742.8 124.5,743.9 126.5,745.0 128.5,746.0 130.5,746.9 132.5,747.7 134.5,748.4 136.5,749.0 138.5,749.6 140.5,749.9 142.5,750.0 144.5,750.2 146.5,750.3 148.5,750.3 150.5,750.3 152.5,750.3 154.5,750.1 156.5,749.9 158.5,749.6 160.5,749.1 162.5,748.6 164.5,747.9 166.5,747.0 168.5,746.1 170.5,745.1 172.5,744.0 174.5,742.9 176.5,741.8 178.5,741.0 180.5,740.2 182.5,739.6 184.5,739.0 186.5,738.5 188.5,738.1 190.5,738.1 192.5,738.4 194.5,739.2 196.5,740.4 198.5,742.1 200.5,744.3 202.5,746.8 204.5,749.4 206.5,752.2 208.5,755.0 210.5,757.9 212.5,760.9 214.5,763.8 216.5,766.7 218.5,769.5 220.5,772.3 222.5,774.9 224.5,777.4 226.5,779.7 228.5,781.8 230.5,783.8 232.5,785.6 234.5,787.1 236.5,788.5 238.5,789.7 240.5,790.8 242.5,791.7 244.5,792.4 246.5,792.9 248.5,793.2 250.5,793.2 252.5,793.0 254.5,792.7 256.5,792.1 258.5,791.5 260.5,790.7 262.5,789.8 264.5,788.9 266.5,788.0 268.5,787.0 270.5,786.0 272.5,785.1 274.5,784.3 276.5,783.4 278.5,782.7 280.5,782.1 282.5,781.6 284.5,781.2 286.5,780.9 288.5,780.8 290.5,780.8 292.5,780.9 294.5,781.2 296.5,781.6 298.5,782.1 300.5,782.7 302.5,783.4 304.5,784.2 306.5,784.9 308.5,785.4 310.5,785.5 312.5,785.1 314.5,784.1 316.5,782.7 318.5,780.8 320.5,778.5 322.5,776.0 324.5,773.3 326.5,770.6 328.5,767.9 330.5,765.3 332.5,762.6 334.5,760.0 336.5,757.4 338.5,754.8 340.5,752.3 342.5,749.8 344.5,747.3 346.5,745.0 348.5,742.7 350.5,740.3 352.5,737.6 354.5,735.0 356.5,732.6 358.5,730.5 360.5,728.5 362.5,726.7 364.5,725.1 366.5,723.8 368.5,722.5 370.5,721.3 372.5,720.3 374.5,719.5 376.5,718.8 378.5,718.1 380.5,717.5 382.5,716.9 384.5,716.4 386.5,715.8 388.5,715.1 390.5,714.5 392.5,713.9 394.5,713.4 396.5,713.0 398.5,712.7 400.5,712.6 402.5,712.6 404.5,712.9 406.5,713.2 408.5,713.6 410.5,714.2 412.5,714.9 414.5,715.6 416.5,716.3 418.5,717.1 420.5,718.0 422.5,718.8 424.5,719.7 426.5,720.5 428.5,721.3 430.5,722.0 432.5,722.8 434.5,723.5 436.5,724.1 438.5,724.8 440.5,725.4 442.5,725.9 444.5,726.4 446.5,726.8 448.5,727.1 450.5,727.3 452.5,727.3 454.5,727.1 456.5,726.8 458.5,726.3 460.5,725.9 462.5,725.4 464.5,725.0 466.5,724.5 468.5,724.2 470.5,723.8 472.5,723.5 474.5,723.2 476.5,723.0 478.5,722.8 480.5,722.6 482.5,722.5 484.5,722.4 486.5,722.4 488.5,722.6 490.5,723.1 492.5,723.9 494.5,725.1 496.5,726.6 498.5,728.4 500.5,730.2 502.5,731.9 504.5,733.7 506.5,735.3 508.5,736.8 510.5,737.9 512.5,738.9 514.5,739.7 516.5,740.4 518.5,741.0 520.5,741.3 522.5,741.5 524.5,741.5 526.5,741.5 528.5,741.4 530.5,741.3 532.5,741.1 534.5,741.0 536.5,740.9 538.5,740.8 540.5,740.8 542.5,740.7 544.5,740.5 546.5,740.2 548.5,740.0 550.5,739.6 552.5,739.2 554.5,738.6 556.5,738.1 558.5,737.5 560.5,736.9 562.5,736.2 564.5,735.6 566.5,734.9 568.5,734.2 570.5,733.6 572.5,733.0 574.5,732.4 576.5,732.0 578.5,731.4 580.5,730.4 582.5,729.1 584.5,727.5 586.5,725.8 588.5,723.9 590.5,721.9 592.5,719.8 594.5,717.7 596.5,715.4 598.5,713.1 600.5,710.8 602.5,708.7 604.5,706.6 606.5,704.6 608.5,702.8 610.5,701.3 612.5,700.2 614.5,699.3 616.5,698.8 618.5,698.6 620.5,698.6 622.5,698.8 624.5,699.1 626.5,699.4 628.5,699.8 630.5,700.3 632.5,700.8 634.5,701.2 636.5,701.6 638.5,701.9 640.5,702.2 642.5,702.5 644.5,702.6 646.5,702.7 648.5,702.8 650.5,702.9 652.5,702.9 654.5,702.9 656.5,702.9 658.5,702.9 660.5,702.9 662.5,702.9 664.5,703.0 666.5,703.1 668.5,703.4 670.5,703.7 672.5,704.0 674.5,704.5 676.5,705.1 678.5,705.7 680.5,706.4 682.5,707.3 684.5,708.3 686.5,709.4 688.5,710.5 690.5,711.6 692.5,712.8 694.5,713.9 696.5,715.0 698.5,716.0 700.5,717.0 702.5,717.9 704.5,718.8 706.5,719.7 708.5,720.5 710.5,721.3 712.5,722.0 714.5,722.7 716.5,723.4 718.5,724.0 720.5,724.5 722.5,724.9 724.5,725.3 726.5,725.6 728.5,725.8 730.5,726.0 732.5,726.1 734.5,726.2 736.5,726.4 738.5,726.5 740.5,726.6 742.5,726.7 744.5,726.7 746.5,726.7 748.5,726.7 750.5,726.7 752.5,726.7 754.5,726.7 756.5,726.7 758.5,726.6 760.5,726.5 762.5,726.3 764.5,726.1 766.5,725.7 768.5,725.2 770.5,724.6 772.5,724.0 774.5,723.3 776.5,722.5 778.5,721.7 780.5,721.1 782.5,720.5 784.5,720.1 786.5,719.8 788.5,719.8 790.5,720.0 792.5,720.4 794.5,721.1 796.5,721.9 798.5,723.0 800.5,724.3 802.5,726.1 804.5,728.0 806.5,730.1 808.5,732.2 810.5,734.3 812.5,736.4 814.5,738.6 816.5,740.7 818.5,742.7 820.5,744.7 822.5,746.6 824.5,748.5 826.5,750.2 828.5,751.9 830.5,753.4 832.5,754.9 834.5,756.2 836.5,757.4 838.5,758.3 840.5,758.6 842.5,758.4 844.5,757.6 846.5,756.4 848.5,755.0 850.5,753.6 852.5,752.2 854.5,750.8 856.5,749.4 858.5,748.0 860.5,746.7 862.5,745.3 864.5,744.0 866.5,742.8 868.5,741.8 870.5,740.8 872.5,740.0 874.5,739.3 876.5,738.7 878.5,738.2 880.5,737.9 882.5,737.7 884.5,737.6 886.5,737.6 888.5,737.8 890.5,738.1 892.5,738.6 894.5,739.2 896.5,740.1 898.5,741.3 900.5,742.6 902.5,743.9 904.5,745.1 906.5,746.3 908.5,747.6 910.5,748.9 912.5,750.2 914.5,751.4 916.5,752.6 918.5,754.0 920.5,755.4 922.5,756.9 924.5,758.5 926.5,760.1 928.5,761.7 930.5,763.1 932.5,764.3 934.5,765.4 936.5,766.2 938.5,766.8 940.5,767.1 942.5,767.3 944.5,767.1 946.5,766.8 948.5,766.2 950.5,765.4 952.5,764.4 954.5,763.3 956.5,762.2 958.5,761.1 960.5,760.3 962.5,759.7 964.5,759.2 966.5,758.7 968.5,758.3 970.5,757.9 972.5,757.6 974.5,757.3 976.5,757.0 978.5,756.6 980.5,756.2 982.5,755.7 984.5,755.0 986.5,754.4 988.5,753.7 990.5,753.1 992.5,752.3 994.5,751.4 996.5,750.1 998.5,748.6 1000.5,746.9 1002.5,744.9 1004.5,742.8 1006.5,740.6 1008.5,738.3 1010.5,736.0 1012.5,733.6 1014.5,731.3 1016.5,729.0 1018.5,726.8 1020.5,724.7 1022.5,722.8 1024.5,720.9 1026.5,719.2 1028.5,717.6 1030.5,716.2 1032.5,715.1 1034.5,714.1 1036.5,713.4 1038.5,712.9 1040.5,712.8 1042.5,713.0 1044.5,713.6 1046.5,714.4 1048.5,715.4 1050.5,716.6 1052.5,718.1 1054.5,719.8 1056.5,721.8 1058.5,724.2 1060.5,727.0 1062.5,730.0 1064.5,733.2 1066.5,736.5 1068.5,739.8 1070.5,743.2 1072.5,746.5 1074.5,749.8 1076.5,753.1 1078.5,756.4 1080.5,759.7 1082.5,762.8 1084.5,765.8 1086.5,768.7 1088.5,771.3 1090.5,773.7 1092.5,775.8 1094.5,777.7 1096.5,779.5 1098.5,781.1 1100.5,782.7 1102.5,784.3 1104.5,786.5 1106.5,789.5 1108.5,792.8 1110.5,796.0 1112.5,799.0 1114.4,801.9" fill="none" stroke="#b4406a" stroke-width="1.25" stroke-linejoin="round" stroke-linecap="round" />
<polyline points="62.5,740.2 66.3,731.3 70.2,726.7 75.2,725.0 81.6,724.2 86.6,722.4 90.5,725.0 95.5,730.0 100.6,736.9 105.7,741.5 110.8,744.5 114.6,746.5 119.6,751.6 124.7,754.9 129.8,756.7 134.9,755.4 139.9,752.9 145.0,749.8 150.1,749.6 155.2,750.3 161.5,748.6 166.6,741.5 172.9,735.1 178.0,729.5 183.1,731.3 188.2,734.3 193.2,741.5 198.3,752.9 203.4,764.3 208.5,774.4 213.6,783.3 218.6,790.9 223.7,796.8 227.5,795.3 232.6,800.6 240.2,801.6 246.5,799.3 251.6,796.0 256.7,789.7 261.8,783.3 266.9,779.5 271.9,775.7 275.7,774.4 280.8,775.7 285.9,779.0 291.0,781.6 296.0,781.6 299.8,787.1 304.2,794.2 308.7,790.9 312.5,783.3 317.6,771.9 322.7,759.2 327.8,748.6 332.8,737.6 337.9,728.8 340.0,728.8 345.1,723.7 350.2,718.6 355.2,713.5 360.3,711.0 365.4,712.3 370.5,711.0 375.5,709.0 380.6,711.0 385.7,709.7 392.0,709.0 397.1,711.0 403.5,715.6 409.8,718.6 416.1,721.7 421.2,725.7 427.6,727.0 432.6,730.0 439.0,730.5 445.3,731.3 450.4,729.5 455.5,724.4 460.6,721.7 466.9,719.9 473.2,719.4 479.6,720.6 485.9,722.4 491.0,726.2 496.1,733.3 501.2,744.0 505.0,749.8 509.5,751.6 515.1,748.6 520.2,743.5 525.3,740.2 530.4,739.7 535.4,742.0 540.5,740.9 546.9,738.9 553.2,735.9 558.3,732.6 563.4,729.5 567.2,725.7 571.0,725.5 576.0,729.3 579.8,729.5 583.7,718.1 588.7,708.5 593.8,701.4 598.9,696.3 604.0,690.2 609.0,686.9 612.8,691.2 617.9,692.7 620.0,693.7 623.8,696.3 628.9,703.4 634.0,707.2 639.0,704.6 644.1,702.6 649.2,703.9 654.3,706.4 659.3,704.1 663.1,702.1 667.0,702.6 672.0,707.9 677.1,711.8 682.2,713.0 688.5,720.6 694.9,723.2 699.9,721.1 705.0,725.7 710.1,729.5 715.2,730.0 721.5,728.8 729.1,728.0 736.8,728.0 744.4,727.5 750.7,726.2 755.8,725.5 759.1,728.0 763.4,725.0 769.7,720.6 776.1,718.1 781.2,715.3 786.2,716.1 791.3,719.9 796.4,726.7 801.5,735.9 806.5,746.0 811.6,752.1 816.7,757.2 821.8,765.6 826.9,765.6 830.7,763.8 835.7,767.3 839.5,765.6 843.4,759.2 848.4,749.1 853.5,740.9 858.6,735.9 863.7,732.1 868.7,730.5 873.8,731.3 878.9,733.1 884.0,736.9 889.0,740.2 894.1,744.0 899.2,748.6 903.9,753.7 908.9,757.7 913.8,759.1 918.7,763.6 923.6,768.9 928.5,774.4 934.4,776.4 939.3,773.8 944.3,767.5 949.2,761.6 954.1,755.7 960.0,751.8 964.9,752.8 970.8,753.3 976.7,756.3 981.6,752.4 985.6,749.2 992.5,748.8 996.4,741.0 1001.3,731.1 1006.2,724.8 1010.2,718.3 1014.1,712.4 1018.0,710.5 1023.0,706.5 1027.9,703.6 1033.8,703.0 1037.7,706.5 1042.6,713.4 1047.6,720.3 1052.5,728.8 1057.4,738.0 1061.3,748.8 1065.3,758.7 1068.2,766.1 1072.1,772.4 1077.1,780.3 1082.0,787.8 1086.9,791.1 1092.8,794.1 1096.7,790.1 1100.7,788.2 1103.6,796.0 1106.6,808.8 1109.5,823.6 1112.5,833.4 1114.4,838.9" fill="none" stroke="#1c1c1c" stroke-width="2.1" stroke-linejoin="round" stroke-linecap="round" />
</g>
<line x1="137" y1="5.6" x2="178" y2="5.6" stroke="#c9c9cc" stroke-width="1.3" stroke-dasharray="5 2 3 2 7 3"/>
<line x1="227" y1="5.6" x2="230" y2="5.6" stroke="#777" stroke-width="1.3" stroke-dasharray="5 2 3 2 7 3"/>
<line x1="288" y1="5.6" x2="317" y2="5.6" stroke="#9a9a9e" stroke-width="1.3" stroke-dasharray="5 2 3 2 7 3"/>
<line x1="398" y1="5.6" x2="408" y2="5.6" stroke="#8a8a8e" stroke-width="1.3" stroke-dasharray="5 2 3 2 7 3"/>
<line x1="412" y1="5.6" x2="438" y2="5.6" stroke="#77777c" stroke-width="1.3" stroke-dasharray="5 2 3 2 7 3"/>
<line x1="455" y1="5.6" x2="469" y2="5.6" stroke="#c4c4c8" stroke-width="1.3" stroke-dasharray="5 2 3 2 7 3"/>
<line x1="606" y1="5.6" x2="680" y2="5.6" stroke="#cfcfd3" stroke-width="1.3" stroke-dasharray="5 2 3 2 7 3"/>
<line x1="1043" y1="5.6" x2="1117" y2="5.6" stroke="#c4c4c8" stroke-width="1.3" stroke-dasharray="5 2 3 2 7 3"/>
<rect x="585" y="4.6" width="6" height="1.8" fill="#222"/>
<rect x="1059.5" y="5.8" width="1.6" height="1.6" fill="#555"/><rect x="1088" y="5.8" width="1.6" height="1.6" fill="#555"/>
<rect x="62" y="8.3" width="1059.5" height="169.0" fill="none" stroke="#777c92" stroke-width="1.6"/>
<rect x="62" y="177.3" width="1059.5" height="484.7" fill="none" stroke="#777c92" stroke-width="1.6"/>
<rect x="62" y="679" width="1059.5" height="168.29999999999995" fill="none" stroke="#777c92" stroke-width="1.6"/>
<line x1="1121.5" y1="173.9" x2="1125.1" y2="173.9" stroke="#70758d" stroke-width="1"/>
<line x1="1121.5" y1="170.7" x2="1124.0" y2="170.7" stroke="#70758d" stroke-width="1"/>
<line x1="1121.5" y1="167.4" x2="1124.0" y2="167.4" stroke="#70758d" stroke-width="1"/>
<line x1="1121.5" y1="164.2" x2="1124.0" y2="164.2" stroke="#70758d" stroke-width="1"/>
<line x1="1121.5" y1="160.9" x2="1124.0" y2="160.9" stroke="#70758d" stroke-width="1"/>
<line x1="1121.5" y1="157.7" x2="1125.1" y2="157.7" stroke="#70758d" stroke-width="1"/>
<line x1="1121.5" y1="154.4" x2="1124.0" y2="154.4" stroke="#70758d" stroke-width="1"/>
<line x1="1121.5" y1="151.2" x2="1124.0" y2="151.2" stroke="#70758d" stroke-width="1"/>
<line x1="1121.5" y1="147.9" x2="1124.0" y2="147.9" stroke="#70758d" stroke-width="1"/>
<line x1="1121.5" y1="144.7" x2="1124.0" y2="144.7" stroke="#70758d" stroke-width="1"/>
<line x1="1121.5" y1="141.4" x2="1125.1" y2="141.4" stroke="#70758d" stroke-width="1"/>
<line x1="1121.5" y1="138.2" x2="1124.0" y2="138.2" stroke="#70758d" stroke-width="1"/>
<line x1="1121.5" y1="134.9" x2="1124.0" y2="134.9" stroke="#70758d" stroke-width="1"/>
<line x1="1121.5" y1="131.7" x2="1124.0" y2="131.7" stroke="#70758d" stroke-width="1"/>
<line x1="1121.5" y1="128.4" x2="1124.0" y2="128.4" stroke="#70758d" stroke-width="1"/>
<line x1="1121.5" y1="125.2" x2="1125.1" y2="125.2" stroke="#70758d" stroke-width="1"/>
<line x1="1121.5" y1="122.0" x2="1124.0" y2="122.0" stroke="#70758d" stroke-width="1"/>
<line x1="1121.5" y1="118.7" x2="1124.0" y2="118.7" stroke="#70758d" stroke-width="1"/>
<line x1="1121.5" y1="115.5" x2="1124.0" y2="115.5" stroke="#70758d" stroke-width="1"/>
<line x1="1121.5" y1="112.2" x2="1124.0" y2="112.2" stroke="#70758d" stroke-width="1"/>
<line x1="1121.5" y1="109.0" x2="1125.1" y2="109.0" stroke="#70758d" stroke-width="1"/>
<line x1="1121.5" y1="105.7" x2="1124.0" y2="105.7" stroke="#70758d" stroke-width="1"/>
<line x1="1121.5" y1="102.5" x2="1124.0" y2="102.5" stroke="#70758d" stroke-width="1"/>
<line x1="1121.5" y1="99.2" x2="1124.0" y2="99.2" stroke="#70758d" stroke-width="1"/>
<line x1="1121.5" y1="96.0" x2="1124.0" y2="96.0" stroke="#70758d" stroke-width="1"/>
<line x1="1121.5" y1="92.7" x2="1125.1" y2="92.7" stroke="#70758d" stroke-width="1"/>
<line x1="1121.5" y1="89.5" x2="1124.0" y2="89.5" stroke="#70758d" stroke-width="1"/>
<line x1="1121.5" y1="86.2" x2="1124.0" y2="86.2" stroke="#70758d" stroke-width="1"/>
<line x1="1121.5" y1="83.0" x2="1124.0" y2="83.0" stroke="#70758d" stroke-width="1"/>
<line x1="1121.5" y1="79.7" x2="1124.0" y2="79.7" stroke="#70758d" stroke-width="1"/>
<line x1="1121.5" y1="76.5" x2="1125.1" y2="76.5" stroke="#70758d" stroke-width="1"/>
<line x1="1121.5" y1="73.2" x2="1124.0" y2="73.2" stroke="#70758d" stroke-width="1"/>
<line x1="1121.5" y1="70.0" x2="1124.0" y2="70.0" stroke="#70758d" stroke-width="1"/>
<line x1="1121.5" y1="66.7" x2="1124.0" y2="66.7" stroke="#70758d" stroke-width="1"/>
<line x1="1121.5" y1="63.5" x2="1124.0" y2="63.5" stroke="#70758d" stroke-width="1"/>
<line x1="1121.5" y1="60.2" x2="1125.1" y2="60.2" stroke="#70758d" stroke-width="1"/>
<line x1="1121.5" y1="57.0" x2="1124.0" y2="57.0" stroke="#70758d" stroke-width="1"/>
<line x1="1121.5" y1="53.7" x2="1124.0" y2="53.7" stroke="#70758d" stroke-width="1"/>
<line x1="1121.5" y1="50.5" x2="1124.0" y2="50.5" stroke="#70758d" stroke-width="1"/>
<line x1="1121.5" y1="47.2" x2="1124.0" y2="47.2" stroke="#70758d" stroke-width="1"/>
<line x1="1121.5" y1="44.0" x2="1125.1" y2="44.0" stroke="#70758d" stroke-width="1"/>
<line x1="1121.5" y1="40.7" x2="1124.0" y2="40.7" stroke="#70758d" stroke-width="1"/>
<line x1="1121.5" y1="37.5" x2="1124.0" y2="37.5" stroke="#70758d" stroke-width="1"/>
<line x1="1121.5" y1="34.2" x2="1124.0" y2="34.2" stroke="#70758d" stroke-width="1"/>
<line x1="1121.5" y1="31.0" x2="1124.0" y2="31.0" stroke="#70758d" stroke-width="1"/>
<line x1="1121.5" y1="27.7" x2="1125.1" y2="27.7" stroke="#70758d" stroke-width="1"/>
<line x1="1121.5" y1="24.5" x2="1124.0" y2="24.5" stroke="#70758d" stroke-width="1"/>
<line x1="1121.5" y1="21.2" x2="1124.0" y2="21.2" stroke="#70758d" stroke-width="1"/>
<line x1="1121.5" y1="18.0" x2="1124.0" y2="18.0" stroke="#70758d" stroke-width="1"/>
<line x1="1121.5" y1="14.7" x2="1124.0" y2="14.7" stroke="#70758d" stroke-width="1"/>
<line x1="1121.5" y1="11.5" x2="1125.1" y2="11.5" stroke="#70758d" stroke-width="1"/>
<line x1="1121.5" y1="655.1" x2="1124.0" y2="655.1" stroke="#70758d" stroke-width="1"/>
<line x1="1121.5" y1="647.6" x2="1124.0" y2="647.6" stroke="#70758d" stroke-width="1"/>
<line x1="1121.5" y1="640.3" x2="1125.1" y2="640.3" stroke="#70758d" stroke-width="1"/>
<line x1="1121.5" y1="633.0" x2="1124.0" y2="633.0" stroke="#70758d" stroke-width="1"/>
<line x1="1121.5" y1="625.7" x2="1124.0" y2="625.7" stroke="#70758d" stroke-width="1"/>
<line x1="1121.5" y1="618.5" x2="1124.0" y2="618.5" stroke="#70758d" stroke-width="1"/>
<line x1="1121.5" y1="611.4" x2="1124.0" y2="611.4" stroke="#70758d" stroke-width="1"/>
<line x1="1121.5" y1="604.3" x2="1125.1" y2="604.3" stroke="#70758d" stroke-width="1"/>
<line x1="1121.5" y1="597.3" x2="1124.0" y2="597.3" stroke="#70758d" stroke-width="1"/>
<line x1="1121.5" y1="590.4" x2="1124.0" y2="590.4" stroke="#70758d" stroke-width="1"/>
<line x1="1121.5" y1="583.5" x2="1124.0" y2="583.5" stroke="#70758d" stroke-width="1"/>
<line x1="1121.5" y1="576.6" x2="1124.0" y2="576.6" stroke="#70758d" stroke-width="1"/>
<line x1="1121.5" y1="569.8" x2="1125.1" y2="569.8" stroke="#70758d" stroke-width="1"/>
<line x1="1121.5" y1="563.1" x2="1124.0" y2="563.1" stroke="#70758d" stroke-width="1"/>
<line x1="1121.5" y1="556.4" x2="1124.0" y2="556.4" stroke="#70758d" stroke-width="1"/>
<line x1="1121.5" y1="549.7" x2="1124.0" y2="549.7" stroke="#70758d" stroke-width="1"/>
<line x1="1121.5" y1="543.1" x2="1124.0" y2="543.1" stroke="#70758d" stroke-width="1"/>
<line x1="1121.5" y1="536.6" x2="1125.1" y2="536.6" stroke="#70758d" stroke-width="1"/>
<line x1="1121.5" y1="530.1" x2="1124.0" y2="530.1" stroke="#70758d" stroke-width="1"/>
<line x1="1121.5" y1="523.6" x2="1124.0" y2="523.6" stroke="#70758d" stroke-width="1"/>
<line x1="1121.5" y1="517.2" x2="1124.0" y2="517.2" stroke="#70758d" stroke-width="1"/>
<line x1="1121.5" y1="510.9" x2="1124.0" y2="510.9" stroke="#70758d" stroke-width="1"/>
<line x1="1121.5" y1="504.6" x2="1125.1" y2="504.6" stroke="#70758d" stroke-width="1"/>
<line x1="1121.5" y1="498.3" x2="1124.0" y2="498.3" stroke="#70758d" stroke-width="1"/>
<line x1="1121.5" y1="492.1" x2="1124.0" y2="492.1" stroke="#70758d" stroke-width="1"/>
<line x1="1121.5" y1="485.9" x2="1124.0" y2="485.9" stroke="#70758d" stroke-width="1"/>
<line x1="1121.5" y1="479.8" x2="1124.0" y2="479.8" stroke="#70758d" stroke-width="1"/>
<line x1="1121.5" y1="473.7" x2="1125.1" y2="473.7" stroke="#70758d" stroke-width="1"/>
<line x1="1121.5" y1="467.6" x2="1124.0" y2="467.6" stroke="#70758d" stroke-width="1"/>
<line x1="1121.5" y1="461.6" x2="1124.0" y2="461.6" stroke="#70758d" stroke-width="1"/>
<line x1="1121.5" y1="455.7" x2="1124.0" y2="455.7" stroke="#70758d" stroke-width="1"/>
<line x1="1121.5" y1="449.7" x2="1124.0" y2="449.7" stroke="#70758d" stroke-width="1"/>
<line x1="1121.5" y1="443.8" x2="1125.1" y2="443.8" stroke="#70758d" stroke-width="1"/>
<line x1="1121.5" y1="438.0" x2="1124.0" y2="438.0" stroke="#70758d" stroke-width="1"/>
<line x1="1121.5" y1="432.2" x2="1124.0" y2="432.2" stroke="#70758d" stroke-width="1"/>
<line x1="1121.5" y1="426.4" x2="1124.0" y2="426.4" stroke="#70758d" stroke-width="1"/>
<line x1="1121.5" y1="420.7" x2="1124.0" y2="420.7" stroke="#70758d" stroke-width="1"/>
<line x1="1121.5" y1="415.0" x2="1125.1" y2="415.0" stroke="#70758d" stroke-width="1"/>
<line x1="1121.5" y1="409.3" x2="1124.0" y2="409.3" stroke="#70758d" stroke-width="1"/>
<line x1="1121.5" y1="403.7" x2="1124.0" y2="403.7" stroke="#70758d" stroke-width="1"/>
<line x1="1121.5" y1="398.1" x2="1124.0" y2="398.1" stroke="#70758d" stroke-width="1"/>
<line x1="1121.5" y1="392.6" x2="1124.0" y2="392.6" stroke="#70758d" stroke-width="1"/>
<line x1="1121.5" y1="387.0" x2="1125.1" y2="387.0" stroke="#70758d" stroke-width="1"/>
<line x1="1121.5" y1="381.5" x2="1124.0" y2="381.5" stroke="#70758d" stroke-width="1"/>
<line x1="1121.5" y1="376.1" x2="1124.0" y2="376.1" stroke="#70758d" stroke-width="1"/>
<line x1="1121.5" y1="370.7" x2="1124.0" y2="370.7" stroke="#70758d" stroke-width="1"/>
<line x1="1121.5" y1="365.3" x2="1124.0" y2="365.3" stroke="#70758d" stroke-width="1"/>
<line x1="1121.5" y1="359.9" x2="1125.1" y2="359.9" stroke="#70758d" stroke-width="1"/>
<line x1="1121.5" y1="354.6" x2="1124.0" y2="354.6" stroke="#70758d" stroke-width="1"/>
<line x1="1121.5" y1="349.3" x2="1124.0" y2="349.3" stroke="#70758d" stroke-width="1"/>
<line x1="1121.5" y1="344.1" x2="1124.0" y2="344.1" stroke="#70758d" stroke-width="1"/>
<line x1="1121.5" y1="338.9" x2="1124.0" y2="338.9" stroke="#70758d" stroke-width="1"/>
<line x1="1121.5" y1="333.7" x2="1125.1" y2="333.7" stroke="#70758d" stroke-width="1"/>
<line x1="1121.5" y1="328.5" x2="1124.0" y2="328.5" stroke="#70758d" stroke-width="1"/>
<line x1="1121.5" y1="323.4" x2="1124.0" y2="323.4" stroke="#70758d" stroke-width="1"/>
<line x1="1121.5" y1="318.3" x2="1124.0" y2="318.3" stroke="#70758d" stroke-width="1"/>
<line x1="1121.5" y1="313.2" x2="1124.0" y2="313.2" stroke="#70758d" stroke-width="1"/>
<line x1="1121.5" y1="308.1" x2="1125.1" y2="308.1" stroke="#70758d" stroke-width="1"/>
<line x1="1121.5" y1="303.1" x2="1124.0" y2="303.1" stroke="#70758d" stroke-width="1"/>
<line x1="1121.5" y1="298.1" x2="1124.0" y2="298.1" stroke="#70758d" stroke-width="1"/>
<line x1="1121.5" y1="293.2" x2="1124.0" y2="293.2" stroke="#70758d" stroke-width="1"/>
<line x1="1121.5" y1="288.3" x2="1124.0" y2="288.3" stroke="#70758d" stroke-width="1"/>
<line x1="1121.5" y1="283.3" x2="1125.1" y2="283.3" stroke="#70758d" stroke-width="1"/>
<line x1="1121.5" y1="278.5" x2="1124.0" y2="278.5" stroke="#70758d" stroke-width="1"/>
<line x1="1121.5" y1="273.6" x2="1124.0" y2="273.6" stroke="#70758d" stroke-width="1"/>
<line x1="1121.5" y1="268.8" x2="1124.0" y2="268.8" stroke="#70758d" stroke-width="1"/>
<line x1="1121.5" y1="264.0" x2="1124.0" y2="264.0" stroke="#70758d" stroke-width="1"/>
<line x1="1121.5" y1="259.2" x2="1125.1" y2="259.2" stroke="#70758d" stroke-width="1"/>
<line x1="1121.5" y1="254.5" x2="1124.0" y2="254.5" stroke="#70758d" stroke-width="1"/>
<line x1="1121.5" y1="249.8" x2="1124.0" y2="249.8" stroke="#70758d" stroke-width="1"/>
<line x1="1121.5" y1="245.1" x2="1124.0" y2="245.1" stroke="#70758d" stroke-width="1"/>
<line x1="1121.5" y1="240.4" x2="1124.0" y2="240.4" stroke="#70758d" stroke-width="1"/>
<line x1="1121.5" y1="235.8" x2="1125.1" y2="235.8" stroke="#70758d" stroke-width="1"/>
<line x1="1121.5" y1="231.1" x2="1124.0" y2="231.1" stroke="#70758d" stroke-width="1"/>
<line x1="1121.5" y1="226.5" x2="1124.0" y2="226.5" stroke="#70758d" stroke-width="1"/>
<line x1="1121.5" y1="222.0" x2="1124.0" y2="222.0" stroke="#70758d" stroke-width="1"/>
<line x1="1121.5" y1="217.4" x2="1124.0" y2="217.4" stroke="#70758d" stroke-width="1"/>
<line x1="1121.5" y1="212.9" x2="1125.1" y2="212.9" stroke="#70758d" stroke-width="1"/>
<line x1="1121.5" y1="208.4" x2="1124.0" y2="208.4" stroke="#70758d" stroke-width="1"/>
<line x1="1121.5" y1="203.9" x2="1124.0" y2="203.9" stroke="#70758d" stroke-width="1"/>
<line x1="1121.5" y1="199.4" x2="1124.0" y2="199.4" stroke="#70758d" stroke-width="1"/>
<line x1="1121.5" y1="195.0" x2="1124.0" y2="195.0" stroke="#70758d" stroke-width="1"/>
<line x1="1121.5" y1="190.6" x2="1125.1" y2="190.6" stroke="#70758d" stroke-width="1"/>
<line x1="1121.5" y1="186.2" x2="1124.0" y2="186.2" stroke="#70758d" stroke-width="1"/>
<line x1="1121.5" y1="181.8" x2="1124.0" y2="181.8" stroke="#70758d" stroke-width="1"/>
<line x1="1121.5" y1="844.4" x2="1125.1" y2="844.4" stroke="#70758d" stroke-width="1"/>
<line x1="1121.5" y1="837.5" x2="1124.0" y2="837.5" stroke="#70758d" stroke-width="1"/>
<line x1="1121.5" y1="830.6" x2="1124.0" y2="830.6" stroke="#70758d" stroke-width="1"/>
<line x1="1121.5" y1="823.8" x2="1124.0" y2="823.8" stroke="#70758d" stroke-width="1"/>
<line x1="1121.5" y1="816.9" x2="1125.1" y2="816.9" stroke="#70758d" stroke-width="1"/>
<line x1="1121.5" y1="810.0" x2="1124.0" y2="810.0" stroke="#70758d" stroke-width="1"/>
<line x1="1121.5" y1="803.1" x2="1124.0" y2="803.1" stroke="#70758d" stroke-width="1"/>
<line x1="1121.5" y1="796.2" x2="1124.0" y2="796.2" stroke="#70758d" stroke-width="1"/>
<line x1="1121.5" y1="789.3" x2="1125.1" y2="789.3" stroke="#70758d" stroke-width="1"/>
<line x1="1121.5" y1="782.5" x2="1124.0" y2="782.5" stroke="#70758d" stroke-width="1"/>
<line x1="1121.5" y1="775.6" x2="1124.0" y2="775.6" stroke="#70758d" stroke-width="1"/>
<line x1="1121.5" y1="768.7" x2="1124.0" y2="768.7" stroke="#70758d" stroke-width="1"/>
<line x1="1121.5" y1="761.8" x2="1125.1" y2="761.8" stroke="#70758d" stroke-width="1"/>
<line x1="1121.5" y1="754.9" x2="1124.0" y2="754.9" stroke="#70758d" stroke-width="1"/>
<line x1="1121.5" y1="748.0" x2="1124.0" y2="748.0" stroke="#70758d" stroke-width="1"/>
<line x1="1121.5" y1="741.1" x2="1124.0" y2="741.1" stroke="#70758d" stroke-width="1"/>
<line x1="1121.5" y1="734.3" x2="1125.1" y2="734.3" stroke="#70758d" stroke-width="1"/>
<line x1="1121.5" y1="727.4" x2="1124.0" y2="727.4" stroke="#70758d" stroke-width="1"/>
<line x1="1121.5" y1="720.5" x2="1124.0" y2="720.5" stroke="#70758d" stroke-width="1"/>
<line x1="1121.5" y1="713.6" x2="1124.0" y2="713.6" stroke="#70758d" stroke-width="1"/>
<line x1="1121.5" y1="706.7" x2="1125.1" y2="706.7" stroke="#70758d" stroke-width="1"/>
<line x1="1121.5" y1="699.8" x2="1124.0" y2="699.8" stroke="#70758d" stroke-width="1"/>
<line x1="1121.5" y1="692.9" x2="1124.0" y2="692.9" stroke="#70758d" stroke-width="1"/>
<line x1="1121.5" y1="686.1" x2="1124.0" y2="686.1" stroke="#70758d" stroke-width="1"/>
<line x1="1121.5" y1="679.2" x2="1125.1" y2="679.2" stroke="#70758d" stroke-width="1"/>
<line x1="58.8" y1="638.1" x2="62" y2="638.1" stroke="#70758d" stroke-width="0.9"/>
<line x1="58.8" y1="615.9" x2="62" y2="615.9" stroke="#70758d" stroke-width="0.9"/>
<line x1="58.8" y1="593.6" x2="62" y2="593.6" stroke="#70758d" stroke-width="0.9"/>
<line x1="58.8" y1="571.4" x2="62" y2="571.4" stroke="#70758d" stroke-width="0.9"/>
<line x1="58.8" y1="549.1" x2="62" y2="549.1" stroke="#70758d" stroke-width="0.9"/>
<line x1="58.8" y1="526.8" x2="62" y2="526.8" stroke="#70758d" stroke-width="0.9"/>
<line x1="58.8" y1="504.6" x2="62" y2="504.6" stroke="#70758d" stroke-width="0.9"/>
<line x1="61.9" y1="662" x2="61.9" y2="664.4" stroke="#7f849a" stroke-width="0.9"/>
<line x1="66.1" y1="662" x2="66.1" y2="664.4" stroke="#7f849a" stroke-width="0.9"/>
<line x1="70.3" y1="662" x2="70.3" y2="664.4" stroke="#7f849a" stroke-width="0.9"/>
<line x1="74.4" y1="662" x2="74.4" y2="664.4" stroke="#7f849a" stroke-width="0.9"/>
<line x1="78.6" y1="662" x2="78.6" y2="664.4" stroke="#7f849a" stroke-width="0.9"/>
<line x1="82.8" y1="662" x2="82.8" y2="664.4" stroke="#7f849a" stroke-width="0.9"/>
<line x1="87.0" y1="662" x2="87.0" y2="664.4" stroke="#7f849a" stroke-width="0.9"/>
<line x1="91.1" y1="662" x2="91.1" y2="664.4" stroke="#7f849a" stroke-width="0.9"/>
<line x1="95.3" y1="662" x2="95.3" y2="664.4" stroke="#7f849a" stroke-width="0.9"/>
<line x1="99.5" y1="662" x2="99.5" y2="664.4" stroke="#7f849a" stroke-width="0.9"/>
<line x1="103.7" y1="662" x2="103.7" y2="664.4" stroke="#7f849a" stroke-width="0.9"/>
<line x1="107.8" y1="662" x2="107.8" y2="664.4" stroke="#7f849a" stroke-width="0.9"/>
<line x1="112.0" y1="662" x2="112.0" y2="664.4" stroke="#7f849a" stroke-width="0.9"/>
<line x1="116.2" y1="662" x2="116.2" y2="664.4" stroke="#7f849a" stroke-width="0.9"/>
<line x1="120.4" y1="662" x2="120.4" y2="664.4" stroke="#7f849a" stroke-width="0.9"/>
<line x1="124.6" y1="662" x2="124.6" y2="664.4" stroke="#7f849a" stroke-width="0.9"/>
<line x1="128.7" y1="662" x2="128.7" y2="664.4" stroke="#7f849a" stroke-width="0.9"/>
<line x1="132.9" y1="662" x2="132.9" y2="664.4" stroke="#7f849a" stroke-width="0.9"/>
<line x1="137.1" y1="662" x2="137.1" y2="664.4" stroke="#7f849a" stroke-width="0.9"/>
<line x1="141.3" y1="662" x2="141.3" y2="664.4" stroke="#7f849a" stroke-width="0.9"/>
<line x1="145.4" y1="662" x2="145.4" y2="664.4" stroke="#7f849a" stroke-width="0.9"/>
<line x1="149.6" y1="662" x2="149.6" y2="664.4" stroke="#7f849a" stroke-width="0.9"/>
<line x1="153.8" y1="662" x2="153.8" y2="664.4" stroke="#7f849a" stroke-width="0.9"/>
<line x1="158.0" y1="662" x2="158.0" y2="664.4" stroke="#7f849a" stroke-width="0.9"/>
<line x1="162.1" y1="662" x2="162.1" y2="664.4" stroke="#7f849a" stroke-width="0.9"/>
<line x1="166.3" y1="662" x2="166.3" y2="664.4" stroke="#7f849a" stroke-width="0.9"/>
<line x1="170.5" y1="662" x2="170.5" y2="664.4" stroke="#7f849a" stroke-width="0.9"/>
<line x1="174.7" y1="662" x2="174.7" y2="664.4" stroke="#7f849a" stroke-width="0.9"/>
<line x1="178.9" y1="662" x2="178.9" y2="664.4" stroke="#7f849a" stroke-width="0.9"/>
<line x1="183.0" y1="662" x2="183.0" y2="664.4" stroke="#7f849a" stroke-width="0.9"/>
<line x1="187.2" y1="662" x2="187.2" y2="664.4" stroke="#7f849a" stroke-width="0.9"/>
<line x1="191.4" y1="662" x2="191.4" y2="664.4" stroke="#7f849a" stroke-width="0.9"/>
<line x1="195.6" y1="662" x2="195.6" y2="664.4" stroke="#7f849a" stroke-width="0.9"/>
<line x1="199.7" y1="662" x2="199.7" y2="664.4" stroke="#7f849a" stroke-width="0.9"/>
<line x1="203.9" y1="662" x2="203.9" y2="664.4" stroke="#7f849a" stroke-width="0.9"/>
<line x1="208.1" y1="662" x2="208.1" y2="664.4" stroke="#7f849a" stroke-width="0.9"/>
<line x1="212.3" y1="662" x2="212.3" y2="664.4" stroke="#7f849a" stroke-width="0.9"/>
<line x1="216.4" y1="662" x2="216.4" y2="664.4" stroke="#7f849a" stroke-width="0.9"/>
<line x1="220.6" y1="662" x2="220.6" y2="664.4" stroke="#7f849a" stroke-width="0.9"/>
<line x1="224.8" y1="662" x2="224.8" y2="664.4" stroke="#7f849a" stroke-width="0.9"/>
<line x1="229.0" y1="662" x2="229.0" y2="664.4" stroke="#7f849a" stroke-width="0.9"/>
<line x1="233.2" y1="662" x2="233.2" y2="664.4" stroke="#7f849a" stroke-width="0.9"/>
<line x1="237.3" y1="662" x2="237.3" y2="664.4" stroke="#7f849a" stroke-width="0.9"/>
<line x1="241.5" y1="662" x2="241.5" y2="664.4" stroke="#7f849a" stroke-width="0.9"/>
<line x1="245.7" y1="662" x2="245.7" y2="664.4" stroke="#7f849a" stroke-width="0.9"/>
<line x1="249.9" y1="662" x2="249.9" y2="664.4" stroke="#7f849a" stroke-width="0.9"/>
<line x1="254.0" y1="662" x2="254.0" y2="664.4" stroke="#7f849a" stroke-width="0.9"/>
<line x1="258.2" y1="662" x2="258.2" y2="664.4" stroke="#7f849a" stroke-width="0.9"/>
<line x1="262.4" y1="662" x2="262.4" y2="664.4" stroke="#7f849a" stroke-width="0.9"/>
<line x1="266.6" y1="662" x2="266.6" y2="664.4" stroke="#7f849a" stroke-width="0.9"/>
<line x1="270.7" y1="662" x2="270.7" y2="664.4" stroke="#7f849a" stroke-width="0.9"/>
<line x1="274.9" y1="662" x2="274.9" y2="664.4" stroke="#7f849a" stroke-width="0.9"/>
<line x1="279.1" y1="662" x2="279.1" y2="664.4" stroke="#7f849a" stroke-width="0.9"/>
<line x1="283.3" y1="662" x2="283.3" y2="664.4" stroke="#7f849a" stroke-width="0.9"/>
<line x1="287.5" y1="662" x2="287.5" y2="664.4" stroke="#7f849a" stroke-width="0.9"/>
<line x1="291.6" y1="662" x2="291.6" y2="664.4" stroke="#7f849a" stroke-width="0.9"/>
<line x1="295.8" y1="662" x2="295.8" y2="664.4" stroke="#7f849a" stroke-width="0.9"/>
<line x1="300.0" y1="662" x2="300.0" y2="664.4" stroke="#7f849a" stroke-width="0.9"/>
<line x1="304.2" y1="662" x2="304.2" y2="664.4" stroke="#7f849a" stroke-width="0.9"/>
<line x1="308.3" y1="662" x2="308.3" y2="664.4" stroke="#7f849a" stroke-width="0.9"/>
<line x1="312.5" y1="662" x2="312.5" y2="664.4" stroke="#7f849a" stroke-width="0.9"/>
<line x1="316.7" y1="662" x2="316.7" y2="664.4" stroke="#7f849a" stroke-width="0.9"/>
<line x1="320.9" y1="662" x2="320.9" y2="664.4" stroke="#7f849a" stroke-width="0.9"/>
<line x1="325.1" y1="662" x2="325.1" y2="664.4" stroke="#7f849a" stroke-width="0.9"/>
<line x1="329.2" y1="662" x2="329.2" y2="664.4" stroke="#7f849a" stroke-width="0.9"/>
<line x1="333.4" y1="662" x2="333.4" y2="664.4" stroke="#7f849a" stroke-width="0.9"/>
<line x1="337.6" y1="662" x2="337.6" y2="664.4" stroke="#7f849a" stroke-width="0.9"/>
<line x1="341.8" y1="662" x2="341.8" y2="664.4" stroke="#7f849a" stroke-width="0.9"/>
<line x1="345.9" y1="662" x2="345.9" y2="664.4" stroke="#7f849a" stroke-width="0.9"/>
<line x1="350.1" y1="662" x2="350.1" y2="664.4" stroke="#7f849a" stroke-width="0.9"/>
<line x1="354.3" y1="662" x2="354.3" y2="664.4" stroke="#7f849a" stroke-width="0.9"/>
<line x1="358.5" y1="662" x2="358.5" y2="664.4" stroke="#7f849a" stroke-width="0.9"/>
<line x1="362.6" y1="662" x2="362.6" y2="664.4" stroke="#7f849a" stroke-width="0.9"/>
<line x1="366.8" y1="662" x2="366.8" y2="664.4" stroke="#7f849a" stroke-width="0.9"/>
<line x1="371.0" y1="662" x2="371.0" y2="664.4" stroke="#7f849a" stroke-width="0.9"/>
<line x1="375.2" y1="662" x2="375.2" y2="664.4" stroke="#7f849a" stroke-width="0.9"/>
<line x1="379.4" y1="662" x2="379.4" y2="664.4" stroke="#7f849a" stroke-width="0.9"/>
<line x1="383.5" y1="662" x2="383.5" y2="664.4" stroke="#7f849a" stroke-width="0.9"/>
<line x1="387.7" y1="662" x2="387.7" y2="664.4" stroke="#7f849a" stroke-width="0.9"/>
<line x1="391.9" y1="662" x2="391.9" y2="664.4" stroke="#7f849a" stroke-width="0.9"/>
<line x1="396.1" y1="662" x2="396.1" y2="664.4" stroke="#7f849a" stroke-width="0.9"/>
<line x1="400.2" y1="662" x2="400.2" y2="664.4" stroke="#7f849a" stroke-width="0.9"/>
<line x1="404.4" y1="662" x2="404.4" y2="664.4" stroke="#7f849a" stroke-width="0.9"/>
<line x1="408.6" y1="662" x2="408.6" y2="664.4" stroke="#7f849a" stroke-width="0.9"/>
<line x1="412.8" y1="662" x2="412.8" y2="664.4" stroke="#7f849a" stroke-width="0.9"/>
<line x1="416.9" y1="662" x2="416.9" y2="664.4" stroke="#7f849a" stroke-width="0.9"/>
<line x1="421.1" y1="662" x2="421.1" y2="664.4" stroke="#7f849a" stroke-width="0.9"/>
<line x1="425.3" y1="662" x2="425.3" y2="664.4" stroke="#7f849a" stroke-width="0.9"/>
<line x1="429.5" y1="662" x2="429.5" y2="664.4" stroke="#7f849a" stroke-width="0.9"/>
<line x1="433.7" y1="662" x2="433.7" y2="664.4" stroke="#7f849a" stroke-width="0.9"/>
<line x1="437.8" y1="662" x2="437.8" y2="664.4" stroke="#7f849a" stroke-width="0.9"/>
<line x1="442.0" y1="662" x2="442.0" y2="664.4" stroke="#7f849a" stroke-width="0.9"/>
<line x1="446.2" y1="662" x2="446.2" y2="664.4" stroke="#7f849a" stroke-width="0.9"/>
<line x1="450.4" y1="662" x2="450.4" y2="664.4" stroke="#7f849a" stroke-width="0.9"/>
<line x1="454.5" y1="662" x2="454.5" y2="664.4" stroke="#7f849a" stroke-width="0.9"/>
<line x1="458.7" y1="662" x2="458.7" y2="664.4" stroke="#7f849a" stroke-width="0.9"/>
<line x1="462.9" y1="662" x2="462.9" y2="664.4" stroke="#7f849a" stroke-width="0.9"/>
<line x1="467.1" y1="662" x2="467.1" y2="664.4" stroke="#7f849a" stroke-width="0.9"/>
<line x1="471.2" y1="662" x2="471.2" y2="664.4" stroke="#7f849a" stroke-width="0.9"/>
<line x1="475.4" y1="662" x2="475.4" y2="664.4" stroke="#7f849a" stroke-width="0.9"/>
<line x1="479.6" y1="662" x2="479.6" y2="664.4" stroke="#7f849a" stroke-width="0.9"/>
<line x1="483.8" y1="662" x2="483.8" y2="664.4" stroke="#7f849a" stroke-width="0.9"/>
<line x1="488.0" y1="662" x2="488.0" y2="664.4" stroke="#7f849a" stroke-width="0.9"/>
<line x1="492.1" y1="662" x2="492.1" y2="664.4" stroke="#7f849a" stroke-width="0.9"/>
<line x1="496.3" y1="662" x2="496.3" y2="664.4" stroke="#7f849a" stroke-width="0.9"/>
<line x1="500.5" y1="662" x2="500.5" y2="664.4" stroke="#7f849a" stroke-width="0.9"/>
<line x1="504.7" y1="662" x2="504.7" y2="664.4" stroke="#7f849a" stroke-width="0.9"/>
<line x1="508.8" y1="662" x2="508.8" y2="664.4" stroke="#7f849a" stroke-width="0.9"/>
<line x1="513.0" y1="662" x2="513.0" y2="664.4" stroke="#7f849a" stroke-width="0.9"/>
<line x1="517.2" y1="662" x2="517.2" y2="664.4" stroke="#7f849a" stroke-width="0.9"/>
<line x1="521.4" y1="662" x2="521.4" y2="664.4" stroke="#7f849a" stroke-width="0.9"/>
<line x1="525.5" y1="662" x2="525.5" y2="664.4" stroke="#7f849a" stroke-width="0.9"/>
<line x1="529.7" y1="662" x2="529.7" y2="664.4" stroke="#7f849a" stroke-width="0.9"/>
<line x1="533.9" y1="662" x2="533.9" y2="664.4" stroke="#7f849a" stroke-width="0.9"/>
<line x1="538.1" y1="662" x2="538.1" y2="664.4" stroke="#7f849a" stroke-width="0.9"/>
<line x1="542.3" y1="662" x2="542.3" y2="664.4" stroke="#7f849a" stroke-width="0.9"/>
<line x1="546.4" y1="662" x2="546.4" y2="664.4" stroke="#7f849a" stroke-width="0.9"/>
<line x1="550.6" y1="662" x2="550.6" y2="664.4" stroke="#7f849a" stroke-width="0.9"/>
<line x1="554.8" y1="662" x2="554.8" y2="664.4" stroke="#7f849a" stroke-width="0.9"/>
<line x1="559.0" y1="662" x2="559.0" y2="664.4" stroke="#7f849a" stroke-width="0.9"/>
<line x1="563.1" y1="662" x2="563.1" y2="664.4" stroke="#7f849a" stroke-width="0.9"/>
<line x1="567.3" y1="662" x2="567.3" y2="664.4" stroke="#7f849a" stroke-width="0.9"/>
<line x1="571.5" y1="662" x2="571.5" y2="664.4" stroke="#7f849a" stroke-width="0.9"/>
<line x1="575.7" y1="662" x2="575.7" y2="664.4" stroke="#7f849a" stroke-width="0.9"/>
<line x1="579.8" y1="662" x2="579.8" y2="664.4" stroke="#7f849a" stroke-width="0.9"/>
<line x1="584.0" y1="662" x2="584.0" y2="664.4" stroke="#7f849a" stroke-width="0.9"/>
<line x1="588.2" y1="662" x2="588.2" y2="664.4" stroke="#7f849a" stroke-width="0.9"/>
<line x1="592.4" y1="662" x2="592.4" y2="664.4" stroke="#7f849a" stroke-width="0.9"/>
<line x1="596.6" y1="662" x2="596.6" y2="664.4" stroke="#7f849a" stroke-width="0.9"/>
<line x1="600.7" y1="662" x2="600.7" y2="664.4" stroke="#7f849a" stroke-width="0.9"/>
<line x1="604.9" y1="662" x2="604.9" y2="664.4" stroke="#7f849a" stroke-width="0.9"/>
<line x1="609.1" y1="662" x2="609.1" y2="664.4" stroke="#7f849a" stroke-width="0.9"/>
<line x1="613.3" y1="662" x2="613.3" y2="664.4" stroke="#7f849a" stroke-width="0.9"/>
<line x1="617.4" y1="662" x2="617.4" y2="664.4" stroke="#7f849a" stroke-width="0.9"/>
<line x1="621.6" y1="662" x2="621.6" y2="664.4" stroke="#7f849a" stroke-width="0.9"/>
<line x1="625.8" y1="662" x2="625.8" y2="664.4" stroke="#7f849a" stroke-width="0.9"/>
<line x1="630.0" y1="662" x2="630.0" y2="664.4" stroke="#7f849a" stroke-width="0.9"/>
<line x1="634.1" y1="662" x2="634.1" y2="664.4" stroke="#7f849a" stroke-width="0.9"/>
<line x1="638.3" y1="662" x2="638.3" y2="664.4" stroke="#7f849a" stroke-width="0.9"/>
<line x1="642.5" y1="662" x2="642.5" y2="664.4" stroke="#7f849a" stroke-width="0.9"/>
<line x1="646.7" y1="662" x2="646.7" y2="664.4" stroke="#7f849a" stroke-width="0.9"/>
<line x1="650.9" y1="662" x2="650.9" y2="664.4" stroke="#7f849a" stroke-width="0.9"/>
<line x1="655.0" y1="662" x2="655.0" y2="664.4" stroke="#7f849a" stroke-width="0.9"/>
<line x1="659.2" y1="662" x2="659.2" y2="664.4" stroke="#7f849a" stroke-width="0.9"/>
<line x1="663.4" y1="662" x2="663.4" y2="664.4" stroke="#7f849a" stroke-width="0.9"/>
<line x1="667.6" y1="662" x2="667.6" y2="664.4" stroke="#7f849a" stroke-width="0.9"/>
<line x1="671.7" y1="662" x2="671.7" y2="664.4" stroke="#7f849a" stroke-width="0.9"/>
<line x1="675.9" y1="662" x2="675.9" y2="664.4" stroke="#7f849a" stroke-width="0.9"/>
<line x1="680.1" y1="662" x2="680.1" y2="664.4" stroke="#7f849a" stroke-width="0.9"/>
<line x1="684.3" y1="662" x2="684.3" y2="664.4" stroke="#7f849a" stroke-width="0.9"/>
<line x1="688.4" y1="662" x2="688.4" y2="664.4" stroke="#7f849a" stroke-width="0.9"/>
<line x1="692.6" y1="662" x2="692.6" y2="664.4" stroke="#7f849a" stroke-width="0.9"/>
<line x1="696.8" y1="662" x2="696.8" y2="664.4" stroke="#7f849a" stroke-width="0.9"/>
<line x1="701.0" y1="662" x2="701.0" y2="664.4" stroke="#7f849a" stroke-width="0.9"/>
<line x1="705.2" y1="662" x2="705.2" y2="664.4" stroke="#7f849a" stroke-width="0.9"/>
<line x1="709.3" y1="662" x2="709.3" y2="664.4" stroke="#7f849a" stroke-width="0.9"/>
<line x1="713.5" y1="662" x2="713.5" y2="664.4" stroke="#7f849a" stroke-width="0.9"/>
<line x1="717.7" y1="662" x2="717.7" y2="664.4" stroke="#7f849a" stroke-width="0.9"/>
<line x1="721.9" y1="662" x2="721.9" y2="664.4" stroke="#7f849a" stroke-width="0.9"/>
<line x1="726.0" y1="662" x2="726.0" y2="664.4" stroke="#7f849a" stroke-width="0.9"/>
<line x1="730.2" y1="662" x2="730.2" y2="664.4" stroke="#7f849a" stroke-width="0.9"/>
<line x1="734.4" y1="662" x2="734.4" y2="664.4" stroke="#7f849a" stroke-width="0.9"/>
<line x1="738.6" y1="662" x2="738.6" y2="664.4" stroke="#7f849a" stroke-width="0.9"/>
<line x1="742.8" y1="662" x2="742.8" y2="664.4" stroke="#7f849a" stroke-width="0.9"/>
<line x1="746.9" y1="662" x2="746.9" y2="664.4" stroke="#7f849a" stroke-width="0.9"/>
<line x1="751.1" y1="662" x2="751.1" y2="664.4" stroke="#7f849a" stroke-width="0.9"/>
<line x1="755.3" y1="662" x2="755.3" y2="664.4" stroke="#7f849a" stroke-width="0.9"/>
<line x1="759.5" y1="662" x2="759.5" y2="664.4" stroke="#7f849a" stroke-width="0.9"/>
<line x1="763.6" y1="662" x2="763.6" y2="664.4" stroke="#7f849a" stroke-width="0.9"/>
<line x1="767.8" y1="662" x2="767.8" y2="664.4" stroke="#7f849a" stroke-width="0.9"/>
<line x1="772.0" y1="662" x2="772.0" y2="664.4" stroke="#7f849a" stroke-width="0.9"/>
<line x1="776.2" y1="662" x2="776.2" y2="664.4" stroke="#7f849a" stroke-width="0.9"/>
<line x1="780.3" y1="662" x2="780.3" y2="664.4" stroke="#7f849a" stroke-width="0.9"/>
<line x1="784.5" y1="662" x2="784.5" y2="664.4" stroke="#7f849a" stroke-width="0.9"/>
<line x1="788.7" y1="662" x2="788.7" y2="664.4" stroke="#7f849a" stroke-width="0.9"/>
<line x1="792.9" y1="662" x2="792.9" y2="664.4" stroke="#7f849a" stroke-width="0.9"/>
<line x1="797.1" y1="662" x2="797.1" y2="664.4" stroke="#7f849a" stroke-width="0.9"/>
<line x1="801.2" y1="662" x2="801.2" y2="664.4" stroke="#7f849a" stroke-width="0.9"/>
<line x1="805.4" y1="662" x2="805.4" y2="664.4" stroke="#7f849a" stroke-width="0.9"/>
<line x1="809.6" y1="662" x2="809.6" y2="664.4" stroke="#7f849a" stroke-width="0.9"/>
<line x1="813.8" y1="662" x2="813.8" y2="664.4" stroke="#7f849a" stroke-width="0.9"/>
<line x1="817.9" y1="662" x2="817.9" y2="664.4" stroke="#7f849a" stroke-width="0.9"/>
<line x1="822.1" y1="662" x2="822.1" y2="664.4" stroke="#7f849a" stroke-width="0.9"/>
<line x1="826.3" y1="662" x2="826.3" y2="664.4" stroke="#7f849a" stroke-width="0.9"/>
<line x1="830.5" y1="662" x2="830.5" y2="664.4" stroke="#7f849a" stroke-width="0.9"/>
<line x1="834.6" y1="662" x2="834.6" y2="664.4" stroke="#7f849a" stroke-width="0.9"/>
<line x1="838.8" y1="662" x2="838.8" y2="664.4" stroke="#7f849a" stroke-width="0.9"/>
<line x1="843.0" y1="662" x2="843.0" y2="664.4" stroke="#7f849a" stroke-width="0.9"/>
<line x1="847.2" y1="662" x2="847.2" y2="664.4" stroke="#7f849a" stroke-width="0.9"/>
<line x1="851.4" y1="662" x2="851.4" y2="664.4" stroke="#7f849a" stroke-width="0.9"/>
<line x1="855.5" y1="662" x2="855.5" y2="664.4" stroke="#7f849a" stroke-width="0.9"/>
<line x1="859.7" y1="662" x2="859.7" y2="664.4" stroke="#7f849a" stroke-width="0.9"/>
<line x1="863.9" y1="662" x2="863.9" y2="664.4" stroke="#7f849a" stroke-width="0.9"/>
<line x1="868.1" y1="662" x2="868.1" y2="664.4" stroke="#7f849a" stroke-width="0.9"/>
<line x1="872.2" y1="662" x2="872.2" y2="664.4" stroke="#7f849a" stroke-width="0.9"/>
<line x1="876.4" y1="662" x2="876.4" y2="664.4" stroke="#7f849a" stroke-width="0.9"/>
<line x1="880.6" y1="662" x2="880.6" y2="664.4" stroke="#7f849a" stroke-width="0.9"/>
<line x1="884.8" y1="662" x2="884.8" y2="664.4" stroke="#7f849a" stroke-width="0.9"/>
<line x1="888.9" y1="662" x2="888.9" y2="664.4" stroke="#7f849a" stroke-width="0.9"/>
<line x1="893.1" y1="662" x2="893.1" y2="664.4" stroke="#7f849a" stroke-width="0.9"/>
<line x1="897.3" y1="662" x2="897.3" y2="664.4" stroke="#7f849a" stroke-width="0.9"/>
<line x1="901.5" y1="662" x2="901.5" y2="664.4" stroke="#7f849a" stroke-width="0.9"/>
<line x1="905.7" y1="662" x2="905.7" y2="664.4" stroke="#7f849a" stroke-width="0.9"/>
<line x1="909.8" y1="662" x2="909.8" y2="664.4" stroke="#7f849a" stroke-width="0.9"/>
<line x1="914.0" y1="662" x2="914.0" y2="664.4" stroke="#7f849a" stroke-width="0.9"/>
<line x1="918.2" y1="662" x2="918.2" y2="664.4" stroke="#7f849a" stroke-width="0.9"/>
<line x1="922.4" y1="662" x2="922.4" y2="664.4" stroke="#7f849a" stroke-width="0.9"/>
<line x1="926.5" y1="662" x2="926.5" y2="664.4" stroke="#7f849a" stroke-width="0.9"/>
<line x1="930.7" y1="662" x2="930.7" y2="664.4" stroke="#7f849a" stroke-width="0.9"/>
<line x1="934.9" y1="662" x2="934.9" y2="664.4" stroke="#7f849a" stroke-width="0.9"/>
<line x1="939.1" y1="662" x2="939.1" y2="664.4" stroke="#7f849a" stroke-width="0.9"/>
<line x1="943.2" y1="662" x2="943.2" y2="664.4" stroke="#7f849a" stroke-width="0.9"/>
<line x1="947.4" y1="662" x2="947.4" y2="664.4" stroke="#7f849a" stroke-width="0.9"/>
<line x1="951.6" y1="662" x2="951.6" y2="664.4" stroke="#7f849a" stroke-width="0.9"/>
<line x1="955.8" y1="662" x2="955.8" y2="664.4" stroke="#7f849a" stroke-width="0.9"/>
<line x1="960.0" y1="662" x2="960.0" y2="664.4" stroke="#7f849a" stroke-width="0.9"/>
<line x1="964.1" y1="662" x2="964.1" y2="664.4" stroke="#7f849a" stroke-width="0.9"/>
<line x1="968.3" y1="662" x2="968.3" y2="664.4" stroke="#7f849a" stroke-width="0.9"/>
<line x1="972.5" y1="662" x2="972.5" y2="664.4" stroke="#7f849a" stroke-width="0.9"/>
<line x1="976.7" y1="662" x2="976.7" y2="664.4" stroke="#7f849a" stroke-width="0.9"/>
<line x1="980.8" y1="662" x2="980.8" y2="664.4" stroke="#7f849a" stroke-width="0.9"/>
<line x1="985.0" y1="662" x2="985.0" y2="664.4" stroke="#7f849a" stroke-width="0.9"/>
<line x1="989.2" y1="662" x2="989.2" y2="664.4" stroke="#7f849a" stroke-width="0.9"/>
<line x1="993.4" y1="662" x2="993.4" y2="664.4" stroke="#7f849a" stroke-width="0.9"/>
<line x1="997.5" y1="662" x2="997.5" y2="664.4" stroke="#7f849a" stroke-width="0.9"/>
<line x1="1001.7" y1="662" x2="1001.7" y2="664.4" stroke="#7f849a" stroke-width="0.9"/>
<line x1="1005.9" y1="662" x2="1005.9" y2="664.4" stroke="#7f849a" stroke-width="0.9"/>
<line x1="1010.1" y1="662" x2="1010.1" y2="664.4" stroke="#7f849a" stroke-width="0.9"/>
<line x1="1014.3" y1="662" x2="1014.3" y2="664.4" stroke="#7f849a" stroke-width="0.9"/>
<line x1="1018.4" y1="662" x2="1018.4" y2="664.4" stroke="#7f849a" stroke-width="0.9"/>
<line x1="1022.6" y1="662" x2="1022.6" y2="664.4" stroke="#7f849a" stroke-width="0.9"/>
<line x1="1026.8" y1="662" x2="1026.8" y2="664.4" stroke="#7f849a" stroke-width="0.9"/>
<line x1="1031.0" y1="662" x2="1031.0" y2="664.4" stroke="#7f849a" stroke-width="0.9"/>
<line x1="1035.1" y1="662" x2="1035.1" y2="664.4" stroke="#7f849a" stroke-width="0.9"/>
<line x1="1039.3" y1="662" x2="1039.3" y2="664.4" stroke="#7f849a" stroke-width="0.9"/>
<line x1="1043.5" y1="662" x2="1043.5" y2="664.4" stroke="#7f849a" stroke-width="0.9"/>
<line x1="1047.7" y1="662" x2="1047.7" y2="664.4" stroke="#7f849a" stroke-width="0.9"/>
<line x1="1051.8" y1="662" x2="1051.8" y2="664.4" stroke="#7f849a" stroke-width="0.9"/>
<line x1="1056.0" y1="662" x2="1056.0" y2="664.4" stroke="#7f849a" stroke-width="0.9"/>
<line x1="1060.2" y1="662" x2="1060.2" y2="664.4" stroke="#7f849a" stroke-width="0.9"/>
<line x1="1064.4" y1="662" x2="1064.4" y2="664.4" stroke="#7f849a" stroke-width="0.9"/>
<line x1="1068.6" y1="662" x2="1068.6" y2="664.4" stroke="#7f849a" stroke-width="0.9"/>
<line x1="1072.7" y1="662" x2="1072.7" y2="664.4" stroke="#7f849a" stroke-width="0.9"/>
<line x1="1076.9" y1="662" x2="1076.9" y2="664.4" stroke="#7f849a" stroke-width="0.9"/>
<line x1="1081.1" y1="662" x2="1081.1" y2="664.4" stroke="#7f849a" stroke-width="0.9"/>
<line x1="1085.3" y1="662" x2="1085.3" y2="664.4" stroke="#7f849a" stroke-width="0.9"/>
<line x1="1089.4" y1="662" x2="1089.4" y2="664.4" stroke="#7f849a" stroke-width="0.9"/>
<line x1="1093.6" y1="662" x2="1093.6" y2="664.4" stroke="#7f849a" stroke-width="0.9"/>
<line x1="1097.8" y1="662" x2="1097.8" y2="664.4" stroke="#7f849a" stroke-width="0.9"/>
<line x1="1102.0" y1="662" x2="1102.0" y2="664.4" stroke="#7f849a" stroke-width="0.9"/>
<line x1="1106.2" y1="662" x2="1106.2" y2="664.4" stroke="#7f849a" stroke-width="0.9"/>
<line x1="1110.3" y1="662" x2="1110.3" y2="664.4" stroke="#7f849a" stroke-width="0.9"/>
<line x1="1114.5" y1="662" x2="1114.5" y2="664.4" stroke="#7f849a" stroke-width="0.9"/>
<line x1="61.9" y1="847.3" x2="61.9" y2="849.6999999999999" stroke="#7f849a" stroke-width="0.9"/>
<line x1="66.1" y1="847.3" x2="66.1" y2="849.6999999999999" stroke="#7f849a" stroke-width="0.9"/>
<line x1="70.3" y1="847.3" x2="70.3" y2="849.6999999999999" stroke="#7f849a" stroke-width="0.9"/>
<line x1="74.4" y1="847.3" x2="74.4" y2="849.6999999999999" stroke="#7f849a" stroke-width="0.9"/>
<line x1="78.6" y1="847.3" x2="78.6" y2="849.6999999999999" stroke="#7f849a" stroke-width="0.9"/>
<line x1="82.8" y1="847.3" x2="82.8" y2="849.6999999999999" stroke="#7f849a" stroke-width="0.9"/>
<line x1="87.0" y1="847.3" x2="87.0" y2="849.6999999999999" stroke="#7f849a" stroke-width="0.9"/>
<line x1="91.1" y1="847.3" x2="91.1" y2="849.6999999999999" stroke="#7f849a" stroke-width="0.9"/>
<line x1="95.3" y1="847.3" x2="95.3" y2="849.6999999999999" stroke="#7f849a" stroke-width="0.9"/>
<line x1="99.5" y1="847.3" x2="99.5" y2="849.6999999999999" stroke="#7f849a" stroke-width="0.9"/>
<line x1="103.7" y1="847.3" x2="103.7" y2="849.6999999999999" stroke="#7f849a" stroke-width="0.9"/>
<line x1="107.8" y1="847.3" x2="107.8" y2="849.6999999999999" stroke="#7f849a" stroke-width="0.9"/>
<line x1="112.0" y1="847.3" x2="112.0" y2="849.6999999999999" stroke="#7f849a" stroke-width="0.9"/>
<line x1="116.2" y1="847.3" x2="116.2" y2="849.6999999999999" stroke="#7f849a" stroke-width="0.9"/>
<line x1="120.4" y1="847.3" x2="120.4" y2="849.6999999999999" stroke="#7f849a" stroke-width="0.9"/>
<line x1="124.6" y1="847.3" x2="124.6" y2="849.6999999999999" stroke="#7f849a" stroke-width="0.9"/>
<line x1="128.7" y1="847.3" x2="128.7" y2="849.6999999999999" stroke="#7f849a" stroke-width="0.9"/>
<line x1="132.9" y1="847.3" x2="132.9" y2="849.6999999999999" stroke="#7f849a" stroke-width="0.9"/>
<line x1="137.1" y1="847.3" x2="137.1" y2="849.6999999999999" stroke="#7f849a" stroke-width="0.9"/>
<line x1="141.3" y1="847.3" x2="141.3" y2="849.6999999999999" stroke="#7f849a" stroke-width="0.9"/>
<line x1="145.4" y1="847.3" x2="145.4" y2="849.6999999999999" stroke="#7f849a" stroke-width="0.9"/>
<line x1="149.6" y1="847.3" x2="149.6" y2="849.6999999999999" stroke="#7f849a" stroke-width="0.9"/>
<line x1="153.8" y1="847.3" x2="153.8" y2="849.6999999999999" stroke="#7f849a" stroke-width="0.9"/>
<line x1="158.0" y1="847.3" x2="158.0" y2="849.6999999999999" stroke="#7f849a" stroke-width="0.9"/>
<line x1="162.1" y1="847.3" x2="162.1" y2="849.6999999999999" stroke="#7f849a" stroke-width="0.9"/>
<line x1="166.3" y1="847.3" x2="166.3" y2="849.6999999999999" stroke="#7f849a" stroke-width="0.9"/>
<line x1="170.5" y1="847.3" x2="170.5" y2="849.6999999999999" stroke="#7f849a" stroke-width="0.9"/>
<line x1="174.7" y1="847.3" x2="174.7" y2="849.6999999999999" stroke="#7f849a" stroke-width="0.9"/>
<line x1="178.9" y1="847.3" x2="178.9" y2="849.6999999999999" stroke="#7f849a" stroke-width="0.9"/>
<line x1="183.0" y1="847.3" x2="183.0" y2="849.6999999999999" stroke="#7f849a" stroke-width="0.9"/>
<line x1="187.2" y1="847.3" x2="187.2" y2="849.6999999999999" stroke="#7f849a" stroke-width="0.9"/>
<line x1="191.4" y1="847.3" x2="191.4" y2="849.6999999999999" stroke="#7f849a" stroke-width="0.9"/>
<line x1="195.6" y1="847.3" x2="195.6" y2="849.6999999999999" stroke="#7f849a" stroke-width="0.9"/>
<line x1="199.7" y1="847.3" x2="199.7" y2="849.6999999999999" stroke="#7f849a" stroke-width="0.9"/>
<line x1="203.9" y1="847.3" x2="203.9" y2="849.6999999999999" stroke="#7f849a" stroke-width="0.9"/>
<line x1="208.1" y1="847.3" x2="208.1" y2="849.6999999999999" stroke="#7f849a" stroke-width="0.9"/>
<line x1="212.3" y1="847.3" x2="212.3" y2="849.6999999999999" stroke="#7f849a" stroke-width="0.9"/>
<line x1="216.4" y1="847.3" x2="216.4" y2="849.6999999999999" stroke="#7f849a" stroke-width="0.9"/>
<line x1="220.6" y1="847.3" x2="220.6" y2="849.6999999999999" stroke="#7f849a" stroke-width="0.9"/>
<line x1="224.8" y1="847.3" x2="224.8" y2="849.6999999999999" stroke="#7f849a" stroke-width="0.9"/>
<line x1="229.0" y1="847.3" x2="229.0" y2="849.6999999999999" stroke="#7f849a" stroke-width="0.9"/>
<line x1="233.2" y1="847.3" x2="233.2" y2="849.6999999999999" stroke="#7f849a" stroke-width="0.9"/>
<line x1="237.3" y1="847.3" x2="237.3" y2="849.6999999999999" stroke="#7f849a" stroke-width="0.9"/>
<line x1="241.5" y1="847.3" x2="241.5" y2="849.6999999999999" stroke="#7f849a" stroke-width="0.9"/>
<line x1="245.7" y1="847.3" x2="245.7" y2="849.6999999999999" stroke="#7f849a" stroke-width="0.9"/>
<line x1="249.9" y1="847.3" x2="249.9" y2="849.6999999999999" stroke="#7f849a" stroke-width="0.9"/>
<line x1="254.0" y1="847.3" x2="254.0" y2="849.6999999999999" stroke="#7f849a" stroke-width="0.9"/>
<line x1="258.2" y1="847.3" x2="258.2" y2="849.6999999999999" stroke="#7f849a" stroke-width="0.9"/>
<line x1="262.4" y1="847.3" x2="262.4" y2="849.6999999999999" stroke="#7f849a" stroke-width="0.9"/>
<line x1="266.6" y1="847.3" x2="266.6" y2="849.6999999999999" stroke="#7f849a" stroke-width="0.9"/>
<line x1="270.7" y1="847.3" x2="270.7" y2="849.6999999999999" stroke="#7f849a" stroke-width="0.9"/>
<line x1="274.9" y1="847.3" x2="274.9" y2="849.6999999999999" stroke="#7f849a" stroke-width="0.9"/>
<line x1="279.1" y1="847.3" x2="279.1" y2="849.6999999999999" stroke="#7f849a" stroke-width="0.9"/>
<line x1="283.3" y1="847.3" x2="283.3" y2="849.6999999999999" stroke="#7f849a" stroke-width="0.9"/>
<line x1="287.5" y1="847.3" x2="287.5" y2="849.6999999999999" stroke="#7f849a" stroke-width="0.9"/>
<line x1="291.6" y1="847.3" x2="291.6" y2="849.6999999999999" stroke="#7f849a" stroke-width="0.9"/>
<line x1="295.8" y1="847.3" x2="295.8" y2="849.6999999999999" stroke="#7f849a" stroke-width="0.9"/>
<line x1="300.0" y1="847.3" x2="300.0" y2="849.6999999999999" stroke="#7f849a" stroke-width="0.9"/>
<line x1="304.2" y1="847.3" x2="304.2" y2="849.6999999999999" stroke="#7f849a" stroke-width="0.9"/>
<line x1="308.3" y1="847.3" x2="308.3" y2="849.6999999999999" stroke="#7f849a" stroke-width="0.9"/>
<line x1="312.5" y1="847.3" x2="312.5" y2="849.6999999999999" stroke="#7f849a" stroke-width="0.9"/>
<line x1="316.7" y1="847.3" x2="316.7" y2="849.6999999999999" stroke="#7f849a" stroke-width="0.9"/>
<line x1="320.9" y1="847.3" x2="320.9" y2="849.6999999999999" stroke="#7f849a" stroke-width="0.9"/>
<line x1="325.1" y1="847.3" x2="325.1" y2="849.6999999999999" stroke="#7f849a" stroke-width="0.9"/>
<line x1="329.2" y1="847.3" x2="329.2" y2="849.6999999999999" stroke="#7f849a" stroke-width="0.9"/>
<line x1="333.4" y1="847.3" x2="333.4" y2="849.6999999999999" stroke="#7f849a" stroke-width="0.9"/>
<line x1="337.6" y1="847.3" x2="337.6" y2="849.6999999999999" stroke="#7f849a" stroke-width="0.9"/>
<line x1="341.8" y1="847.3" x2="341.8" y2="849.6999999999999" stroke="#7f849a" stroke-width="0.9"/>
<line x1="345.9" y1="847.3" x2="345.9" y2="849.6999999999999" stroke="#7f849a" stroke-width="0.9"/>
<line x1="350.1" y1="847.3" x2="350.1" y2="849.6999999999999" stroke="#7f849a" stroke-width="0.9"/>
<line x1="354.3" y1="847.3" x2="354.3" y2="849.6999999999999" stroke="#7f849a" stroke-width="0.9"/>
<line x1="358.5" y1="847.3" x2="358.5" y2="849.6999999999999" stroke="#7f849a" stroke-width="0.9"/>
<line x1="362.6" y1="847.3" x2="362.6" y2="849.6999999999999" stroke="#7f849a" stroke-width="0.9"/>
<line x1="366.8" y1="847.3" x2="366.8" y2="849.6999999999999" stroke="#7f849a" stroke-width="0.9"/>
<line x1="371.0" y1="847.3" x2="371.0" y2="849.6999999999999" stroke="#7f849a" stroke-width="0.9"/>
<line x1="375.2" y1="847.3" x2="375.2" y2="849.6999999999999" stroke="#7f849a" stroke-width="0.9"/>
<line x1="379.4" y1="847.3" x2="379.4" y2="849.6999999999999" stroke="#7f849a" stroke-width="0.9"/>
<line x1="383.5" y1="847.3" x2="383.5" y2="849.6999999999999" stroke="#7f849a" stroke-width="0.9"/>
<line x1="387.7" y1="847.3" x2="387.7" y2="849.6999999999999" stroke="#7f849a" stroke-width="0.9"/>
<line x1="391.9" y1="847.3" x2="391.9" y2="849.6999999999999" stroke="#7f849a" stroke-width="0.9"/>
<line x1="396.1" y1="847.3" x2="396.1" y2="849.6999999999999" stroke="#7f849a" stroke-width="0.9"/>
<line x1="400.2" y1="847.3" x2="400.2" y2="849.6999999999999" stroke="#7f849a" stroke-width="0.9"/>
<line x1="404.4" y1="847.3" x2="404.4" y2="849.6999999999999" stroke="#7f849a" stroke-width="0.9"/>
<line x1="408.6" y1="847.3" x2="408.6" y2="849.6999999999999" stroke="#7f849a" stroke-width="0.9"/>
<line x1="412.8" y1="847.3" x2="412.8" y2="849.6999999999999" stroke="#7f849a" stroke-width="0.9"/>
<line x1="416.9" y1="847.3" x2="416.9" y2="849.6999999999999" stroke="#7f849a" stroke-width="0.9"/>
<line x1="421.1" y1="847.3" x2="421.1" y2="849.6999999999999" stroke="#7f849a" stroke-width="0.9"/>
<line x1="425.3" y1="847.3" x2="425.3" y2="849.6999999999999" stroke="#7f849a" stroke-width="0.9"/>
<line x1="429.5" y1="847.3" x2="429.5" y2="849.6999999999999" stroke="#7f849a" stroke-width="0.9"/>
<line x1="433.7" y1="847.3" x2="433.7" y2="849.6999999999999" stroke="#7f849a" stroke-width="0.9"/>
<line x1="437.8" y1="847.3" x2="437.8" y2="849.6999999999999" stroke="#7f849a" stroke-width="0.9"/>
<line x1="442.0" y1="847.3" x2="442.0" y2="849.6999999999999" stroke="#7f849a" stroke-width="0.9"/>
<line x1="446.2" y1="847.3" x2="446.2" y2="849.6999999999999" stroke="#7f849a" stroke-width="0.9"/>
<line x1="450.4" y1="847.3" x2="450.4" y2="849.6999999999999" stroke="#7f849a" stroke-width="0.9"/>
<line x1="454.5" y1="847.3" x2="454.5" y2="849.6999999999999" stroke="#7f849a" stroke-width="0.9"/>
<line x1="458.7" y1="847.3" x2="458.7" y2="849.6999999999999" stroke="#7f849a" stroke-width="0.9"/>
<line x1="462.9" y1="847.3" x2="462.9" y2="849.6999999999999" stroke="#7f849a" stroke-width="0.9"/>
<line x1="467.1" y1="847.3" x2="467.1" y2="849.6999999999999" stroke="#7f849a" stroke-width="0.9"/>
<line x1="471.2" y1="847.3" x2="471.2" y2="849.6999999999999" stroke="#7f849a" stroke-width="0.9"/>
<line x1="475.4" y1="847.3" x2="475.4" y2="849.6999999999999" stroke="#7f849a" stroke-width="0.9"/>
<line x1="479.6" y1="847.3" x2="479.6" y2="849.6999999999999" stroke="#7f849a" stroke-width="0.9"/>
<line x1="483.8" y1="847.3" x2="483.8" y2="849.6999999999999" stroke="#7f849a" stroke-width="0.9"/>
<line x1="488.0" y1="847.3" x2="488.0" y2="849.6999999999999" stroke="#7f849a" stroke-width="0.9"/>
<line x1="492.1" y1="847.3" x2="492.1" y2="849.6999999999999" stroke="#7f849a" stroke-width="0.9"/>
<line x1="496.3" y1="847.3" x2="496.3" y2="849.6999999999999" stroke="#7f849a" stroke-width="0.9"/>
<line x1="500.5" y1="847.3" x2="500.5" y2="849.6999999999999" stroke="#7f849a" stroke-width="0.9"/>
<line x1="504.7" y1="847.3" x2="504.7" y2="849.6999999999999" stroke="#7f849a" stroke-width="0.9"/>
<line x1="508.8" y1="847.3" x2="508.8" y2="849.6999999999999" stroke="#7f849a" stroke-width="0.9"/>
<line x1="513.0" y1="847.3" x2="513.0" y2="849.6999999999999" stroke="#7f849a" stroke-width="0.9"/>
<line x1="517.2" y1="847.3" x2="517.2" y2="849.6999999999999" stroke="#7f849a" stroke-width="0.9"/>
<line x1="521.4" y1="847.3" x2="521.4" y2="849.6999999999999" stroke="#7f849a" stroke-width="0.9"/>
<line x1="525.5" y1="847.3" x2="525.5" y2="849.6999999999999" stroke="#7f849a" stroke-width="0.9"/>
<line x1="529.7" y1="847.3" x2="529.7" y2="849.6999999999999" stroke="#7f849a" stroke-width="0.9"/>
<line x1="533.9" y1="847.3" x2="533.9" y2="849.6999999999999" stroke="#7f849a" stroke-width="0.9"/>
<line x1="538.1" y1="847.3" x2="538.1" y2="849.6999999999999" stroke="#7f849a" stroke-width="0.9"/>
<line x1="542.3" y1="847.3" x2="542.3" y2="849.6999999999999" stroke="#7f849a" stroke-width="0.9"/>
<line x1="546.4" y1="847.3" x2="546.4" y2="849.6999999999999" stroke="#7f849a" stroke-width="0.9"/>
<line x1="550.6" y1="847.3" x2="550.6" y2="849.6999999999999" stroke="#7f849a" stroke-width="0.9"/>
<line x1="554.8" y1="847.3" x2="554.8" y2="849.6999999999999" stroke="#7f849a" stroke-width="0.9"/>
<line x1="559.0" y1="847.3" x2="559.0" y2="849.6999999999999" stroke="#7f849a" stroke-width="0.9"/>
<line x1="563.1" y1="847.3" x2="563.1" y2="849.6999999999999" stroke="#7f849a" stroke-width="0.9"/>
<line x1="567.3" y1="847.3" x2="567.3" y2="849.6999999999999" stroke="#7f849a" stroke-width="0.9"/>
<line x1="571.5" y1="847.3" x2="571.5" y2="849.6999999999999" stroke="#7f849a" stroke-width="0.9"/>
<line x1="575.7" y1="847.3" x2="575.7" y2="849.6999999999999" stroke="#7f849a" stroke-width="0.9"/>
<line x1="579.8" y1="847.3" x2="579.8" y2="849.6999999999999" stroke="#7f849a" stroke-width="0.9"/>
<line x1="584.0" y1="847.3" x2="584.0" y2="849.6999999999999" stroke="#7f849a" stroke-width="0.9"/>
<line x1="588.2" y1="847.3" x2="588.2" y2="849.6999999999999" stroke="#7f849a" stroke-width="0.9"/>
<line x1="592.4" y1="847.3" x2="592.4" y2="849.6999999999999" stroke="#7f849a" stroke-width="0.9"/>
<line x1="596.6" y1="847.3" x2="596.6" y2="849.6999999999999" stroke="#7f849a" stroke-width="0.9"/>
<line x1="600.7" y1="847.3" x2="600.7" y2="849.6999999999999" stroke="#7f849a" stroke-width="0.9"/>
<line x1="604.9" y1="847.3" x2="604.9" y2="849.6999999999999" stroke="#7f849a" stroke-width="0.9"/>
<line x1="609.1" y1="847.3" x2="609.1" y2="849.6999999999999" stroke="#7f849a" stroke-width="0.9"/>
<line x1="613.3" y1="847.3" x2="613.3" y2="849.6999999999999" stroke="#7f849a" stroke-width="0.9"/>
<line x1="617.4" y1="847.3" x2="617.4" y2="849.6999999999999" stroke="#7f849a" stroke-width="0.9"/>
<line x1="621.6" y1="847.3" x2="621.6" y2="849.6999999999999" stroke="#7f849a" stroke-width="0.9"/>
<line x1="625.8" y1="847.3" x2="625.8" y2="849.6999999999999" stroke="#7f849a" stroke-width="0.9"/>
<line x1="630.0" y1="847.3" x2="630.0" y2="849.6999999999999" stroke="#7f849a" stroke-width="0.9"/>
<line x1="634.1" y1="847.3" x2="634.1" y2="849.6999999999999" stroke="#7f849a" stroke-width="0.9"/>
<line x1="638.3" y1="847.3" x2="638.3" y2="849.6999999999999" stroke="#7f849a" stroke-width="0.9"/>
<line x1="642.5" y1="847.3" x2="642.5" y2="849.6999999999999" stroke="#7f849a" stroke-width="0.9"/>
<line x1="646.7" y1="847.3" x2="646.7" y2="849.6999999999999" stroke="#7f849a" stroke-width="0.9"/>
<line x1="650.9" y1="847.3" x2="650.9" y2="849.6999999999999" stroke="#7f849a" stroke-width="0.9"/>
<line x1="655.0" y1="847.3" x2="655.0" y2="849.6999999999999" stroke="#7f849a" stroke-width="0.9"/>
<line x1="659.2" y1="847.3" x2="659.2" y2="849.6999999999999" stroke="#7f849a" stroke-width="0.9"/>
<line x1="663.4" y1="847.3" x2="663.4" y2="849.6999999999999" stroke="#7f849a" stroke-width="0.9"/>
<line x1="667.6" y1="847.3" x2="667.6" y2="849.6999999999999" stroke="#7f849a" stroke-width="0.9"/>
<line x1="671.7" y1="847.3" x2="671.7" y2="849.6999999999999" stroke="#7f849a" stroke-width="0.9"/>
<line x1="675.9" y1="847.3" x2="675.9" y2="849.6999999999999" stroke="#7f849a" stroke-width="0.9"/>
<line x1="680.1" y1="847.3" x2="680.1" y2="849.6999999999999" stroke="#7f849a" stroke-width="0.9"/>
<line x1="684.3" y1="847.3" x2="684.3" y2="849.6999999999999" stroke="#7f849a" stroke-width="0.9"/>
<line x1="688.4" y1="847.3" x2="688.4" y2="849.6999999999999" stroke="#7f849a" stroke-width="0.9"/>
<line x1="692.6" y1="847.3" x2="692.6" y2="849.6999999999999" stroke="#7f849a" stroke-width="0.9"/>
<line x1="696.8" y1="847.3" x2="696.8" y2="849.6999999999999" stroke="#7f849a" stroke-width="0.9"/>
<line x1="701.0" y1="847.3" x2="701.0" y2="849.6999999999999" stroke="#7f849a" stroke-width="0.9"/>
<line x1="705.2" y1="847.3" x2="705.2" y2="849.6999999999999" stroke="#7f849a" stroke-width="0.9"/>
<line x1="709.3" y1="847.3" x2="709.3" y2="849.6999999999999" stroke="#7f849a" stroke-width="0.9"/>
<line x1="713.5" y1="847.3" x2="713.5" y2="849.6999999999999" stroke="#7f849a" stroke-width="0.9"/>
<line x1="717.7" y1="847.3" x2="717.7" y2="849.6999999999999" stroke="#7f849a" stroke-width="0.9"/>
<line x1="721.9" y1="847.3" x2="721.9" y2="849.6999999999999" stroke="#7f849a" stroke-width="0.9"/>
<line x1="726.0" y1="847.3" x2="726.0" y2="849.6999999999999" stroke="#7f849a" stroke-width="0.9"/>
<line x1="730.2" y1="847.3" x2="730.2" y2="849.6999999999999" stroke="#7f849a" stroke-width="0.9"/>
<line x1="734.4" y1="847.3" x2="734.4" y2="849.6999999999999" stroke="#7f849a" stroke-width="0.9"/>
<line x1="738.6" y1="847.3" x2="738.6" y2="849.6999999999999" stroke="#7f849a" stroke-width="0.9"/>
<line x1="742.8" y1="847.3" x2="742.8" y2="849.6999999999999" stroke="#7f849a" stroke-width="0.9"/>
<line x1="746.9" y1="847.3" x2="746.9" y2="849.6999999999999" stroke="#7f849a" stroke-width="0.9"/>
<line x1="751.1" y1="847.3" x2="751.1" y2="849.6999999999999" stroke="#7f849a" stroke-width="0.9"/>
<line x1="755.3" y1="847.3" x2="755.3" y2="849.6999999999999" stroke="#7f849a" stroke-width="0.9"/>
<line x1="759.5" y1="847.3" x2="759.5" y2="849.6999999999999" stroke="#7f849a" stroke-width="0.9"/>
<line x1="763.6" y1="847.3" x2="763.6" y2="849.6999999999999" stroke="#7f849a" stroke-width="0.9"/>
<line x1="767.8" y1="847.3" x2="767.8" y2="849.6999999999999" stroke="#7f849a" stroke-width="0.9"/>
<line x1="772.0" y1="847.3" x2="772.0" y2="849.6999999999999" stroke="#7f849a" stroke-width="0.9"/>
<line x1="776.2" y1="847.3" x2="776.2" y2="849.6999999999999" stroke="#7f849a" stroke-width="0.9"/>
<line x1="780.3" y1="847.3" x2="780.3" y2="849.6999999999999" stroke="#7f849a" stroke-width="0.9"/>
<line x1="784.5" y1="847.3" x2="784.5" y2="849.6999999999999" stroke="#7f849a" stroke-width="0.9"/>
<line x1="788.7" y1="847.3" x2="788.7" y2="849.6999999999999" stroke="#7f849a" stroke-width="0.9"/>
<line x1="792.9" y1="847.3" x2="792.9" y2="849.6999999999999" stroke="#7f849a" stroke-width="0.9"/>
<line x1="797.1" y1="847.3" x2="797.1" y2="849.6999999999999" stroke="#7f849a" stroke-width="0.9"/>
<line x1="801.2" y1="847.3" x2="801.2" y2="849.6999999999999" stroke="#7f849a" stroke-width="0.9"/>
<line x1="805.4" y1="847.3" x2="805.4" y2="849.6999999999999" stroke="#7f849a" stroke-width="0.9"/>
<line x1="809.6" y1="847.3" x2="809.6" y2="849.6999999999999" stroke="#7f849a" stroke-width="0.9"/>
<line x1="813.8" y1="847.3" x2="813.8" y2="849.6999999999999" stroke="#7f849a" stroke-width="0.9"/>
<line x1="817.9" y1="847.3" x2="817.9" y2="849.6999999999999" stroke="#7f849a" stroke-width="0.9"/>
<line x1="822.1" y1="847.3" x2="822.1" y2="849.6999999999999" stroke="#7f849a" stroke-width="0.9"/>
<line x1="826.3" y1="847.3" x2="826.3" y2="849.6999999999999" stroke="#7f849a" stroke-width="0.9"/>
<line x1="830.5" y1="847.3" x2="830.5" y2="849.6999999999999" stroke="#7f849a" stroke-width="0.9"/>
<line x1="834.6" y1="847.3" x2="834.6" y2="849.6999999999999" stroke="#7f849a" stroke-width="0.9"/>
<line x1="838.8" y1="847.3" x2="838.8" y2="849.6999999999999" stroke="#7f849a" stroke-width="0.9"/>
<line x1="843.0" y1="847.3" x2="843.0" y2="849.6999999999999" stroke="#7f849a" stroke-width="0.9"/>
<line x1="847.2" y1="847.3" x2="847.2" y2="849.6999999999999" stroke="#7f849a" stroke-width="0.9"/>
<line x1="851.4" y1="847.3" x2="851.4" y2="849.6999999999999" stroke="#7f849a" stroke-width="0.9"/>
<line x1="855.5" y1="847.3" x2="855.5" y2="849.6999999999999" stroke="#7f849a" stroke-width="0.9"/>
<line x1="859.7" y1="847.3" x2="859.7" y2="849.6999999999999" stroke="#7f849a" stroke-width="0.9"/>
<line x1="863.9" y1="847.3" x2="863.9" y2="849.6999999999999" stroke="#7f849a" stroke-width="0.9"/>
<line x1="868.1" y1="847.3" x2="868.1" y2="849.6999999999999" stroke="#7f849a" stroke-width="0.9"/>
<line x1="872.2" y1="847.3" x2="872.2" y2="849.6999999999999" stroke="#7f849a" stroke-width="0.9"/>
<line x1="876.4" y1="847.3" x2="876.4" y2="849.6999999999999" stroke="#7f849a" stroke-width="0.9"/>
<line x1="880.6" y1="847.3" x2="880.6" y2="849.6999999999999" stroke="#7f849a" stroke-width="0.9"/>
<line x1="884.8" y1="847.3" x2="884.8" y2="849.6999999999999" stroke="#7f849a" stroke-width="0.9"/>
<line x1="888.9" y1="847.3" x2="888.9" y2="849.6999999999999" stroke="#7f849a" stroke-width="0.9"/>
<line x1="893.1" y1="847.3" x2="893.1" y2="849.6999999999999" stroke="#7f849a" stroke-width="0.9"/>
<line x1="897.3" y1="847.3" x2="897.3" y2="849.6999999999999" stroke="#7f849a" stroke-width="0.9"/>
<line x1="901.5" y1="847.3" x2="901.5" y2="849.6999999999999" stroke="#7f849a" stroke-width="0.9"/>
<line x1="905.7" y1="847.3" x2="905.7" y2="849.6999999999999" stroke="#7f849a" stroke-width="0.9"/>
<line x1="909.8" y1="847.3" x2="909.8" y2="849.6999999999999" stroke="#7f849a" stroke-width="0.9"/>
<line x1="914.0" y1="847.3" x2="914.0" y2="849.6999999999999" stroke="#7f849a" stroke-width="0.9"/>
<line x1="918.2" y1="847.3" x2="918.2" y2="849.6999999999999" stroke="#7f849a" stroke-width="0.9"/>
<line x1="922.4" y1="847.3" x2="922.4" y2="849.6999999999999" stroke="#7f849a" stroke-width="0.9"/>
<line x1="926.5" y1="847.3" x2="926.5" y2="849.6999999999999" stroke="#7f849a" stroke-width="0.9"/>
<line x1="930.7" y1="847.3" x2="930.7" y2="849.6999999999999" stroke="#7f849a" stroke-width="0.9"/>
<line x1="934.9" y1="847.3" x2="934.9" y2="849.6999999999999" stroke="#7f849a" stroke-width="0.9"/>
<line x1="939.1" y1="847.3" x2="939.1" y2="849.6999999999999" stroke="#7f849a" stroke-width="0.9"/>
<line x1="943.2" y1="847.3" x2="943.2" y2="849.6999999999999" stroke="#7f849a" stroke-width="0.9"/>
<line x1="947.4" y1="847.3" x2="947.4" y2="849.6999999999999" stroke="#7f849a" stroke-width="0.9"/>
<line x1="951.6" y1="847.3" x2="951.6" y2="849.6999999999999" stroke="#7f849a" stroke-width="0.9"/>
<line x1="955.8" y1="847.3" x2="955.8" y2="849.6999999999999" stroke="#7f849a" stroke-width="0.9"/>
<line x1="960.0" y1="847.3" x2="960.0" y2="849.6999999999999" stroke="#7f849a" stroke-width="0.9"/>
<line x1="964.1" y1="847.3" x2="964.1" y2="849.6999999999999" stroke="#7f849a" stroke-width="0.9"/>
<line x1="968.3" y1="847.3" x2="968.3" y2="849.6999999999999" stroke="#7f849a" stroke-width="0.9"/>
<line x1="972.5" y1="847.3" x2="972.5" y2="849.6999999999999" stroke="#7f849a" stroke-width="0.9"/>
<line x1="976.7" y1="847.3" x2="976.7" y2="849.6999999999999" stroke="#7f849a" stroke-width="0.9"/>
<line x1="980.8" y1="847.3" x2="980.8" y2="849.6999999999999" stroke="#7f849a" stroke-width="0.9"/>
<line x1="985.0" y1="847.3" x2="985.0" y2="849.6999999999999" stroke="#7f849a" stroke-width="0.9"/>
<line x1="989.2" y1="847.3" x2="989.2" y2="849.6999999999999" stroke="#7f849a" stroke-width="0.9"/>
<line x1="993.4" y1="847.3" x2="993.4" y2="849.6999999999999" stroke="#7f849a" stroke-width="0.9"/>
<line x1="997.5" y1="847.3" x2="997.5" y2="849.6999999999999" stroke="#7f849a" stroke-width="0.9"/>
<line x1="1001.7" y1="847.3" x2="1001.7" y2="849.6999999999999" stroke="#7f849a" stroke-width="0.9"/>
<line x1="1005.9" y1="847.3" x2="1005.9" y2="849.6999999999999" stroke="#7f849a" stroke-width="0.9"/>
<line x1="1010.1" y1="847.3" x2="1010.1" y2="849.6999999999999" stroke="#7f849a" stroke-width="0.9"/>
<line x1="1014.3" y1="847.3" x2="1014.3" y2="849.6999999999999" stroke="#7f849a" stroke-width="0.9"/>
<line x1="1018.4" y1="847.3" x2="1018.4" y2="849.6999999999999" stroke="#7f849a" stroke-width="0.9"/>
<line x1="1022.6" y1="847.3" x2="1022.6" y2="849.6999999999999" stroke="#7f849a" stroke-width="0.9"/>
<line x1="1026.8" y1="847.3" x2="1026.8" y2="849.6999999999999" stroke="#7f849a" stroke-width="0.9"/>
<line x1="1031.0" y1="847.3" x2="1031.0" y2="849.6999999999999" stroke="#7f849a" stroke-width="0.9"/>
<line x1="1035.1" y1="847.3" x2="1035.1" y2="849.6999999999999" stroke="#7f849a" stroke-width="0.9"/>
<line x1="1039.3" y1="847.3" x2="1039.3" y2="849.6999999999999" stroke="#7f849a" stroke-width="0.9"/>
<line x1="1043.5" y1="847.3" x2="1043.5" y2="849.6999999999999" stroke="#7f849a" stroke-width="0.9"/>
<line x1="1047.7" y1="847.3" x2="1047.7" y2="849.6999999999999" stroke="#7f849a" stroke-width="0.9"/>
<line x1="1051.8" y1="847.3" x2="1051.8" y2="849.6999999999999" stroke="#7f849a" stroke-width="0.9"/>
<line x1="1056.0" y1="847.3" x2="1056.0" y2="849.6999999999999" stroke="#7f849a" stroke-width="0.9"/>
<line x1="1060.2" y1="847.3" x2="1060.2" y2="849.6999999999999" stroke="#7f849a" stroke-width="0.9"/>
<line x1="1064.4" y1="847.3" x2="1064.4" y2="849.6999999999999" stroke="#7f849a" stroke-width="0.9"/>
<line x1="1068.6" y1="847.3" x2="1068.6" y2="849.6999999999999" stroke="#7f849a" stroke-width="0.9"/>
<line x1="1072.7" y1="847.3" x2="1072.7" y2="849.6999999999999" stroke="#7f849a" stroke-width="0.9"/>
<line x1="1076.9" y1="847.3" x2="1076.9" y2="849.6999999999999" stroke="#7f849a" stroke-width="0.9"/>
<line x1="1081.1" y1="847.3" x2="1081.1" y2="849.6999999999999" stroke="#7f849a" stroke-width="0.9"/>
<line x1="1085.3" y1="847.3" x2="1085.3" y2="849.6999999999999" stroke="#7f849a" stroke-width="0.9"/>
<line x1="1089.4" y1="847.3" x2="1089.4" y2="849.6999999999999" stroke="#7f849a" stroke-width="0.9"/>
<line x1="1093.6" y1="847.3" x2="1093.6" y2="849.6999999999999" stroke="#7f849a" stroke-width="0.9"/>
<line x1="1097.8" y1="847.3" x2="1097.8" y2="849.6999999999999" stroke="#7f849a" stroke-width="0.9"/>
<line x1="1102.0" y1="847.3" x2="1102.0" y2="849.6999999999999" stroke="#7f849a" stroke-width="0.9"/>
<line x1="1106.2" y1="847.3" x2="1106.2" y2="849.6999999999999" stroke="#7f849a" stroke-width="0.9"/>
<line x1="1110.3" y1="847.3" x2="1110.3" y2="849.6999999999999" stroke="#7f849a" stroke-width="0.9"/>
<line x1="1114.5" y1="847.3" x2="1114.5" y2="849.6999999999999" stroke="#7f849a" stroke-width="0.9"/>
<line x1="61.9" y1="679" x2="61.9" y2="677.0" stroke="#7f849a" stroke-width="0.9"/>
<line x1="66.1" y1="679" x2="66.1" y2="677.0" stroke="#7f849a" stroke-width="0.9"/>
<line x1="70.3" y1="679" x2="70.3" y2="677.0" stroke="#7f849a" stroke-width="0.9"/>
<line x1="74.4" y1="679" x2="74.4" y2="677.0" stroke="#7f849a" stroke-width="0.9"/>
<line x1="78.6" y1="679" x2="78.6" y2="677.0" stroke="#7f849a" stroke-width="0.9"/>
<line x1="82.8" y1="679" x2="82.8" y2="677.0" stroke="#7f849a" stroke-width="0.9"/>
<line x1="87.0" y1="679" x2="87.0" y2="677.0" stroke="#7f849a" stroke-width="0.9"/>
<line x1="91.1" y1="679" x2="91.1" y2="677.0" stroke="#7f849a" stroke-width="0.9"/>
<line x1="95.3" y1="679" x2="95.3" y2="677.0" stroke="#7f849a" stroke-width="0.9"/>
<line x1="99.5" y1="679" x2="99.5" y2="677.0" stroke="#7f849a" stroke-width="0.9"/>
<line x1="103.7" y1="679" x2="103.7" y2="677.0" stroke="#7f849a" stroke-width="0.9"/>
<line x1="107.8" y1="679" x2="107.8" y2="677.0" stroke="#7f849a" stroke-width="0.9"/>
<line x1="112.0" y1="679" x2="112.0" y2="677.0" stroke="#7f849a" stroke-width="0.9"/>
<line x1="116.2" y1="679" x2="116.2" y2="677.0" stroke="#7f849a" stroke-width="0.9"/>
<line x1="120.4" y1="679" x2="120.4" y2="677.0" stroke="#7f849a" stroke-width="0.9"/>
<line x1="124.6" y1="679" x2="124.6" y2="677.0" stroke="#7f849a" stroke-width="0.9"/>
<line x1="128.7" y1="679" x2="128.7" y2="677.0" stroke="#7f849a" stroke-width="0.9"/>
<line x1="132.9" y1="679" x2="132.9" y2="677.0" stroke="#7f849a" stroke-width="0.9"/>
<line x1="137.1" y1="679" x2="137.1" y2="677.0" stroke="#7f849a" stroke-width="0.9"/>
<line x1="141.3" y1="679" x2="141.3" y2="677.0" stroke="#7f849a" stroke-width="0.9"/>
<line x1="145.4" y1="679" x2="145.4" y2="677.0" stroke="#7f849a" stroke-width="0.9"/>
<line x1="149.6" y1="679" x2="149.6" y2="677.0" stroke="#7f849a" stroke-width="0.9"/>
<line x1="153.8" y1="679" x2="153.8" y2="677.0" stroke="#7f849a" stroke-width="0.9"/>
<line x1="158.0" y1="679" x2="158.0" y2="677.0" stroke="#7f849a" stroke-width="0.9"/>
<line x1="162.1" y1="679" x2="162.1" y2="677.0" stroke="#7f849a" stroke-width="0.9"/>
<line x1="166.3" y1="679" x2="166.3" y2="677.0" stroke="#7f849a" stroke-width="0.9"/>
<line x1="170.5" y1="679" x2="170.5" y2="677.0" stroke="#7f849a" stroke-width="0.9"/>
<line x1="174.7" y1="679" x2="174.7" y2="677.0" stroke="#7f849a" stroke-width="0.9"/>
<line x1="178.9" y1="679" x2="178.9" y2="677.0" stroke="#7f849a" stroke-width="0.9"/>
<line x1="183.0" y1="679" x2="183.0" y2="677.0" stroke="#7f849a" stroke-width="0.9"/>
<line x1="187.2" y1="679" x2="187.2" y2="677.0" stroke="#7f849a" stroke-width="0.9"/>
<line x1="191.4" y1="679" x2="191.4" y2="677.0" stroke="#7f849a" stroke-width="0.9"/>
<line x1="195.6" y1="679" x2="195.6" y2="677.0" stroke="#7f849a" stroke-width="0.9"/>
<line x1="199.7" y1="679" x2="199.7" y2="677.0" stroke="#7f849a" stroke-width="0.9"/>
<line x1="203.9" y1="679" x2="203.9" y2="677.0" stroke="#7f849a" stroke-width="0.9"/>
<line x1="208.1" y1="679" x2="208.1" y2="677.0" stroke="#7f849a" stroke-width="0.9"/>
<line x1="212.3" y1="679" x2="212.3" y2="677.0" stroke="#7f849a" stroke-width="0.9"/>
<line x1="216.4" y1="679" x2="216.4" y2="677.0" stroke="#7f849a" stroke-width="0.9"/>
<line x1="220.6" y1="679" x2="220.6" y2="677.0" stroke="#7f849a" stroke-width="0.9"/>
<line x1="224.8" y1="679" x2="224.8" y2="677.0" stroke="#7f849a" stroke-width="0.9"/>
<line x1="229.0" y1="679" x2="229.0" y2="677.0" stroke="#7f849a" stroke-width="0.9"/>
<line x1="233.2" y1="679" x2="233.2" y2="677.0" stroke="#7f849a" stroke-width="0.9"/>
<line x1="237.3" y1="679" x2="237.3" y2="677.0" stroke="#7f849a" stroke-width="0.9"/>
<line x1="241.5" y1="679" x2="241.5" y2="677.0" stroke="#7f849a" stroke-width="0.9"/>
<line x1="245.7" y1="679" x2="245.7" y2="677.0" stroke="#7f849a" stroke-width="0.9"/>
<line x1="249.9" y1="679" x2="249.9" y2="677.0" stroke="#7f849a" stroke-width="0.9"/>
<line x1="254.0" y1="679" x2="254.0" y2="677.0" stroke="#7f849a" stroke-width="0.9"/>
<line x1="258.2" y1="679" x2="258.2" y2="677.0" stroke="#7f849a" stroke-width="0.9"/>
<line x1="262.4" y1="679" x2="262.4" y2="677.0" stroke="#7f849a" stroke-width="0.9"/>
<line x1="266.6" y1="679" x2="266.6" y2="677.0" stroke="#7f849a" stroke-width="0.9"/>
<line x1="270.7" y1="679" x2="270.7" y2="677.0" stroke="#7f849a" stroke-width="0.9"/>
<line x1="274.9" y1="679" x2="274.9" y2="677.0" stroke="#7f849a" stroke-width="0.9"/>
<line x1="279.1" y1="679" x2="279.1" y2="677.0" stroke="#7f849a" stroke-width="0.9"/>
<line x1="283.3" y1="679" x2="283.3" y2="677.0" stroke="#7f849a" stroke-width="0.9"/>
<line x1="287.5" y1="679" x2="287.5" y2="677.0" stroke="#7f849a" stroke-width="0.9"/>
<line x1="291.6" y1="679" x2="291.6" y2="677.0" stroke="#7f849a" stroke-width="0.9"/>
<line x1="295.8" y1="679" x2="295.8" y2="677.0" stroke="#7f849a" stroke-width="0.9"/>
<line x1="300.0" y1="679" x2="300.0" y2="677.0" stroke="#7f849a" stroke-width="0.9"/>
<line x1="304.2" y1="679" x2="304.2" y2="677.0" stroke="#7f849a" stroke-width="0.9"/>
<line x1="308.3" y1="679" x2="308.3" y2="677.0" stroke="#7f849a" stroke-width="0.9"/>
<line x1="312.5" y1="679" x2="312.5" y2="677.0" stroke="#7f849a" stroke-width="0.9"/>
<line x1="316.7" y1="679" x2="316.7" y2="677.0" stroke="#7f849a" stroke-width="0.9"/>
<line x1="320.9" y1="679" x2="320.9" y2="677.0" stroke="#7f849a" stroke-width="0.9"/>
<line x1="325.1" y1="679" x2="325.1" y2="677.0" stroke="#7f849a" stroke-width="0.9"/>
<line x1="329.2" y1="679" x2="329.2" y2="677.0" stroke="#7f849a" stroke-width="0.9"/>
<line x1="333.4" y1="679" x2="333.4" y2="677.0" stroke="#7f849a" stroke-width="0.9"/>
<line x1="337.6" y1="679" x2="337.6" y2="677.0" stroke="#7f849a" stroke-width="0.9"/>
<line x1="341.8" y1="679" x2="341.8" y2="677.0" stroke="#7f849a" stroke-width="0.9"/>
<line x1="345.9" y1="679" x2="345.9" y2="677.0" stroke="#7f849a" stroke-width="0.9"/>
<line x1="350.1" y1="679" x2="350.1" y2="677.0" stroke="#7f849a" stroke-width="0.9"/>
<line x1="354.3" y1="679" x2="354.3" y2="677.0" stroke="#7f849a" stroke-width="0.9"/>
<line x1="358.5" y1="679" x2="358.5" y2="677.0" stroke="#7f849a" stroke-width="0.9"/>
<line x1="362.6" y1="679" x2="362.6" y2="677.0" stroke="#7f849a" stroke-width="0.9"/>
<line x1="366.8" y1="679" x2="366.8" y2="677.0" stroke="#7f849a" stroke-width="0.9"/>
<line x1="371.0" y1="679" x2="371.0" y2="677.0" stroke="#7f849a" stroke-width="0.9"/>
<line x1="375.2" y1="679" x2="375.2" y2="677.0" stroke="#7f849a" stroke-width="0.9"/>
<line x1="379.4" y1="679" x2="379.4" y2="677.0" stroke="#7f849a" stroke-width="0.9"/>
<line x1="383.5" y1="679" x2="383.5" y2="677.0" stroke="#7f849a" stroke-width="0.9"/>
<line x1="387.7" y1="679" x2="387.7" y2="677.0" stroke="#7f849a" stroke-width="0.9"/>
<line x1="391.9" y1="679" x2="391.9" y2="677.0" stroke="#7f849a" stroke-width="0.9"/>
<line x1="396.1" y1="679" x2="396.1" y2="677.0" stroke="#7f849a" stroke-width="0.9"/>
<line x1="400.2" y1="679" x2="400.2" y2="677.0" stroke="#7f849a" stroke-width="0.9"/>
<line x1="404.4" y1="679" x2="404.4" y2="677.0" stroke="#7f849a" stroke-width="0.9"/>
<line x1="408.6" y1="679" x2="408.6" y2="677.0" stroke="#7f849a" stroke-width="0.9"/>
<line x1="412.8" y1="679" x2="412.8" y2="677.0" stroke="#7f849a" stroke-width="0.9"/>
<line x1="416.9" y1="679" x2="416.9" y2="677.0" stroke="#7f849a" stroke-width="0.9"/>
<line x1="421.1" y1="679" x2="421.1" y2="677.0" stroke="#7f849a" stroke-width="0.9"/>
<line x1="425.3" y1="679" x2="425.3" y2="677.0" stroke="#7f849a" stroke-width="0.9"/>
<line x1="429.5" y1="679" x2="429.5" y2="677.0" stroke="#7f849a" stroke-width="0.9"/>
<line x1="433.7" y1="679" x2="433.7" y2="677.0" stroke="#7f849a" stroke-width="0.9"/>
<line x1="437.8" y1="679" x2="437.8" y2="677.0" stroke="#7f849a" stroke-width="0.9"/>
<line x1="442.0" y1="679" x2="442.0" y2="677.0" stroke="#7f849a" stroke-width="0.9"/>
<line x1="446.2" y1="679" x2="446.2" y2="677.0" stroke="#7f849a" stroke-width="0.9"/>
<line x1="450.4" y1="679" x2="450.4" y2="677.0" stroke="#7f849a" stroke-width="0.9"/>
<line x1="454.5" y1="679" x2="454.5" y2="677.0" stroke="#7f849a" stroke-width="0.9"/>
<line x1="458.7" y1="679" x2="458.7" y2="677.0" stroke="#7f849a" stroke-width="0.9"/>
<line x1="462.9" y1="679" x2="462.9" y2="677.0" stroke="#7f849a" stroke-width="0.9"/>
<line x1="467.1" y1="679" x2="467.1" y2="677.0" stroke="#7f849a" stroke-width="0.9"/>
<line x1="471.2" y1="679" x2="471.2" y2="677.0" stroke="#7f849a" stroke-width="0.9"/>
<line x1="475.4" y1="679" x2="475.4" y2="677.0" stroke="#7f849a" stroke-width="0.9"/>
<line x1="479.6" y1="679" x2="479.6" y2="677.0" stroke="#7f849a" stroke-width="0.9"/>
<line x1="483.8" y1="679" x2="483.8" y2="677.0" stroke="#7f849a" stroke-width="0.9"/>
<line x1="488.0" y1="679" x2="488.0" y2="677.0" stroke="#7f849a" stroke-width="0.9"/>
<line x1="492.1" y1="679" x2="492.1" y2="677.0" stroke="#7f849a" stroke-width="0.9"/>
<line x1="496.3" y1="679" x2="496.3" y2="677.0" stroke="#7f849a" stroke-width="0.9"/>
<line x1="500.5" y1="679" x2="500.5" y2="677.0" stroke="#7f849a" stroke-width="0.9"/>
<line x1="504.7" y1="679" x2="504.7" y2="677.0" stroke="#7f849a" stroke-width="0.9"/>
<line x1="508.8" y1="679" x2="508.8" y2="677.0" stroke="#7f849a" stroke-width="0.9"/>
<line x1="513.0" y1="679" x2="513.0" y2="677.0" stroke="#7f849a" stroke-width="0.9"/>
<line x1="517.2" y1="679" x2="517.2" y2="677.0" stroke="#7f849a" stroke-width="0.9"/>
<line x1="521.4" y1="679" x2="521.4" y2="677.0" stroke="#7f849a" stroke-width="0.9"/>
<line x1="525.5" y1="679" x2="525.5" y2="677.0" stroke="#7f849a" stroke-width="0.9"/>
<line x1="529.7" y1="679" x2="529.7" y2="677.0" stroke="#7f849a" stroke-width="0.9"/>
<line x1="533.9" y1="679" x2="533.9" y2="677.0" stroke="#7f849a" stroke-width="0.9"/>
<line x1="538.1" y1="679" x2="538.1" y2="677.0" stroke="#7f849a" stroke-width="0.9"/>
<line x1="542.3" y1="679" x2="542.3" y2="677.0" stroke="#7f849a" stroke-width="0.9"/>
<line x1="546.4" y1="679" x2="546.4" y2="677.0" stroke="#7f849a" stroke-width="0.9"/>
<line x1="550.6" y1="679" x2="550.6" y2="677.0" stroke="#7f849a" stroke-width="0.9"/>
<line x1="554.8" y1="679" x2="554.8" y2="677.0" stroke="#7f849a" stroke-width="0.9"/>
<line x1="559.0" y1="679" x2="559.0" y2="677.0" stroke="#7f849a" stroke-width="0.9"/>
<line x1="563.1" y1="679" x2="563.1" y2="677.0" stroke="#7f849a" stroke-width="0.9"/>
<line x1="567.3" y1="679" x2="567.3" y2="677.0" stroke="#7f849a" stroke-width="0.9"/>
<line x1="571.5" y1="679" x2="571.5" y2="677.0" stroke="#7f849a" stroke-width="0.9"/>
<line x1="575.7" y1="679" x2="575.7" y2="677.0" stroke="#7f849a" stroke-width="0.9"/>
<line x1="579.8" y1="679" x2="579.8" y2="677.0" stroke="#7f849a" stroke-width="0.9"/>
<line x1="584.0" y1="679" x2="584.0" y2="677.0" stroke="#7f849a" stroke-width="0.9"/>
<line x1="588.2" y1="679" x2="588.2" y2="677.0" stroke="#7f849a" stroke-width="0.9"/>
<line x1="592.4" y1="679" x2="592.4" y2="677.0" stroke="#7f849a" stroke-width="0.9"/>
<line x1="596.6" y1="679" x2="596.6" y2="677.0" stroke="#7f849a" stroke-width="0.9"/>
<line x1="600.7" y1="679" x2="600.7" y2="677.0" stroke="#7f849a" stroke-width="0.9"/>
<line x1="604.9" y1="679" x2="604.9" y2="677.0" stroke="#7f849a" stroke-width="0.9"/>
<line x1="609.1" y1="679" x2="609.1" y2="677.0" stroke="#7f849a" stroke-width="0.9"/>
<line x1="613.3" y1="679" x2="613.3" y2="677.0" stroke="#7f849a" stroke-width="0.9"/>
<line x1="617.4" y1="679" x2="617.4" y2="677.0" stroke="#7f849a" stroke-width="0.9"/>
<line x1="621.6" y1="679" x2="621.6" y2="677.0" stroke="#7f849a" stroke-width="0.9"/>
<line x1="625.8" y1="679" x2="625.8" y2="677.0" stroke="#7f849a" stroke-width="0.9"/>
<line x1="630.0" y1="679" x2="630.0" y2="677.0" stroke="#7f849a" stroke-width="0.9"/>
<line x1="634.1" y1="679" x2="634.1" y2="677.0" stroke="#7f849a" stroke-width="0.9"/>
<line x1="638.3" y1="679" x2="638.3" y2="677.0" stroke="#7f849a" stroke-width="0.9"/>
<line x1="642.5" y1="679" x2="642.5" y2="677.0" stroke="#7f849a" stroke-width="0.9"/>
<line x1="646.7" y1="679" x2="646.7" y2="677.0" stroke="#7f849a" stroke-width="0.9"/>
<line x1="650.9" y1="679" x2="650.9" y2="677.0" stroke="#7f849a" stroke-width="0.9"/>
<line x1="655.0" y1="679" x2="655.0" y2="677.0" stroke="#7f849a" stroke-width="0.9"/>
<line x1="659.2" y1="679" x2="659.2" y2="677.0" stroke="#7f849a" stroke-width="0.9"/>
<line x1="663.4" y1="679" x2="663.4" y2="677.0" stroke="#7f849a" stroke-width="0.9"/>
<line x1="667.6" y1="679" x2="667.6" y2="677.0" stroke="#7f849a" stroke-width="0.9"/>
<line x1="671.7" y1="679" x2="671.7" y2="677.0" stroke="#7f849a" stroke-width="0.9"/>
<line x1="675.9" y1="679" x2="675.9" y2="677.0" stroke="#7f849a" stroke-width="0.9"/>
<line x1="680.1" y1="679" x2="680.1" y2="677.0" stroke="#7f849a" stroke-width="0.9"/>
<line x1="684.3" y1="679" x2="684.3" y2="677.0" stroke="#7f849a" stroke-width="0.9"/>
<line x1="688.4" y1="679" x2="688.4" y2="677.0" stroke="#7f849a" stroke-width="0.9"/>
<line x1="692.6" y1="679" x2="692.6" y2="677.0" stroke="#7f849a" stroke-width="0.9"/>
<line x1="696.8" y1="679" x2="696.8" y2="677.0" stroke="#7f849a" stroke-width="0.9"/>
<line x1="701.0" y1="679" x2="701.0" y2="677.0" stroke="#7f849a" stroke-width="0.9"/>
<line x1="705.2" y1="679" x2="705.2" y2="677.0" stroke="#7f849a" stroke-width="0.9"/>
<line x1="709.3" y1="679" x2="709.3" y2="677.0" stroke="#7f849a" stroke-width="0.9"/>
<line x1="713.5" y1="679" x2="713.5" y2="677.0" stroke="#7f849a" stroke-width="0.9"/>
<line x1="717.7" y1="679" x2="717.7" y2="677.0" stroke="#7f849a" stroke-width="0.9"/>
<line x1="721.9" y1="679" x2="721.9" y2="677.0" stroke="#7f849a" stroke-width="0.9"/>
<line x1="726.0" y1="679" x2="726.0" y2="677.0" stroke="#7f849a" stroke-width="0.9"/>
<line x1="730.2" y1="679" x2="730.2" y2="677.0" stroke="#7f849a" stroke-width="0.9"/>
<line x1="734.4" y1="679" x2="734.4" y2="677.0" stroke="#7f849a" stroke-width="0.9"/>
<line x1="738.6" y1="679" x2="738.6" y2="677.0" stroke="#7f849a" stroke-width="0.9"/>
<line x1="742.8" y1="679" x2="742.8" y2="677.0" stroke="#7f849a" stroke-width="0.9"/>
<line x1="746.9" y1="679" x2="746.9" y2="677.0" stroke="#7f849a" stroke-width="0.9"/>
<line x1="751.1" y1="679" x2="751.1" y2="677.0" stroke="#7f849a" stroke-width="0.9"/>
<line x1="755.3" y1="679" x2="755.3" y2="677.0" stroke="#7f849a" stroke-width="0.9"/>
<line x1="759.5" y1="679" x2="759.5" y2="677.0" stroke="#7f849a" stroke-width="0.9"/>
<line x1="763.6" y1="679" x2="763.6" y2="677.0" stroke="#7f849a" stroke-width="0.9"/>
<line x1="767.8" y1="679" x2="767.8" y2="677.0" stroke="#7f849a" stroke-width="0.9"/>
<line x1="772.0" y1="679" x2="772.0" y2="677.0" stroke="#7f849a" stroke-width="0.9"/>
<line x1="776.2" y1="679" x2="776.2" y2="677.0" stroke="#7f849a" stroke-width="0.9"/>
<line x1="780.3" y1="679" x2="780.3" y2="677.0" stroke="#7f849a" stroke-width="0.9"/>
<line x1="784.5" y1="679" x2="784.5" y2="677.0" stroke="#7f849a" stroke-width="0.9"/>
<line x1="788.7" y1="679" x2="788.7" y2="677.0" stroke="#7f849a" stroke-width="0.9"/>
<line x1="792.9" y1="679" x2="792.9" y2="677.0" stroke="#7f849a" stroke-width="0.9"/>
<line x1="797.1" y1="679" x2="797.1" y2="677.0" stroke="#7f849a" stroke-width="0.9"/>
<line x1="801.2" y1="679" x2="801.2" y2="677.0" stroke="#7f849a" stroke-width="0.9"/>
<line x1="805.4" y1="679" x2="805.4" y2="677.0" stroke="#7f849a" stroke-width="0.9"/>
<line x1="809.6" y1="679" x2="809.6" y2="677.0" stroke="#7f849a" stroke-width="0.9"/>
<line x1="813.8" y1="679" x2="813.8" y2="677.0" stroke="#7f849a" stroke-width="0.9"/>
<line x1="817.9" y1="679" x2="817.9" y2="677.0" stroke="#7f849a" stroke-width="0.9"/>
<line x1="822.1" y1="679" x2="822.1" y2="677.0" stroke="#7f849a" stroke-width="0.9"/>
<line x1="826.3" y1="679" x2="826.3" y2="677.0" stroke="#7f849a" stroke-width="0.9"/>
<line x1="830.5" y1="679" x2="830.5" y2="677.0" stroke="#7f849a" stroke-width="0.9"/>
<line x1="834.6" y1="679" x2="834.6" y2="677.0" stroke="#7f849a" stroke-width="0.9"/>
<line x1="838.8" y1="679" x2="838.8" y2="677.0" stroke="#7f849a" stroke-width="0.9"/>
<line x1="843.0" y1="679" x2="843.0" y2="677.0" stroke="#7f849a" stroke-width="0.9"/>
<line x1="847.2" y1="679" x2="847.2" y2="677.0" stroke="#7f849a" stroke-width="0.9"/>
<line x1="851.4" y1="679" x2="851.4" y2="677.0" stroke="#7f849a" stroke-width="0.9"/>
<line x1="855.5" y1="679" x2="855.5" y2="677.0" stroke="#7f849a" stroke-width="0.9"/>
<line x1="859.7" y1="679" x2="859.7" y2="677.0" stroke="#7f849a" stroke-width="0.9"/>
<line x1="863.9" y1="679" x2="863.9" y2="677.0" stroke="#7f849a" stroke-width="0.9"/>
<line x1="868.1" y1="679" x2="868.1" y2="677.0" stroke="#7f849a" stroke-width="0.9"/>
<line x1="872.2" y1="679" x2="872.2" y2="677.0" stroke="#7f849a" stroke-width="0.9"/>
<line x1="876.4" y1="679" x2="876.4" y2="677.0" stroke="#7f849a" stroke-width="0.9"/>
<line x1="880.6" y1="679" x2="880.6" y2="677.0" stroke="#7f849a" stroke-width="0.9"/>
<line x1="884.8" y1="679" x2="884.8" y2="677.0" stroke="#7f849a" stroke-width="0.9"/>
<line x1="888.9" y1="679" x2="888.9" y2="677.0" stroke="#7f849a" stroke-width="0.9"/>
<line x1="893.1" y1="679" x2="893.1" y2="677.0" stroke="#7f849a" stroke-width="0.9"/>
<line x1="897.3" y1="679" x2="897.3" y2="677.0" stroke="#7f849a" stroke-width="0.9"/>
<line x1="901.5" y1="679" x2="901.5" y2="677.0" stroke="#7f849a" stroke-width="0.9"/>
<line x1="905.7" y1="679" x2="905.7" y2="677.0" stroke="#7f849a" stroke-width="0.9"/>
<line x1="909.8" y1="679" x2="909.8" y2="677.0" stroke="#7f849a" stroke-width="0.9"/>
<line x1="914.0" y1="679" x2="914.0" y2="677.0" stroke="#7f849a" stroke-width="0.9"/>
<line x1="918.2" y1="679" x2="918.2" y2="677.0" stroke="#7f849a" stroke-width="0.9"/>
<line x1="922.4" y1="679" x2="922.4" y2="677.0" stroke="#7f849a" stroke-width="0.9"/>
<line x1="926.5" y1="679" x2="926.5" y2="677.0" stroke="#7f849a" stroke-width="0.9"/>
<line x1="930.7" y1="679" x2="930.7" y2="677.0" stroke="#7f849a" stroke-width="0.9"/>
<line x1="934.9" y1="679" x2="934.9" y2="677.0" stroke="#7f849a" stroke-width="0.9"/>
<line x1="939.1" y1="679" x2="939.1" y2="677.0" stroke="#7f849a" stroke-width="0.9"/>
<line x1="943.2" y1="679" x2="943.2" y2="677.0" stroke="#7f849a" stroke-width="0.9"/>
<line x1="947.4" y1="679" x2="947.4" y2="677.0" stroke="#7f849a" stroke-width="0.9"/>
<line x1="951.6" y1="679" x2="951.6" y2="677.0" stroke="#7f849a" stroke-width="0.9"/>
<line x1="955.8" y1="679" x2="955.8" y2="677.0" stroke="#7f849a" stroke-width="0.9"/>
<line x1="960.0" y1="679" x2="960.0" y2="677.0" stroke="#7f849a" stroke-width="0.9"/>
<line x1="964.1" y1="679" x2="964.1" y2="677.0" stroke="#7f849a" stroke-width="0.9"/>
<line x1="968.3" y1="679" x2="968.3" y2="677.0" stroke="#7f849a" stroke-width="0.9"/>
<line x1="972.5" y1="679" x2="972.5" y2="677.0" stroke="#7f849a" stroke-width="0.9"/>
<line x1="976.7" y1="679" x2="976.7" y2="677.0" stroke="#7f849a" stroke-width="0.9"/>
<line x1="980.8" y1="679" x2="980.8" y2="677.0" stroke="#7f849a" stroke-width="0.9"/>
<line x1="985.0" y1="679" x2="985.0" y2="677.0" stroke="#7f849a" stroke-width="0.9"/>
<line x1="989.2" y1="679" x2="989.2" y2="677.0" stroke="#7f849a" stroke-width="0.9"/>
<line x1="993.4" y1="679" x2="993.4" y2="677.0" stroke="#7f849a" stroke-width="0.9"/>
<line x1="997.5" y1="679" x2="997.5" y2="677.0" stroke="#7f849a" stroke-width="0.9"/>
<line x1="1001.7" y1="679" x2="1001.7" y2="677.0" stroke="#7f849a" stroke-width="0.9"/>
<line x1="1005.9" y1="679" x2="1005.9" y2="677.0" stroke="#7f849a" stroke-width="0.9"/>
<line x1="1010.1" y1="679" x2="1010.1" y2="677.0" stroke="#7f849a" stroke-width="0.9"/>
<line x1="1014.3" y1="679" x2="1014.3" y2="677.0" stroke="#7f849a" stroke-width="0.9"/>
<line x1="1018.4" y1="679" x2="1018.4" y2="677.0" stroke="#7f849a" stroke-width="0.9"/>
<line x1="1022.6" y1="679" x2="1022.6" y2="677.0" stroke="#7f849a" stroke-width="0.9"/>
<line x1="1026.8" y1="679" x2="1026.8" y2="677.0" stroke="#7f849a" stroke-width="0.9"/>
<line x1="1031.0" y1="679" x2="1031.0" y2="677.0" stroke="#7f849a" stroke-width="0.9"/>
<line x1="1035.1" y1="679" x2="1035.1" y2="677.0" stroke="#7f849a" stroke-width="0.9"/>
<line x1="1039.3" y1="679" x2="1039.3" y2="677.0" stroke="#7f849a" stroke-width="0.9"/>
<line x1="1043.5" y1="679" x2="1043.5" y2="677.0" stroke="#7f849a" stroke-width="0.9"/>
<line x1="1047.7" y1="679" x2="1047.7" y2="677.0" stroke="#7f849a" stroke-width="0.9"/>
<line x1="1051.8" y1="679" x2="1051.8" y2="677.0" stroke="#7f849a" stroke-width="0.9"/>
<line x1="1056.0" y1="679" x2="1056.0" y2="677.0" stroke="#7f849a" stroke-width="0.9"/>
<line x1="1060.2" y1="679" x2="1060.2" y2="677.0" stroke="#7f849a" stroke-width="0.9"/>
<line x1="1064.4" y1="679" x2="1064.4" y2="677.0" stroke="#7f849a" stroke-width="0.9"/>
<line x1="1068.6" y1="679" x2="1068.6" y2="677.0" stroke="#7f849a" stroke-width="0.9"/>
<line x1="1072.7" y1="679" x2="1072.7" y2="677.0" stroke="#7f849a" stroke-width="0.9"/>
<line x1="1076.9" y1="679" x2="1076.9" y2="677.0" stroke="#7f849a" stroke-width="0.9"/>
<line x1="1081.1" y1="679" x2="1081.1" y2="677.0" stroke="#7f849a" stroke-width="0.9"/>
<line x1="1085.3" y1="679" x2="1085.3" y2="677.0" stroke="#7f849a" stroke-width="0.9"/>
<line x1="1089.4" y1="679" x2="1089.4" y2="677.0" stroke="#7f849a" stroke-width="0.9"/>
<line x1="1093.6" y1="679" x2="1093.6" y2="677.0" stroke="#7f849a" stroke-width="0.9"/>
<line x1="1097.8" y1="679" x2="1097.8" y2="677.0" stroke="#7f849a" stroke-width="0.9"/>
<line x1="1102.0" y1="679" x2="1102.0" y2="677.0" stroke="#7f849a" stroke-width="0.9"/>
<line x1="1106.2" y1="679" x2="1106.2" y2="677.0" stroke="#7f849a" stroke-width="0.9"/>
<line x1="1110.3" y1="679" x2="1110.3" y2="677.0" stroke="#7f849a" stroke-width="0.9"/>
<line x1="1114.5" y1="679" x2="1114.5" y2="677.0" stroke="#7f849a" stroke-width="0.9"/>
<text transform="translate(1160.3,177.9) scale(1.16,1)" font-size="10.9" fill="#1e1e1e" stroke="#1e1e1e" stroke-width="0.3" text-anchor="end">-7.5%</text>
<text transform="translate(1160.3,161.7) scale(1.16,1)" font-size="10.9" fill="#1e1e1e" stroke="#1e1e1e" stroke-width="0.3" text-anchor="end">-5.0%</text>
<text transform="translate(1160.3,145.4) scale(1.16,1)" font-size="10.9" fill="#1e1e1e" stroke="#1e1e1e" stroke-width="0.3" text-anchor="end">-2.5%</text>
<text transform="translate(1160.3,129.2) scale(1.16,1)" font-size="10.9" fill="#1e1e1e" stroke="#1e1e1e" stroke-width="0.3" text-anchor="end">0.0%</text>
<text transform="translate(1160.3,113.0) scale(1.16,1)" font-size="10.9" fill="#1e1e1e" stroke="#1e1e1e" stroke-width="0.3" text-anchor="end">2.5%</text>
<text transform="translate(1160.3,96.7) scale(1.16,1)" font-size="10.9" fill="#1e1e1e" stroke="#1e1e1e" stroke-width="0.3" text-anchor="end">5.0%</text>
<text transform="translate(1160.3,80.5) scale(1.16,1)" font-size="10.9" fill="#1e1e1e" stroke="#1e1e1e" stroke-width="0.3" text-anchor="end">7.5%</text>
<text transform="translate(1160.3,64.2) scale(1.16,1)" font-size="10.9" fill="#1e1e1e" stroke="#1e1e1e" stroke-width="0.3" text-anchor="end">10.0%</text>
<text transform="translate(1160.3,48.0) scale(1.16,1)" font-size="10.9" fill="#1e1e1e" stroke="#1e1e1e" stroke-width="0.3" text-anchor="end">12.5%</text>
<text transform="translate(1160.3,31.7) scale(1.16,1)" font-size="10.9" fill="#1e1e1e" stroke="#1e1e1e" stroke-width="0.3" text-anchor="end">15.0%</text>
<text transform="translate(1160.3,14.5) scale(1.16,1)" font-size="10.9" fill="#1e1e1e" stroke="#1e1e1e" stroke-width="0.3" text-anchor="end">17.5%</text>
<text transform="translate(1125.6,644.2) scale(1.16,1)" font-size="10.9" fill="#1e1e1e" stroke="#1e1e1e" stroke-width="0.3" text-anchor="start">120</text>
<text transform="translate(1125.6,608.3) scale(1.16,1)" font-size="10.9" fill="#1e1e1e" stroke="#1e1e1e" stroke-width="0.3" text-anchor="start">125</text>
<text transform="translate(1125.6,573.8) scale(1.16,1)" font-size="10.9" fill="#1e1e1e" stroke="#1e1e1e" stroke-width="0.3" text-anchor="start">130</text>
<text transform="translate(1125.6,540.5) scale(1.16,1)" font-size="10.9" fill="#1e1e1e" stroke="#1e1e1e" stroke-width="0.3" text-anchor="start">135</text>
<text transform="translate(1125.6,508.5) scale(1.16,1)" font-size="10.9" fill="#1e1e1e" stroke="#1e1e1e" stroke-width="0.3" text-anchor="start">140</text>
<text transform="translate(1125.6,477.6) scale(1.16,1)" font-size="10.9" fill="#1e1e1e" stroke="#1e1e1e" stroke-width="0.3" text-anchor="start">145</text>
<text transform="translate(1125.6,447.8) scale(1.16,1)" font-size="10.9" fill="#1e1e1e" stroke="#1e1e1e" stroke-width="0.3" text-anchor="start">150</text>
<text transform="translate(1125.6,418.9) scale(1.16,1)" font-size="10.9" fill="#1e1e1e" stroke="#1e1e1e" stroke-width="0.3" text-anchor="start">155</text>
<text transform="translate(1125.6,391.0) scale(1.16,1)" font-size="10.9" fill="#1e1e1e" stroke="#1e1e1e" stroke-width="0.3" text-anchor="start">160</text>
<text transform="translate(1125.6,363.9) scale(1.16,1)" font-size="10.9" fill="#1e1e1e" stroke="#1e1e1e" stroke-width="0.3" text-anchor="start">165</text>
<text transform="translate(1125.6,337.6) scale(1.16,1)" font-size="10.9" fill="#1e1e1e" stroke="#1e1e1e" stroke-width="0.3" text-anchor="start">170</text>
<text transform="translate(1125.6,312.1) scale(1.16,1)" font-size="10.9" fill="#1e1e1e" stroke="#1e1e1e" stroke-width="0.3" text-anchor="start">175</text>
<text transform="translate(1125.6,287.3) scale(1.16,1)" font-size="10.9" fill="#1e1e1e" stroke="#1e1e1e" stroke-width="0.3" text-anchor="start">180</text>
<text transform="translate(1125.6,263.2) scale(1.16,1)" font-size="10.9" fill="#1e1e1e" stroke="#1e1e1e" stroke-width="0.3" text-anchor="start">185</text>
<text transform="translate(1125.6,239.7) scale(1.16,1)" font-size="10.9" fill="#1e1e1e" stroke="#1e1e1e" stroke-width="0.3" text-anchor="start">190</text>
<text transform="translate(1125.6,216.8) scale(1.16,1)" font-size="10.9" fill="#1e1e1e" stroke="#1e1e1e" stroke-width="0.3" text-anchor="start">195</text>
<text transform="translate(1125.6,194.5) scale(1.16,1)" font-size="10.9" fill="#1e1e1e" stroke="#1e1e1e" stroke-width="0.3" text-anchor="start">200</text>
<text transform="translate(1136.8,848.4) scale(1.16,1)" font-size="10.9" fill="#1e1e1e" stroke="#1e1e1e" stroke-width="0.3" text-anchor="end">-6</text>
<text transform="translate(1136.8,820.8) scale(1.16,1)" font-size="10.9" fill="#1e1e1e" stroke="#1e1e1e" stroke-width="0.3" text-anchor="end">-4</text>
<text transform="translate(1136.8,793.3) scale(1.16,1)" font-size="10.9" fill="#1e1e1e" stroke="#1e1e1e" stroke-width="0.3" text-anchor="end">-2</text>
<text transform="translate(1136.8,765.8) scale(1.16,1)" font-size="10.9" fill="#1e1e1e" stroke="#1e1e1e" stroke-width="0.3" text-anchor="end">0</text>
<text transform="translate(1136.8,738.2) scale(1.16,1)" font-size="10.9" fill="#1e1e1e" stroke="#1e1e1e" stroke-width="0.3" text-anchor="end">2</text>
<text transform="translate(1136.8,710.7) scale(1.16,1)" font-size="10.9" fill="#1e1e1e" stroke="#1e1e1e" stroke-width="0.3" text-anchor="end">4</text>
<text transform="translate(58.3,642.0) scale(1.16,1)" font-size="10.9" fill="#1e1e1e" stroke="#1e1e1e" stroke-width="0.3" text-anchor="end">25M</text>
<text transform="translate(58.3,619.8) scale(1.16,1)" font-size="10.9" fill="#1e1e1e" stroke="#1e1e1e" stroke-width="0.3" text-anchor="end">50M</text>
<text transform="translate(58.3,597.5) scale(1.16,1)" font-size="10.9" fill="#1e1e1e" stroke="#1e1e1e" stroke-width="0.3" text-anchor="end">75M</text>
<text transform="translate(58.3,575.3) scale(1.16,1)" font-size="10.9" fill="#1e1e1e" stroke="#1e1e1e" stroke-width="0.3" text-anchor="end">100M</text>
<text transform="translate(58.3,553.0) scale(1.16,1)" font-size="10.9" fill="#1e1e1e" stroke="#1e1e1e" stroke-width="0.3" text-anchor="end">125M</text>
<text transform="translate(58.3,530.7) scale(1.16,1)" font-size="10.9" fill="#1e1e1e" stroke="#1e1e1e" stroke-width="0.3" text-anchor="end">150M</text>
<text transform="translate(58.3,508.5) scale(1.16,1)" font-size="10.9" fill="#1e1e1e" stroke="#1e1e1e" stroke-width="0.3" text-anchor="end">175M</text>
<text transform="translate(145.1,674.6) scale(1.14,1)" font-size="10.5" fill="#1e1e1e" stroke="#1e1e1e" stroke-width="0.12" text-anchor="middle">Sep</text>
<text transform="translate(145.1,860.2) scale(1.14,1)" font-size="10.5" fill="#1e1e1e" stroke="#1e1e1e" stroke-width="0.12" text-anchor="middle">Sep</text>
<text transform="translate(228.7,674.6) scale(1.14,1)" font-size="10.5" fill="#1e1e1e" stroke="#1e1e1e" stroke-width="0.12" text-anchor="middle">Oct</text>
<text transform="translate(228.7,860.2) scale(1.14,1)" font-size="10.5" fill="#1e1e1e" stroke="#1e1e1e" stroke-width="0.12" text-anchor="middle">Oct</text>
<text transform="translate(320.6,674.6) scale(1.14,1)" font-size="10.5" fill="#1e1e1e" stroke="#1e1e1e" stroke-width="0.12" text-anchor="middle">Nov</text>
<text transform="translate(320.6,860.2) scale(1.14,1)" font-size="10.5" fill="#1e1e1e" stroke="#1e1e1e" stroke-width="0.12" text-anchor="middle">Nov</text>
<text transform="translate(408.3,674.6) scale(1.14,1)" font-size="10.5" fill="#1e1e1e" stroke="#1e1e1e" stroke-width="0.12" text-anchor="middle">Dec</text>
<text transform="translate(408.3,860.2) scale(1.14,1)" font-size="10.5" fill="#1e1e1e" stroke="#1e1e1e" stroke-width="0.12" text-anchor="middle">Dec</text>
<text transform="translate(491.8,674.6) scale(1.14,1)" font-size="10.5" fill="#1e1e1e" stroke="#1e1e1e" stroke-width="0.12" text-anchor="middle" font-weight="bold">2024</text>
<text transform="translate(491.8,860.2) scale(1.14,1)" font-size="10.5" fill="#1e1e1e" stroke="#1e1e1e" stroke-width="0.12" text-anchor="middle" font-weight="bold">2024</text>
<text transform="translate(579.5,674.6) scale(1.14,1)" font-size="10.5" fill="#1e1e1e" stroke="#1e1e1e" stroke-width="0.12" text-anchor="middle">Feb</text>
<text transform="translate(579.5,860.2) scale(1.14,1)" font-size="10.5" fill="#1e1e1e" stroke="#1e1e1e" stroke-width="0.12" text-anchor="middle">Feb</text>
<text transform="translate(663.1,674.6) scale(1.14,1)" font-size="10.5" fill="#1e1e1e" stroke="#1e1e1e" stroke-width="0.12" text-anchor="middle">Mar</text>
<text transform="translate(663.1,860.2) scale(1.14,1)" font-size="10.5" fill="#1e1e1e" stroke="#1e1e1e" stroke-width="0.12" text-anchor="middle">Mar</text>
<text transform="translate(746.6,674.6) scale(1.14,1)" font-size="10.5" fill="#1e1e1e" stroke="#1e1e1e" stroke-width="0.12" text-anchor="middle">Apr</text>
<text transform="translate(746.6,860.2) scale(1.14,1)" font-size="10.5" fill="#1e1e1e" stroke="#1e1e1e" stroke-width="0.12" text-anchor="middle">Apr</text>
<text transform="translate(838.5,674.6) scale(1.14,1)" font-size="10.5" fill="#1e1e1e" stroke="#1e1e1e" stroke-width="0.12" text-anchor="middle">May</text>
<text transform="translate(838.5,860.2) scale(1.14,1)" font-size="10.5" fill="#1e1e1e" stroke="#1e1e1e" stroke-width="0.12" text-anchor="middle">May</text>
<text transform="translate(930.4,674.6) scale(1.14,1)" font-size="10.5" fill="#1e1e1e" stroke="#1e1e1e" stroke-width="0.12" text-anchor="middle">Jun</text>
<text transform="translate(930.4,860.2) scale(1.14,1)" font-size="10.5" fill="#1e1e1e" stroke="#1e1e1e" stroke-width="0.12" text-anchor="middle">Jun</text>
<text transform="translate(1009.8,674.6) scale(1.14,1)" font-size="10.5" fill="#1e1e1e" stroke="#1e1e1e" stroke-width="0.12" text-anchor="middle">Jul</text>
<text transform="translate(1009.8,860.2) scale(1.14,1)" font-size="10.5" fill="#1e1e1e" stroke="#1e1e1e" stroke-width="0.12" text-anchor="middle">Jul</text>
<text transform="translate(1101.7,674.6) scale(1.14,1)" font-size="10.5" fill="#1e1e1e" stroke="#1e1e1e" stroke-width="0.12" text-anchor="middle">Aug</text>
<text transform="translate(1101.7,860.2) scale(1.14,1)" font-size="10.5" fill="#1e1e1e" stroke="#1e1e1e" stroke-width="0.12" text-anchor="middle">Aug</text>
<g clip-path="url(#cpb)">
<path d="M1119.5,131.9 L1125.0,125.4 L1171,125.4 L1171,138.4 L1125.0,138.4 Z" fill="#ffffff" stroke="#3a4468" stroke-width="1.3"/>
<text transform="translate(1169.2,136.0) scale(1.08,1)" font-size="11.6" fill="#1e1e1e" stroke="#1e1e1e" stroke-width="0.25" text-anchor="end" font-weight="bold">-1.17%</text>
<path d="M1119,254.1 L1124.5,247.8 L1166,247.8 L1166,260.4 L1124.5,260.4 Z" fill="#ffffff" stroke="#3a3aa8" stroke-width="1.3"/>
<text transform="translate(1164.2,258.2) scale(1.08,1)" font-size="11.2" fill="#1e1e1e" stroke="#1e1e1e" stroke-width="0.25" text-anchor="end">185.97</text>
<path d="M1119,280.9 L1124.5,274.6 L1166,274.6 L1166,287.2 L1124.5,287.2 Z" fill="#ffffff" stroke="#3f8a33" stroke-width="1.3"/>
<text transform="translate(1164.2,285.0) scale(1.08,1)" font-size="11.2" fill="#1e1e1e" stroke="#1e1e1e" stroke-width="0.25" text-anchor="end">180.50</text>
<path d="M1119,339.9 L1124.5,333.6 L1166,333.6 L1166,346.2 L1124.5,346.2 Z" fill="#ffffff" stroke="#e0504c" stroke-width="1.3"/>
<text transform="translate(1164.2,344.0) scale(1.08,1)" font-size="11.2" fill="#1e1e1e" stroke="#1e1e1e" stroke-width="0.25" text-anchor="end">168.85</text>
<path d="M1119,376.5 L1124.5,370.2 L1166,370.2 L1166,382.8 L1124.5,382.8 Z" fill="#ffffff" stroke="#1a1a1a" stroke-width="1.6"/>
<text transform="translate(1164.2,380.5) scale(1.08,1)" font-size="11.4" fill="#1e1e1e" stroke="#1e1e1e" stroke-width="0.25" text-anchor="end" font-weight="bold">161.93</text>
<path d="M1119.5,609.7 L1125.0,603.7 L1190,603.7 L1190,615.7 L1125.0,615.7 Z" fill="#ffffff" stroke="#444" stroke-width="1.3"/>
<text transform="translate(1124.0,613.8) scale(1.1,1)" font-size="11.6" fill="#1e1e1e" stroke="#1e1e1e" stroke-width="0.25" text-anchor="start">56342552</text>
<path d="M1118.5,797.6 L1124.0,791.7 L1162.5,791.7 L1162.5,803.5 L1124.0,803.5 Z" fill="#ffffff" stroke="#7f8fd0" stroke-width="1.3"/>
<text transform="translate(1160.7,801.6) scale(1.08,1)" font-size="11.2" fill="#1e1e1e" stroke="#1e1e1e" stroke-width="0.25" text-anchor="end">-2.693</text>
<path d="M1118.5,801.7 L1124.0,795.8 L1162.5,795.8 L1162.5,807.6 L1124.0,807.6 Z" fill="#ffffff" stroke="#b8365a" stroke-width="1.3"/>
<text transform="translate(1160.7,805.8) scale(1.08,1)" font-size="11.2" fill="#1e1e1e" stroke="#1e1e1e" stroke-width="0.25" text-anchor="end">-2.946</text>
<path d="M1118.5,838.3 L1124.0,832.4 L1162,832.4 L1162,844.2 L1124.0,844.2 Z" fill="#ffffff" stroke="#1a1a1a" stroke-width="1.3"/>
<text transform="translate(1160.2,842.3) scale(1.08,1)" font-size="11.2" fill="#1e1e1e" stroke="#1e1e1e" stroke-width="0.25" text-anchor="end">-5.639</text>
</g>
<rect x="67" y="15.5" width="8" height="2.4" fill="#2b3553"/>
<text x="79" y="20.5" font-size="11.3" fill="#1e1e1e" stroke="#1e1e1e" stroke-width="0.25" textLength="396" lengthAdjust="spacingAndGlyphs">Amazon.com, Inc./Vanguard Total Stock Market ETF -1.17%</text>
<rect x="65.7" y="181.3" width="2.2" height="6.6" fill="#9a9a9a" stroke="#111" stroke-width="1.1"/><rect x="68.2" y="185" width="3.8" height="4.4" fill="#000"/><rect x="72.9" y="181.5" width="2.3" height="7.3" fill="#8f8f8f" stroke="#111" stroke-width="1.1"/>
<text x="79" y="190" font-size="11.3" fill="#1e1e1e" stroke="#1e1e1e" stroke-width="0.25" textLength="218" lengthAdjust="spacingAndGlyphs">Amazon.com, Inc. (Daily) 161.93</text>
<rect x="65.5" y="197.4" width="10" height="2.3" fill="#3f8a33"/>
<text x="77" y="202.8" font-size="10.6" fill="#2c7624" stroke="#2c7624" stroke-width="0.25" textLength="84" lengthAdjust="spacingAndGlyphs">EMA(20) 180.50</text>
<rect x="65.5" y="210.4" width="10" height="2.3" fill="#2a2aa0"/>
<text x="77" y="215.8" font-size="10.6" fill="#2626a0" stroke="#2626a0" stroke-width="0.25" textLength="77" lengthAdjust="spacingAndGlyphs">MA(50) 185.97</text>
<rect x="65.5" y="223.4" width="10" height="2.3" fill="#dc403c"/>
<text x="77" y="228.8" font-size="10.6" fill="#c92824" stroke="#c92824" stroke-width="0.25" textLength="83" lengthAdjust="spacingAndGlyphs">MA(200) 168.85</text>
<path d="M65.5,241 v-5 h2 v5z M68,241 v-8 h2 v8z M70.5,241 v-9 h2 v9z M73,241 v-7 h2 v7z" fill="#3c6b35"/>
<text x="77.5" y="241.3" font-size="10.6" fill="#3c6b35" stroke="#3c6b35" stroke-width="0.25" textLength="97" lengthAdjust="spacingAndGlyphs">Volume 56,342,552</text>
<rect x="65.5" y="685.6" width="10.5" height="2.8" fill="#111"/>
<text x="79.5" y="691.2" font-size="11.3" stroke-width="0.2" textLength="254" lengthAdjust="spacingAndGlyphs"><tspan fill="#1e1e1e">MACD(12,26,9) -5.639</tspan><tspan fill="#b8365a">, -2.946</tspan><tspan fill="#6fa392">, -2.693</tspan></text>
</g>
<circle cx="1179.5" cy="865.5" r="7.6" fill="#000" clip-path="url(#cpb)"/>
</svg>
</body></html>
